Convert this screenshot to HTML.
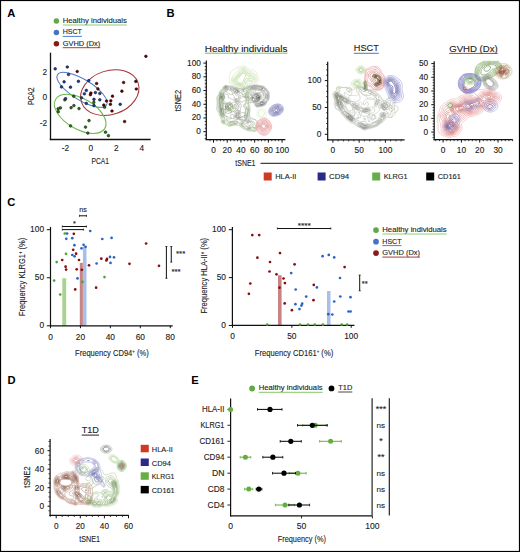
<!DOCTYPE html>
<html><head><meta charset="utf-8"><style>
html,body{margin:0;padding:0;background:#fff;}
svg{display:block;}
svg text{font-family:"Liberation Sans", sans-serif;}
</style></head><body>
<svg width="520" height="552" viewBox="0 0 520 552">
<rect width="520" height="552" fill="#fff"/>
<rect x="0.5" y="0.5" width="519" height="551" fill="none" stroke="#000" stroke-width="1.2"/>
<text x="7.2" y="17.3" font-size="11.2" font-weight="bold" fill="#000">A</text>
<text x="166.6" y="16.9" font-size="11.2" font-weight="bold" fill="#000">B</text>
<text x="7.2" y="206.3" font-size="11.2" font-weight="bold" fill="#000">C</text>
<text x="7.5" y="383.5" font-size="11.2" font-weight="bold" fill="#000">D</text>
<text x="191.3" y="383.9" font-size="11.2" font-weight="bold" fill="#000">E</text>
<circle cx="56.4" cy="21.1" r="2.75" fill="#62a844"/>
<text x="62.7" y="23" font-size="7.3" fill="#262626" textLength="64.2" lengthAdjust="spacingAndGlyphs" stroke="#262626" stroke-width="0.12">Healthy individuals</text>
<line x1="62.7" y1="25" x2="126.9" y2="25" stroke="#86c468" stroke-width="0.9"/>
<circle cx="56.4" cy="32.5" r="2.75" fill="#4674c4"/>
<text x="62.7" y="34.4" font-size="7.3" fill="#262626" textLength="19.2" lengthAdjust="spacingAndGlyphs" stroke="#262626" stroke-width="0.12">HSCT</text>
<line x1="62.7" y1="36.4" x2="81.9" y2="36.4" stroke="#3d6fd0" stroke-width="0.9"/>
<circle cx="56.4" cy="43.8" r="2.75" fill="#8c1818"/>
<text x="62.7" y="45.7" font-size="7.3" fill="#262626" textLength="37.6" lengthAdjust="spacingAndGlyphs" stroke="#262626" stroke-width="0.12">GVHD (Dx)</text>
<line x1="62.7" y1="47.7" x2="100.3" y2="47.7" stroke="#a82424" stroke-width="0.9"/>
<line x1="50.5" y1="52.7" x2="50.5" y2="140.1" stroke="#111" stroke-width="1.3"/>
<line x1="49.85" y1="139.5" x2="150.6" y2="139.5" stroke="#111" stroke-width="1.3"/>
<text x="47.1" y="75.3" font-size="8.3" text-anchor="end" fill="#222" stroke="#222" stroke-width="0.12">2</text>
<text x="47.1" y="100.4" font-size="8.3" text-anchor="end" fill="#222" stroke="#222" stroke-width="0.12">0</text>
<text x="47.1" y="125.5" font-size="8.3" text-anchor="end" fill="#222" stroke="#222" stroke-width="0.12">-2</text>
<text x="65.5" y="151" font-size="8.3" text-anchor="middle" fill="#222" stroke="#222" stroke-width="0.12">-2</text>
<text x="90.8" y="151" font-size="8.3" text-anchor="middle" fill="#222" stroke="#222" stroke-width="0.12">0</text>
<text x="116.4" y="151" font-size="8.3" text-anchor="middle" fill="#222" stroke="#222" stroke-width="0.12">2</text>
<text x="141.7" y="151" font-size="8.3" text-anchor="middle" fill="#222" stroke="#222" stroke-width="0.12">4</text>
<text x="100.25" y="163.7" font-size="9.3" text-anchor="middle" fill="#222" textLength="17.6" lengthAdjust="spacingAndGlyphs" stroke="#222" stroke-width="0.12">PCA1</text>
<text x="33.8" y="96.3" font-size="9.3" text-anchor="middle" fill="#222" textLength="17.6" lengthAdjust="spacingAndGlyphs" transform="rotate(-90 33.8 96.3)" stroke="#222" stroke-width="0.12">PCA2</text>
<ellipse cx="82" cy="89.8" rx="28.8" ry="10.3" transform="rotate(31.7 82 89.8)" fill="none" stroke="#4a78c8" stroke-width="1"/>
<ellipse cx="109.8" cy="92.6" rx="29.9" ry="21.9" transform="rotate(-19 109.8 92.6)" fill="none" stroke="#a83232" stroke-width="1"/>
<ellipse cx="80.2" cy="113.9" rx="28.6" ry="15.2" transform="rotate(30.4 80.2 113.9)" fill="none" stroke="#6ab84a" stroke-width="1"/>
<circle cx="73.7" cy="96.2" r="1.35" fill="#2e6a1e" stroke="#0a1a05" stroke-width="0.5"/>
<circle cx="64.8" cy="99.8" r="1.35" fill="#2e6a1e" stroke="#0a1a05" stroke-width="0.5"/>
<circle cx="60.4" cy="107.9" r="1.35" fill="#2e6a1e" stroke="#0a1a05" stroke-width="0.5"/>
<circle cx="58.1" cy="108.8" r="1.35" fill="#2e6a1e" stroke="#0a1a05" stroke-width="0.5"/>
<circle cx="58.3" cy="111.7" r="1.35" fill="#2e6a1e" stroke="#0a1a05" stroke-width="0.5"/>
<circle cx="71.1" cy="107.7" r="1.35" fill="#2e6a1e" stroke="#0a1a05" stroke-width="0.5"/>
<circle cx="73.9" cy="105.6" r="1.35" fill="#2e6a1e" stroke="#0a1a05" stroke-width="0.5"/>
<circle cx="79" cy="108.6" r="1.35" fill="#2e6a1e" stroke="#0a1a05" stroke-width="0.5"/>
<circle cx="93.8" cy="102.4" r="1.35" fill="#2e6a1e" stroke="#0a1a05" stroke-width="0.5"/>
<circle cx="89" cy="120.6" r="1.35" fill="#2e6a1e" stroke="#0a1a05" stroke-width="0.5"/>
<circle cx="70.5" cy="125.9" r="1.35" fill="#2e6a1e" stroke="#0a1a05" stroke-width="0.5"/>
<circle cx="85.5" cy="127.1" r="1.35" fill="#2e6a1e" stroke="#0a1a05" stroke-width="0.5"/>
<circle cx="87.8" cy="133.1" r="1.35" fill="#2e6a1e" stroke="#0a1a05" stroke-width="0.5"/>
<circle cx="105.5" cy="132.2" r="1.35" fill="#2e6a1e" stroke="#0a1a05" stroke-width="0.5"/>
<circle cx="108.4" cy="135.7" r="1.35" fill="#2e6a1e" stroke="#0a1a05" stroke-width="0.5"/>
<circle cx="104.6" cy="107.2" r="1.35" fill="#2e6a1e" stroke="#0a1a05" stroke-width="0.5"/>
<circle cx="55.2" cy="68.8" r="1.35" fill="#1a4090" stroke="#050a20" stroke-width="0.5"/>
<circle cx="67.3" cy="67" r="1.35" fill="#1a4090" stroke="#050a20" stroke-width="0.5"/>
<circle cx="68.5" cy="74.5" r="1.35" fill="#1a4090" stroke="#050a20" stroke-width="0.5"/>
<circle cx="64.1" cy="81.8" r="1.35" fill="#1a4090" stroke="#050a20" stroke-width="0.5"/>
<circle cx="78.4" cy="81.3" r="1.35" fill="#1a4090" stroke="#050a20" stroke-width="0.5"/>
<circle cx="61.5" cy="86.9" r="1.35" fill="#1a4090" stroke="#050a20" stroke-width="0.5"/>
<circle cx="70.5" cy="87.2" r="1.35" fill="#1a4090" stroke="#050a20" stroke-width="0.5"/>
<circle cx="88.8" cy="80.6" r="1.35" fill="#1a4090" stroke="#050a20" stroke-width="0.5"/>
<circle cx="86.3" cy="90.4" r="1.35" fill="#1a4090" stroke="#050a20" stroke-width="0.5"/>
<circle cx="84.4" cy="93.8" r="1.35" fill="#1a4090" stroke="#050a20" stroke-width="0.5"/>
<circle cx="95.4" cy="92.6" r="1.35" fill="#1a4090" stroke="#050a20" stroke-width="0.5"/>
<circle cx="99.8" cy="93.5" r="1.35" fill="#1a4090" stroke="#050a20" stroke-width="0.5"/>
<circle cx="81.5" cy="97.8" r="1.35" fill="#1a4090" stroke="#050a20" stroke-width="0.5"/>
<circle cx="94" cy="99.3" r="1.35" fill="#1a4090" stroke="#050a20" stroke-width="0.5"/>
<circle cx="99.8" cy="99.8" r="1.35" fill="#1a4090" stroke="#050a20" stroke-width="0.5"/>
<circle cx="86.3" cy="103.4" r="1.35" fill="#1a4090" stroke="#050a20" stroke-width="0.5"/>
<circle cx="94" cy="105.6" r="1.35" fill="#1a4090" stroke="#050a20" stroke-width="0.5"/>
<circle cx="120.2" cy="104.3" r="1.35" fill="#1a4090" stroke="#050a20" stroke-width="0.5"/>
<circle cx="65.6" cy="98.7" r="1.35" fill="#1a4090" stroke="#050a20" stroke-width="0.5"/>
<circle cx="77.2" cy="71.5" r="1.35" fill="#600000" stroke="#200000" stroke-width="0.5"/>
<circle cx="96.6" cy="83.5" r="1.35" fill="#600000" stroke="#200000" stroke-width="0.5"/>
<circle cx="97.9" cy="88.9" r="1.35" fill="#600000" stroke="#200000" stroke-width="0.5"/>
<circle cx="90.9" cy="93.1" r="1.35" fill="#600000" stroke="#200000" stroke-width="0.5"/>
<circle cx="90.4" cy="94.7" r="1.35" fill="#600000" stroke="#200000" stroke-width="0.5"/>
<circle cx="123.6" cy="82.5" r="1.35" fill="#600000" stroke="#200000" stroke-width="0.5"/>
<circle cx="121.9" cy="91.2" r="1.35" fill="#600000" stroke="#200000" stroke-width="0.5"/>
<circle cx="112.5" cy="96.2" r="1.35" fill="#600000" stroke="#200000" stroke-width="0.5"/>
<circle cx="106.5" cy="101" r="1.35" fill="#600000" stroke="#200000" stroke-width="0.5"/>
<circle cx="110.8" cy="100.8" r="1.35" fill="#600000" stroke="#200000" stroke-width="0.5"/>
<circle cx="110.4" cy="104.3" r="1.35" fill="#600000" stroke="#200000" stroke-width="0.5"/>
<circle cx="103.8" cy="105" r="1.35" fill="#600000" stroke="#200000" stroke-width="0.5"/>
<circle cx="112" cy="111" r="1.35" fill="#600000" stroke="#200000" stroke-width="0.5"/>
<circle cx="145.9" cy="56.3" r="1.35" fill="#600000" stroke="#200000" stroke-width="0.5"/>
<circle cx="135.8" cy="81.4" r="1.35" fill="#600000" stroke="#200000" stroke-width="0.5"/>
<circle cx="136.3" cy="89" r="1.35" fill="#600000" stroke="#200000" stroke-width="0.5"/>
<circle cx="124.6" cy="121.5" r="1.35" fill="#600000" stroke="#200000" stroke-width="0.5"/>
<g opacity="0.90"><path d="M252.6 88.6L251.4 89.0L250.2 89.3L249.0 89.5L247.8 89.6L246.6 89.7L245.4 89.7L244.2 89.5L243.0 89.2L241.8 88.8L241.2 88.6L240.6 88.5L239.4 88.3L238.2 88.2L237.0 87.9L235.8 87.4L235.8 87.4L234.6 86.8L233.9 86.2L233.4 85.9L232.2 85.2L231.9 85.0L231.0 84.4L230.3 83.8L229.8 82.7L229.7 82.6L229.5 81.4L229.6 80.2L229.7 79.0L229.7 77.8L229.7 76.6L229.7 75.4L229.8 74.7L229.9 74.2L230.3 73.0L231.0 71.9L231.1 71.8L232.2 70.7L232.4 70.6L233.4 69.8L234.1 69.4L234.6 69.1L235.8 68.4L236.2 68.2L237.0 67.8L238.2 67.3L239.0 67.0L239.4 66.8L240.6 66.3L241.8 66.0L243.0 65.8L244.2 65.9L245.4 66.3L246.4 67.0L246.6 67.1L247.8 68.2L247.8 68.2L249.0 69.2L249.3 69.4L250.2 69.7L251.4 69.8L252.6 69.9L253.8 70.3L254.4 70.6L255.0 71.0L255.8 71.8L256.2 72.3L256.6 73.0L257.2 74.2L257.4 74.7L257.7 75.4L258.1 76.6L258.4 77.8L258.4 79.0L258.2 80.2L257.9 81.4L257.5 82.6L257.4 82.7L257.0 83.8L256.5 85.0L256.2 85.5L255.8 86.2L255.0 87.2L254.8 87.4L253.8 88.1L252.7 88.6L252.6 88.6Z" fill="none" stroke="#cce6a8" stroke-width="0.55"/><path d="M246.6 88.6L246.2 88.6L245.4 88.6L244.2 88.4L243.0 88.0L241.8 87.6L241.1 87.4L240.6 87.3L239.4 87.1L238.2 86.9L237.0 86.5L236.4 86.2L235.8 85.9L234.6 85.1L234.4 85.0L233.4 84.3L232.6 83.8L232.2 83.3L231.6 82.6L231.3 81.4L231.4 80.2L231.6 79.0L232.0 77.8L232.2 77.4L232.6 76.6L233.3 75.4L233.4 75.2L234.5 74.2L234.6 74.1L235.6 73.0L235.8 72.8L236.3 71.8L237.0 71.1L237.3 70.6L238.2 69.7L238.5 69.4L239.4 68.8L240.3 68.2L240.6 68.0L241.8 67.5L243.0 67.3L244.2 67.4L245.4 67.9L245.8 68.2L246.6 68.8L247.3 69.4L247.8 70.0L248.4 70.6L249.0 71.1L250.2 71.6L251.4 71.8L251.5 71.8L252.6 72.1L253.8 72.9L253.9 73.0L254.9 74.2L255.0 74.3L255.7 75.4L256.2 76.4L256.3 76.6L256.6 77.8L256.7 79.0L256.5 80.2L256.2 80.9L256.0 81.4L255.4 82.6L255.0 83.3L254.6 83.8L253.8 84.8L253.6 85.0L252.6 86.0L252.3 86.2L251.4 86.8L250.5 87.4L250.2 87.6L249.0 88.1L247.8 88.4L246.7 88.6L246.6 88.6Z" fill="none" stroke="#c3e09d" stroke-width="0.55"/><path d="M247.8 87.4L246.6 87.7L245.4 87.8L244.2 87.5L243.8 87.4L243.0 87.1L241.8 86.8L240.6 86.5L239.5 86.2L239.4 86.2L238.2 85.9L237.0 85.5L236.1 85.0L235.8 84.8L234.6 84.0L234.3 83.8L233.4 83.0L233.0 82.6L232.5 81.4L232.5 80.2L232.8 79.0L233.4 77.9L233.4 77.8L234.6 76.6L234.6 76.6L235.8 75.7L236.2 75.4L237.0 74.6L237.3 74.2L238.0 73.0L238.2 72.7L238.7 71.8L239.4 70.7L239.5 70.6L240.6 69.5L240.7 69.4L241.8 68.8L243.0 68.5L244.2 68.5L245.4 69.0L245.9 69.4L246.6 70.1L247.1 70.6L247.8 71.5L248.1 71.8L249.0 72.5L250.2 73.0L250.4 73.0L251.4 73.3L252.6 73.9L253.0 74.2L253.8 75.0L254.1 75.4L254.9 76.6L255.0 76.9L255.3 77.8L255.4 79.0L255.1 80.2L255.0 80.5L254.5 81.4L253.8 82.3L253.4 82.6L252.6 83.1L251.4 83.4L250.2 83.3L249.1 83.8L249.4 85.0L249.2 86.2L249.0 86.4L247.9 87.4L247.8 87.4Z" fill="none" stroke="#b9db93" stroke-width="0.55"/><path d="M246.6 86.6L245.4 86.8L244.2 86.7L243.0 86.3L242.6 86.2L241.8 86.0L240.6 85.7L239.4 85.4L238.2 85.1L237.9 85.0L237.0 84.6L235.8 83.9L235.7 83.8L234.6 83.0L234.2 82.6L233.5 81.4L233.5 80.2L233.8 79.0L234.6 77.9L234.7 77.8L235.8 76.9L236.2 76.6L237.0 76.0L237.6 75.4L238.2 74.7L238.5 74.2L239.3 73.0L239.4 72.9L240.1 71.8L240.6 71.2L241.1 70.6L241.8 70.0L243.0 69.5L244.2 69.5L245.4 70.1L245.9 70.6L246.6 71.4L246.9 71.8L247.8 72.9L247.9 73.0L249.0 73.8L250.2 74.1L250.4 74.2L251.4 74.6L252.6 75.4L252.6 75.4L253.6 76.6L253.8 76.9L254.2 77.8L254.2 79.0L253.9 80.2L253.8 80.4L252.8 81.4L252.6 81.5L251.4 81.7L250.3 81.4L250.2 81.4L249.0 81.1L247.8 81.2L247.5 81.4L246.8 82.6L246.9 83.8L247.4 85.0L247.3 86.2L246.6 86.6Z" fill="none" stroke="#b0d588" stroke-width="0.55"/><path d="M245.4 85.1L244.2 85.5L243.0 85.4L241.8 85.2L240.8 85.0L240.6 85.0L239.4 84.7L238.2 84.3L237.2 83.8L237.0 83.7L235.8 82.9L235.4 82.6L234.6 81.6L234.5 81.4L234.4 80.2L234.6 79.5L234.8 79.0L235.8 77.9L235.9 77.8L237.0 77.0L237.5 76.6L238.2 75.9L238.6 75.4L239.4 74.4L239.5 74.2L240.5 73.0L240.6 72.8L241.5 71.8L241.8 71.5L243.0 70.7L244.2 70.6L244.2 70.6L244.2 70.6L245.4 71.3L245.9 71.8L246.6 72.8L246.8 73.0L247.7 74.2L247.8 74.3L249.0 75.0L250.2 75.3L250.5 75.4L251.4 75.8L252.3 76.6L252.6 77.0L253.0 77.8L253.0 79.0L252.6 79.9L252.0 80.2L251.4 80.4L250.2 80.2L250.2 80.2L249.0 79.9L247.8 79.8L246.7 80.2L246.6 80.3L245.8 81.4L245.4 82.6L245.4 82.6L245.4 82.7L245.4 83.8L245.5 85.0L245.4 85.1Z" fill="none" stroke="#a7cf7d" stroke-width="0.55"/><path d="M243.0 84.2L241.8 84.3L240.6 84.1L239.4 83.8L239.3 83.8L238.2 83.3L237.0 82.6L237.0 82.6L235.8 81.5L235.7 81.4L235.4 80.2L235.8 79.3L235.9 79.0L237.0 78.1L237.3 77.8L238.2 77.0L238.6 76.6L239.4 75.6L239.6 75.4L240.5 74.2L240.6 74.1L241.7 73.0L241.8 72.8L243.0 72.0L244.2 71.8L244.2 71.8L244.2 71.8L245.4 72.6L245.7 73.0L246.4 74.2L246.6 74.5L247.2 75.4L247.8 76.2L249.0 76.5L249.8 76.6L250.2 76.7L251.4 77.7L251.5 77.8L251.4 78.0L250.2 78.7L249.0 78.3L247.8 78.1L246.6 78.3L245.9 79.0L245.4 79.4L245.0 80.2L244.5 81.4L244.2 82.5L244.2 82.6L243.6 83.8L243.0 84.2Z" fill="none" stroke="#9dca73" stroke-width="0.55"/><path d="M241.8 83.1L240.6 83.1L239.4 82.8L239.1 82.6L238.2 82.0L237.5 81.4L237.0 80.5L236.9 80.2L237.0 79.9L237.5 79.0L238.2 78.3L238.7 77.8L239.4 77.0L239.7 76.6L240.6 75.4L240.6 75.4L241.7 74.2L241.8 74.1L243.0 73.3L244.2 73.1L245.3 74.2L245.4 74.5L245.7 75.4L245.5 76.6L245.4 76.7L244.7 77.8L244.2 78.6L244.0 79.0L243.6 80.2L243.2 81.4L243.0 82.0L242.6 82.6L241.8 83.1Z" fill="none" stroke="#94c468" stroke-width="0.55"/></g>
<g opacity="0.90"><path d="M256.2 131.1L255.0 131.6L253.8 131.5L252.6 131.4L251.4 131.2L250.2 131.1L249.0 130.9L247.8 130.8L247.4 130.6L246.6 130.4L245.4 129.7L245.0 129.4L244.2 128.9L243.4 128.2L243.0 128.0L241.8 127.3L241.4 127.0L240.6 126.7L239.4 125.9L239.3 125.8L238.2 125.2L237.0 125.4L235.8 125.4L234.6 125.4L233.4 125.6L232.2 125.8L232.0 125.8L231.0 126.1L229.8 126.3L228.6 126.3L227.8 125.8L227.4 125.6L226.2 124.9L225.7 124.6L225.0 124.3L223.8 124.1L222.6 123.7L222.2 123.4L221.4 122.5L221.2 122.2L221.1 121.0L221.2 119.8L221.0 118.6L220.5 117.4L220.2 116.6L219.9 116.2L219.2 115.0L219.0 114.2L218.7 113.8L218.3 112.6L218.1 111.4L218.0 110.2L217.9 109.0L217.8 107.8L217.8 107.5L217.5 106.6L217.2 105.4L217.1 104.2L217.0 103.0L217.0 101.8L216.9 100.6L216.9 99.4L217.3 98.2L217.8 97.3L217.9 97.0L218.2 95.8L218.5 94.6L218.8 93.4L219.0 93.0L219.1 92.2L219.6 91.0L220.2 90.4L221.0 89.8L221.4 89.5L222.4 88.6L222.6 88.5L223.6 87.4L223.8 87.2L224.6 86.2L225.0 85.9L226.2 85.5L227.4 85.8L228.0 86.2L228.6 86.9L229.2 87.4L229.8 88.5L230.0 88.6L231.0 89.5L232.2 89.6L233.4 89.1L234.5 88.6L234.6 88.6L235.8 88.1L237.0 87.9L238.2 88.0L239.4 88.6L239.4 88.6L240.6 89.2L241.8 89.5L243.0 89.3L244.2 88.9L245.1 88.6L245.4 88.5L246.6 88.4L247.8 88.4L248.5 88.6L249.0 88.7L250.2 88.9L251.4 88.9L252.6 89.0L253.8 89.2L255.0 89.8L255.1 89.8L256.2 90.3L257.4 90.6L258.6 90.6L259.8 90.8L261.0 90.9L261.3 91.0L262.2 91.2L263.4 91.8L263.8 92.2L263.9 93.4L263.5 94.6L263.4 95.1L263.3 95.8L263.4 96.5L263.5 97.0L263.9 98.2L263.9 99.4L263.4 100.6L263.4 100.6L262.2 101.5L261.0 101.4L259.8 101.1L258.6 101.1L257.4 101.8L257.4 101.8L256.2 102.7L255.0 102.9L253.8 102.7L252.6 102.5L251.4 102.2L250.2 102.5L250.0 103.0L249.8 104.2L249.5 105.4L249.4 106.6L249.5 107.8L249.7 109.0L249.9 110.2L249.9 111.4L249.8 112.6L249.5 113.8L249.3 115.0L249.2 116.2L249.5 117.4L250.2 118.0L251.4 118.4L251.9 118.6L252.6 118.8L253.8 119.2L254.8 119.8L255.0 119.9L256.2 120.8L256.4 121.0L257.4 122.0L257.6 122.2L258.6 123.3L258.7 123.4L259.0 124.6L258.6 125.8L258.6 125.8L257.4 126.8L257.2 127.0L257.0 128.2L257.1 129.4L256.7 130.6L256.2 131.1ZM228.2 119.8L227.4 119.3L226.2 118.6L226.0 119.8L226.2 120.1L227.4 120.6L228.2 119.8Z" fill="none" stroke="#a8c890" stroke-width="0.55"/><path d="M234.6 124.6L233.4 124.9L232.2 125.2L231.0 125.4L229.8 125.6L228.6 125.5L227.4 124.7L227.2 124.6L226.2 123.7L225.1 123.4L225.0 123.4L223.8 123.3L222.6 123.0L221.8 122.2L221.8 121.0L222.1 119.8L221.9 118.6L221.4 117.6L221.3 117.4L220.7 116.2L220.2 115.0L220.2 114.9L219.7 113.8L219.4 112.6L219.3 111.4L219.2 110.2L219.2 109.0L219.2 107.8L219.1 106.6L219.0 105.4L219.0 105.4L218.7 104.2L218.6 103.0L218.4 101.8L218.3 100.6L218.3 99.4L218.6 98.2L219.0 97.1L219.0 97.0L219.2 95.8L219.4 94.6L219.6 93.4L220.0 92.2L220.2 91.9L220.8 91.0L221.4 90.4L222.2 89.8L222.6 89.4L223.4 88.6L223.8 88.2L224.5 87.4L225.0 86.8L226.2 86.3L227.4 86.8L228.0 87.4L228.2 88.6L227.7 89.8L227.4 90.4L227.0 91.0L226.7 92.2L227.4 92.7L228.6 93.3L228.8 93.4L229.8 94.0L231.0 94.6L232.2 94.6L233.4 93.6L233.6 93.4L234.6 92.3L234.7 92.2L235.8 91.3L236.3 91.0L237.0 90.7L238.2 90.8L238.6 91.0L239.4 91.6L240.1 92.2L240.6 92.7L241.3 93.4L241.8 93.8L242.8 94.6L243.0 94.7L243.8 94.6L244.2 94.5L244.4 93.4L245.0 92.2L245.4 91.7L246.5 91.0L246.6 90.9L247.8 90.6L249.0 90.6L250.2 90.7L251.4 91.0L251.5 91.0L252.6 91.4L253.8 92.2L253.8 92.2L255.0 93.4L255.1 93.4L256.2 93.7L257.4 93.5L258.6 93.4L259.8 93.7L260.6 94.6L260.8 95.8L260.4 97.0L259.8 97.6L258.6 97.9L257.4 98.1L256.7 98.2L256.2 98.3L255.0 98.4L254.4 98.2L253.8 97.3L252.9 97.0L252.6 97.0L252.6 97.0L251.4 97.6L250.6 98.2L250.2 98.4L249.6 99.4L249.0 100.5L249.0 100.6L248.8 101.8L248.7 103.0L248.6 104.2L248.5 105.4L248.5 106.6L248.6 107.8L248.8 109.0L248.9 110.2L248.9 111.4L248.7 112.6L248.5 113.8L248.3 115.0L247.9 116.2L247.8 116.6L247.6 117.4L246.6 118.5L245.4 118.6L244.2 117.9L243.4 117.4L243.0 117.0L241.8 117.3L241.3 117.4L240.6 117.7L239.4 117.6L239.2 117.4L238.6 116.2L239.1 115.0L239.4 114.7L239.9 113.8L240.0 112.6L239.4 111.5L239.4 111.4L238.2 110.3L237.8 110.2L237.0 109.8L235.8 109.9L235.3 109.0L235.8 107.8L235.8 107.8L236.7 106.6L236.3 105.4L235.8 104.8L234.6 104.2L234.6 104.2L234.6 104.2L234.5 105.4L234.5 106.6L234.4 107.8L233.9 109.0L233.4 109.3L232.7 110.2L232.2 110.8L231.0 111.4L230.8 111.4L230.1 112.6L231.0 113.2L231.8 112.6L232.2 112.2L233.2 111.4L233.4 111.2L234.6 110.6L235.3 111.4L235.8 112.0L236.0 112.6L236.4 113.8L236.6 115.0L236.3 116.2L235.8 116.6L235.0 117.4L234.6 117.8L233.5 118.6L233.4 118.7L232.2 118.7L231.9 118.6L231.0 118.2L229.8 117.6L229.3 117.4L228.6 117.1L227.4 116.5L226.6 116.2L226.2 116.0L225.8 116.2L225.0 116.6L224.7 117.4L224.4 118.6L224.6 119.8L225.0 120.3L225.6 121.0L226.2 121.8L227.4 122.1L228.6 122.2L229.8 121.9L231.0 121.4L232.2 121.1L233.1 121.0L233.4 120.8L234.6 120.7L235.8 120.6L236.9 121.0L237.0 121.0L238.1 122.2L238.1 123.4L237.0 124.4L235.8 124.5L235.0 124.6L234.6 124.6ZM245.4 106.6L245.7 105.4L245.6 104.2L245.4 103.6L244.5 104.2L244.2 104.7L244.0 105.4L244.2 106.2L244.8 106.6L245.4 106.7L245.4 106.6ZM255.0 131.0L253.8 130.8L252.9 130.6L252.6 130.5L251.4 130.4L250.2 130.3L249.0 130.2L247.8 130.1L246.6 129.5L246.5 129.4L245.4 128.6L244.9 128.2L244.2 127.6L243.3 127.0L243.0 126.8L241.8 126.2L241.1 125.8L240.6 125.5L239.8 124.6L239.6 123.4L240.3 122.2L240.6 121.8L241.8 121.4L243.0 122.0L243.2 122.2L244.2 122.9L245.1 123.4L245.4 123.6L246.6 123.5L246.7 123.4L247.6 122.2L247.8 122.1L249.0 122.0L250.2 122.0L251.4 121.7L252.6 121.5L253.8 121.8L254.2 122.2L254.9 123.4L254.4 124.6L253.8 125.0L252.6 125.8L252.6 125.8L252.6 125.8L253.0 127.0L253.8 127.2L255.0 127.7L255.6 128.2L256.2 129.0L256.3 129.4L256.2 129.7L255.6 130.6L255.0 131.0Z" fill="none" stroke="#98b780" stroke-width="0.55"/><path d="M223.8 117.6L222.6 118.3L222.0 117.4L221.4 116.5L221.2 116.2L220.7 115.0L220.3 113.8L220.2 113.1L220.0 112.6L219.9 111.4L219.8 110.2L219.7 109.0L219.7 107.8L219.7 106.6L219.6 105.4L219.5 104.2L219.4 103.0L219.3 101.8L219.1 100.6L219.1 99.4L219.2 98.2L219.4 97.0L219.7 95.8L219.9 94.6L220.2 93.6L220.2 93.4L220.6 92.2L221.4 91.2L221.7 91.0L222.6 90.2L223.0 89.8L223.8 89.0L224.2 88.6L225.0 87.6L225.2 87.4L226.2 86.8L227.2 87.4L227.4 88.2L227.5 88.6L227.4 88.7L226.6 89.8L226.2 90.3L225.5 91.0L225.0 91.6L224.4 92.2L223.8 93.2L223.8 93.4L223.8 94.1L223.9 94.6L224.4 95.8L224.8 97.0L224.7 98.2L223.8 99.3L223.8 99.4L223.5 100.6L223.5 101.8L223.8 102.6L224.2 103.0L225.0 103.7L226.2 103.4L227.2 103.0L227.4 102.9L228.6 102.3L229.8 102.1L231.0 102.6L231.3 103.0L232.2 103.7L232.6 104.2L233.2 105.4L233.3 106.6L233.1 107.8L232.5 109.0L232.2 109.3L231.1 110.2L231.0 110.3L229.8 111.0L228.6 111.2L227.4 111.3L226.2 111.0L225.8 110.2L225.1 109.0L225.0 108.7L224.7 109.0L224.8 110.2L225.0 111.0L225.8 111.4L225.8 112.6L225.0 113.3L224.9 113.8L224.7 115.0L224.3 116.2L223.9 117.4L223.8 117.6ZM247.8 103.9L246.6 103.2L246.5 103.0L245.9 101.8L245.4 100.7L244.8 100.6L244.2 100.3L244.0 100.6L243.0 101.7L242.7 101.8L241.8 102.2L240.6 101.8L240.6 101.8L239.9 100.6L239.4 99.7L239.3 99.4L238.6 98.2L238.2 97.0L238.7 95.8L239.4 95.4L240.6 95.6L240.9 95.8L241.8 96.3L243.0 97.0L243.2 97.0L244.2 97.4L244.3 97.0L244.8 95.8L245.0 94.6L245.3 93.4L245.4 93.3L246.6 92.2L246.7 92.2L247.8 92.1L248.9 92.2L249.0 92.2L250.2 92.6L251.2 93.4L251.2 94.6L250.2 95.6L250.1 95.8L249.1 97.0L249.0 97.2L248.8 98.2L248.6 99.4L248.3 100.6L248.1 101.8L247.9 103.0L247.8 103.9ZM229.9 107.8L230.7 106.6L229.8 105.4L228.6 106.4L228.5 106.6L228.6 106.8L229.7 107.8L229.8 107.8L229.9 107.8ZM246.6 117.8L245.4 117.8L244.9 117.4L244.6 116.2L244.6 115.0L244.8 113.8L245.2 112.6L245.4 111.4L245.4 111.4L245.4 110.2L245.6 109.0L246.1 107.8L246.6 106.7L247.8 106.7L248.0 107.8L248.3 109.0L248.4 110.2L248.4 111.4L248.2 112.6L247.9 113.8L247.8 114.0L247.5 115.0L247.3 116.2L246.9 117.4L246.6 117.8ZM225.0 122.3L223.8 122.8L222.6 122.4L222.4 122.2L222.3 121.0L222.6 120.2L223.8 119.8L224.7 121.0L225.0 122.0L225.1 122.2L225.0 122.3ZM232.2 124.7L231.0 125.0L229.8 125.1L228.6 124.9L228.2 124.6L227.5 123.4L228.6 122.9L229.8 122.6L231.0 122.2L231.2 122.2L232.2 121.9L233.4 121.7L234.6 121.7L235.8 121.6L237.0 122.0L237.2 122.2L237.3 123.4L237.0 123.7L235.8 124.0L234.6 124.0L233.4 124.3L232.5 124.6L232.2 124.7ZM255.0 130.2L253.8 130.0L252.6 129.9L251.4 129.8L250.2 129.7L249.0 129.6L247.8 129.5L247.6 129.4L246.6 128.8L245.9 128.2L245.4 127.7L244.5 127.0L244.2 126.7L243.0 126.1L242.5 125.8L241.8 125.5L240.6 124.6L240.6 124.5L240.5 123.4L240.6 123.3L241.8 122.5L243.0 123.1L243.4 123.4L244.2 124.3L244.6 124.6L245.4 125.2L246.3 125.8L246.6 125.9L247.8 126.6L248.6 127.0L249.0 127.2L250.2 127.3L251.4 127.5L252.6 127.8L253.4 128.2L253.8 128.4L255.0 128.7L255.6 129.4L255.0 130.2Z" fill="none" stroke="#87a56f" stroke-width="0.55"/><path d="M222.6 117.2L221.9 116.2L221.4 115.6L221.1 115.0L220.7 113.8L220.5 112.6L220.4 111.4L220.3 110.2L220.3 109.0L220.3 107.8L220.3 106.6L220.2 105.8L220.2 105.4L220.0 104.2L219.9 103.0L219.8 101.8L219.6 100.6L219.5 99.4L219.6 98.2L219.8 97.0L220.1 95.8L220.2 95.5L220.4 94.6L220.7 93.4L221.2 92.2L221.4 91.9L222.6 91.0L222.6 91.0L223.8 89.8L223.8 89.8L224.9 88.6L225.0 88.4L226.0 87.4L226.2 87.3L226.4 87.4L226.7 88.6L226.2 89.3L225.6 89.8L225.0 90.4L224.4 91.0L223.8 91.6L223.2 92.2L223.2 93.4L223.3 94.6L223.4 95.8L223.5 97.0L223.5 98.2L223.0 99.4L222.6 100.5L222.6 100.6L222.5 101.8L222.6 102.1L222.9 103.0L223.4 104.2L223.5 105.4L223.4 106.6L223.3 107.8L223.3 109.0L223.4 110.2L223.6 111.4L223.8 112.6L223.8 113.1L223.9 113.8L223.8 115.0L223.8 115.1L223.5 116.2L222.6 117.2ZM246.6 101.1L246.3 100.6L245.8 99.4L245.5 98.2L245.5 97.0L245.6 95.8L245.7 94.6L246.0 93.4L246.6 92.8L247.8 93.0L248.3 93.4L248.6 94.6L248.5 95.8L248.4 97.0L248.2 98.2L247.9 99.4L247.8 99.9L247.2 100.6L246.6 101.1ZM229.8 110.4L228.6 110.6L227.4 110.3L227.3 110.2L226.2 109.2L226.1 109.0L225.4 107.8L225.1 106.6L225.3 105.4L226.2 104.4L226.4 104.2L227.4 103.5L228.6 103.2L229.8 103.0L231.0 103.4L231.9 104.2L232.2 104.6L232.7 105.4L232.8 106.6L232.6 107.8L232.2 108.4L231.7 109.0L231.0 109.6L230.1 110.2L229.8 110.4ZM231.0 107.8L231.0 107.8L231.5 106.6L231.0 105.8L230.6 105.4L229.8 104.9L228.6 105.2L228.4 105.4L228.1 106.6L228.4 107.8L228.6 107.9L229.8 108.3L231.0 107.8ZM246.6 116.5L245.4 116.2L245.6 115.0L245.9 113.8L246.0 112.6L246.0 111.4L246.1 110.2L246.4 109.0L246.6 108.6L247.5 109.0L247.8 109.3L247.9 110.2L247.9 111.4L247.8 111.9L247.5 112.6L247.2 113.8L247.0 115.0L246.7 116.2L246.6 116.5ZM223.8 122.3L223.6 122.2L223.1 121.0L223.8 120.7L224.1 121.0L224.0 122.2L223.8 122.3ZM235.8 123.4L234.6 123.5L233.4 123.7L232.2 124.0L231.0 124.3L229.8 124.4L229.3 123.4L229.8 123.2L231.0 122.9L232.2 122.7L233.4 122.7L234.6 123.1L235.8 123.1L235.9 123.4L235.8 123.4ZM243.0 125.0L241.8 124.9L241.4 124.6L241.4 123.4L241.8 123.1L242.3 123.4L243.0 124.2L243.4 124.6L243.0 125.0ZM246.6 127.0L246.6 127.0L246.6 127.0L246.6 127.0L246.6 127.0ZM250.2 128.5L249.0 128.6L247.8 128.5L247.1 128.2L247.8 127.8L249.0 128.0L250.2 128.1L250.8 128.2L250.2 128.5Z" fill="none" stroke="#76945f" stroke-width="0.55"/><path d="M222.6 116.3L222.6 116.2L221.7 115.0L221.4 114.6L221.2 113.8L221.0 112.6L220.9 111.4L220.8 110.2L220.8 109.0L220.9 107.8L220.9 106.6L220.8 105.4L220.7 104.2L220.8 103.0L220.8 101.8L220.2 100.8L220.2 100.6L220.0 99.4L220.0 98.2L220.2 97.4L220.3 97.0L220.6 95.8L220.8 94.6L221.2 93.4L221.4 92.9L222.6 93.4L222.6 93.4L222.8 94.6L222.9 95.8L223.0 97.0L222.9 98.2L222.6 98.8L222.4 99.4L221.9 100.6L221.7 101.8L222.0 103.0L222.4 104.2L222.6 105.0L222.7 105.4L222.6 106.6L222.6 106.9L222.6 107.8L222.6 108.2L222.6 109.0L222.8 110.2L222.9 111.4L223.2 112.6L223.3 113.8L223.2 115.0L222.6 116.2L222.6 116.3ZM246.6 99.4L246.6 99.4L246.2 98.2L246.1 97.0L246.2 95.8L246.3 94.6L246.6 93.4L246.6 93.4L246.7 93.4L247.5 94.6L247.6 95.8L247.6 97.0L247.3 98.2L246.6 99.4L246.6 99.4ZM231.0 109.0L229.8 109.5L228.6 110.0L227.4 109.7L226.6 109.0L226.2 108.3L225.9 107.8L225.5 106.6L225.8 105.4L226.2 105.0L227.1 104.2L227.4 104.0L228.6 103.8L229.8 103.8L231.0 104.0L231.2 104.2L231.0 104.7L229.8 104.4L228.6 104.6L227.9 105.4L227.6 106.6L228.0 107.8L228.6 108.4L229.8 108.8L231.0 108.9L231.0 109.0L231.0 109.0ZM232.2 106.8L232.1 106.6L232.2 105.6L232.2 106.6L232.2 106.8Z" fill="none" stroke="#66834f" stroke-width="0.55"/><path d="M221.4 100.3L220.7 99.4L220.6 98.2L220.8 97.0L221.0 95.8L221.3 94.6L221.4 94.2L221.7 94.6L222.2 95.8L222.4 97.0L222.2 98.2L221.8 99.4L221.4 100.3ZM227.4 105.7L227.1 105.4L227.4 105.2L227.5 105.4L227.4 105.7ZM226.2 107.4L226.0 106.6L226.2 105.9L226.9 106.6L226.2 107.4ZM228.6 109.3L227.4 109.3L227.1 109.0L226.8 107.8L227.4 107.3L227.5 107.8L228.6 108.8L229.1 109.0L228.6 109.3ZM221.4 112.6L221.4 112.6L221.4 111.4L221.3 110.2L221.3 109.0L221.4 108.1L221.6 109.0L221.6 110.2L221.6 111.4L221.8 112.6L221.4 112.6ZM222.6 115.0L222.6 115.0L222.1 113.8L222.6 112.7L222.8 113.8L222.6 115.0L222.6 115.0Z" fill="none" stroke="#56713e" stroke-width="0.55"/><path d="M221.4 98.8L221.2 98.2L221.2 97.0L221.4 96.1L221.7 97.0L221.6 98.2L221.4 98.8Z" fill="none" stroke="#45602e" stroke-width="0.55"/></g>
<g opacity="0.85"><path d="M250.2 128.6L249.0 128.9L247.8 129.1L246.6 129.3L245.4 129.2L244.2 128.9L243.0 128.3L242.8 128.2L241.8 127.6L241.0 127.0L240.6 126.6L239.9 125.8L239.5 124.6L239.4 124.2L239.2 123.4L238.2 122.2L238.1 122.2L237.0 122.0L235.8 121.8L234.6 121.7L233.4 121.7L232.2 121.6L231.0 121.5L229.8 121.3L228.7 121.0L228.6 121.0L227.4 120.6L226.3 119.8L226.2 119.7L225.2 118.6L225.0 118.4L224.2 117.4L223.8 116.8L223.3 116.2L222.7 115.0L222.6 114.8L222.0 113.8L221.4 113.1L220.9 112.6L220.2 111.9L219.0 111.4L218.9 111.4L217.8 111.1L216.8 110.2L216.6 109.8L216.4 109.0L216.4 107.8L216.6 107.2L216.8 106.6L217.2 105.4L217.5 104.2L217.5 103.0L217.6 101.8L217.6 100.6L217.4 99.4L216.9 98.2L216.9 97.0L217.8 95.8L217.8 95.8L219.0 95.0L219.4 94.6L220.2 94.0L221.3 93.4L221.4 93.3L222.6 92.7L223.8 92.3L224.2 92.2L225.0 91.7L226.2 91.5L227.1 91.0L226.2 90.8L225.0 90.6L224.1 89.8L223.8 89.6L223.0 88.6L222.8 87.4L223.5 86.2L223.8 86.0L225.0 85.4L226.2 85.5L227.4 85.7L228.6 85.8L229.8 85.9L231.0 86.0L232.0 86.2L232.2 86.2L233.4 86.4L234.6 86.7L235.7 87.4L235.8 87.4L237.0 87.9L238.2 88.5L238.8 88.6L239.4 88.7L240.6 88.7L241.0 88.6L241.8 88.4L243.0 88.0L244.2 87.8L245.4 87.4L245.4 87.4L246.6 86.6L247.8 86.2L247.9 86.2L249.0 85.8L250.2 85.5L251.4 85.2L252.6 85.1L253.8 85.0L255.0 85.0L256.2 85.0L257.4 85.1L258.6 85.2L259.8 85.4L261.0 85.6L262.2 85.9L263.1 86.2L263.4 86.3L264.6 86.7L265.3 87.4L265.8 87.9L266.4 88.6L267.0 89.4L267.4 89.8L268.2 90.9L268.3 91.0L269.1 92.2L269.3 93.4L269.3 94.6L269.3 95.8L269.3 97.0L269.2 98.2L269.1 99.4L268.4 100.6L268.2 100.8L267.3 101.8L267.0 102.2L266.6 103.0L266.1 104.2L265.8 104.5L264.8 105.4L264.6 105.5L263.4 106.0L262.2 106.3L261.0 106.5L259.9 106.6L259.8 106.6L258.6 107.0L257.4 107.3L256.2 106.9L255.8 106.6L255.0 105.6L254.8 105.4L254.5 104.2L254.1 103.0L253.8 102.9L252.6 102.6L251.4 102.2L250.2 102.2L249.0 102.6L248.5 103.0L247.8 104.1L247.8 104.2L247.8 104.4L248.0 105.4L249.0 106.2L249.3 106.6L249.8 107.8L249.9 109.0L249.9 110.2L249.8 111.4L249.6 112.6L249.4 113.8L249.5 115.0L249.9 116.2L250.2 116.7L250.8 117.4L251.4 118.0L252.2 118.6L252.6 118.9L253.8 119.3L255.0 119.5L256.2 119.8L256.2 119.8L257.4 121.0L257.4 121.6L257.4 122.2L257.4 122.3L257.1 123.4L256.8 124.6L256.8 125.8L256.3 127.0L256.2 127.1L255.0 127.4L253.8 127.4L252.6 127.7L251.4 128.2L251.3 128.2L250.2 128.6ZM254.2 92.2L255.0 91.5L255.9 91.0L255.0 90.6L253.8 90.1L252.6 90.0L251.4 90.4L250.7 91.0L251.4 92.2L251.4 92.2L252.6 92.7L253.8 92.4L254.2 92.2ZM236.1 106.6L236.5 105.4L235.8 104.9L234.6 104.7L233.8 105.4L234.6 106.2L235.5 106.6L235.8 106.7L236.1 106.6Z" fill="none" stroke="#a8a8a8" stroke-width="0.55"/><path d="M249.0 127.3L247.8 127.2L246.8 127.0L246.6 126.9L245.4 126.6L244.2 126.5L243.0 126.2L242.5 125.8L241.8 124.8L241.7 124.6L241.8 124.3L242.3 123.4L243.0 122.8L244.2 122.3L244.3 122.2L244.2 122.2L243.0 121.6L242.6 121.0L241.8 120.7L240.6 120.3L239.4 119.9L238.9 119.8L238.2 119.7L237.0 119.6L235.8 119.4L234.6 119.0L233.6 118.6L233.5 117.4L233.6 116.2L233.6 115.0L233.4 114.7L232.2 114.4L231.0 114.9L230.9 115.0L230.5 116.2L231.0 117.4L231.0 117.4L231.4 118.6L231.0 118.7L229.8 119.0L228.6 118.9L228.1 118.6L227.4 118.0L227.0 117.4L226.4 116.2L226.2 116.0L225.4 115.0L225.0 114.6L224.2 113.8L223.8 113.5L222.9 112.6L222.6 112.3L221.8 111.4L221.4 110.9L220.7 110.2L220.2 109.7L219.1 109.0L219.0 108.8L218.5 107.8L218.6 106.6L218.9 105.4L219.0 105.1L219.2 104.2L219.4 103.0L219.6 101.8L219.7 100.6L219.7 99.4L219.6 98.2L219.8 97.0L220.2 96.4L220.5 95.8L221.4 94.9L222.0 94.6L222.6 94.3L223.8 94.0L225.0 93.9L226.2 94.1L227.4 94.4L228.3 94.6L228.3 95.8L228.2 97.0L228.6 97.7L229.8 98.1L229.9 98.2L231.0 98.8L231.8 99.4L232.2 99.8L233.4 99.7L233.5 99.4L234.2 98.2L234.4 97.0L233.7 95.8L233.4 95.4L232.6 94.6L232.3 93.4L232.3 92.2L232.2 92.1L231.1 91.0L231.0 90.9L229.8 90.5L228.6 89.8L228.5 89.8L227.4 89.5L226.2 89.4L225.0 89.3L224.1 88.6L223.8 87.6L223.7 87.4L223.8 87.3L224.7 86.2L225.0 86.0L226.2 86.2L226.3 86.2L227.4 86.5L228.6 86.6L229.8 86.7L231.0 86.7L232.2 86.9L233.4 87.3L233.6 87.4L234.6 87.7L235.8 88.2L236.4 88.6L237.0 88.8L238.2 89.2L239.2 89.8L239.4 90.0L240.6 90.4L241.2 89.8L241.8 89.5L243.0 88.8L244.2 88.8L245.0 88.6L245.4 88.5L246.6 87.8L247.0 87.4L247.8 87.0L249.0 86.5L250.0 86.2L250.2 86.1L251.4 85.7L252.6 85.6L253.8 85.4L255.0 85.4L256.2 85.5L257.4 85.5L258.6 85.7L259.8 85.9L260.8 86.2L261.0 86.2L262.2 86.5L263.4 86.7L264.5 87.4L264.6 87.5L265.7 88.6L265.8 88.8L266.6 89.8L267.0 90.3L267.6 91.0L268.2 91.8L268.5 92.2L268.7 93.4L268.8 94.6L268.8 95.8L268.8 97.0L268.7 98.2L268.5 99.4L268.2 99.8L267.5 100.6L267.0 101.2L266.6 101.8L266.0 103.0L265.8 103.3L265.4 104.2L264.6 105.0L263.4 105.4L263.4 105.4L262.2 105.8L261.0 106.0L259.8 106.2L258.6 106.5L257.8 106.6L257.4 106.7L257.1 106.6L256.2 106.3L255.4 105.4L255.3 104.2L255.6 103.0L255.0 102.7L253.8 102.2L253.1 101.8L252.6 101.6L251.4 100.8L250.9 100.6L250.2 100.2L249.0 100.2L247.8 100.3L247.3 100.6L246.6 101.3L246.2 101.8L245.4 103.0L245.4 103.1L244.3 104.2L244.2 104.4L243.6 105.4L243.6 106.6L244.2 107.6L244.6 107.8L245.4 108.0L246.6 108.1L247.8 108.6L248.0 109.0L248.1 110.2L247.8 111.2L247.7 111.4L247.3 112.6L247.4 113.8L247.6 115.0L247.8 115.4L248.1 116.2L248.8 117.4L249.0 117.7L249.8 118.6L250.2 119.0L250.9 119.8L251.4 120.5L251.9 121.0L252.6 122.2L252.6 122.3L252.9 123.4L252.6 124.6L252.6 124.6L251.9 125.8L251.4 126.2L250.2 127.0L250.2 127.0L249.0 127.3ZM264.0 94.6L263.9 93.4L263.4 93.1L262.4 92.2L262.2 92.0L261.4 91.0L261.0 90.8L259.8 90.6L258.6 90.0L258.2 89.8L257.4 89.6L256.2 89.5L255.0 89.4L253.8 89.3L252.6 89.3L251.4 89.4L250.2 89.7L250.0 89.8L249.0 90.8L248.8 91.0L249.0 91.3L249.5 92.2L250.2 92.9L250.7 93.4L251.4 94.1L252.6 94.1L253.8 93.6L254.5 93.4L255.0 93.1L256.2 92.7L257.4 92.5L258.6 92.5L259.8 92.4L261.0 92.5L262.2 92.8L262.6 93.4L263.1 94.6L263.4 95.5L264.0 94.6ZM240.9 98.2L240.7 97.0L240.6 96.9L239.4 96.8L239.1 97.0L239.1 98.2L239.4 98.6L240.6 99.0L240.9 98.2ZM237.6 107.8L238.2 107.0L238.3 106.6L238.2 106.0L238.0 105.4L237.0 104.2L237.0 104.2L235.8 103.3L235.3 103.0L234.6 102.5L233.4 102.1L232.2 103.0L232.2 103.0L231.2 104.2L231.0 104.9L230.9 105.4L231.0 106.5L231.0 106.6L232.2 107.8L232.3 107.8L233.4 108.0L234.6 108.3L235.8 108.7L237.0 108.6L237.6 107.8Z" fill="none" stroke="#9a9a9a" stroke-width="0.55"/><path d="M261.0 105.6L259.8 105.9L258.6 106.1L257.4 106.3L256.2 105.8L255.8 105.4L255.8 104.2L256.2 103.4L256.9 103.0L256.2 102.6L255.0 102.2L254.2 101.8L253.8 101.7L252.6 101.0L252.0 100.6L251.4 99.9L250.7 99.4L250.2 98.6L249.3 98.2L249.0 97.9L247.8 97.0L247.8 97.0L246.6 96.8L245.9 97.0L245.4 97.2L244.2 97.3L244.0 97.0L243.3 95.8L243.0 95.2L242.5 94.6L242.2 93.4L241.8 92.2L241.8 91.9L241.8 91.0L241.8 90.9L242.5 89.8L243.0 89.5L244.2 89.5L245.4 89.7L246.0 89.8L246.6 90.0L247.0 91.0L247.4 92.2L247.8 92.4L249.0 93.3L249.1 93.4L249.8 94.6L250.2 95.2L251.4 95.3L252.6 94.9L253.2 94.6L253.8 94.2L255.0 93.7L256.2 93.5L257.4 93.5L258.6 93.6L259.8 93.9L261.0 94.5L261.1 94.6L261.7 95.8L261.8 97.0L261.9 98.2L262.0 99.4L262.2 99.8L263.4 99.8L264.2 99.4L264.6 99.1L265.1 98.2L264.9 97.0L264.9 95.8L265.1 94.6L265.3 93.4L264.6 92.7L264.0 92.2L263.4 91.7L262.7 91.0L262.2 90.5L261.0 90.1L260.2 89.8L259.8 89.7L258.6 89.4L257.4 89.1L256.2 89.0L255.0 88.9L253.8 88.8L252.6 88.8L251.4 88.9L250.2 89.1L249.0 89.3L247.8 89.4L247.2 88.6L247.8 88.1L248.3 87.4L249.0 87.1L250.2 86.7L251.3 86.2L251.4 86.2L252.6 86.0L253.8 85.9L255.0 85.8L256.2 85.9L257.4 86.0L258.6 86.1L258.8 86.2L259.8 86.4L261.0 86.6L262.2 86.8L263.4 87.1L263.9 87.4L264.6 88.0L265.2 88.6L265.8 89.5L266.1 89.8L266.9 91.0L267.0 91.2L267.8 92.2L268.2 93.3L268.2 93.4L268.3 94.6L268.3 95.8L268.3 97.0L268.2 98.2L268.2 98.3L267.9 99.4L267.0 100.4L266.8 100.6L266.0 101.8L265.8 102.1L265.5 103.0L265.0 104.2L264.6 104.6L263.4 105.1L262.2 105.3L261.9 105.4L261.0 105.6ZM238.2 94.7L237.0 95.3L235.8 94.9L235.5 94.6L234.7 93.4L234.6 93.3L233.8 92.2L233.4 91.8L232.5 91.0L232.2 90.7L231.0 90.0L230.7 89.8L229.8 89.4L228.6 89.0L227.4 88.8L226.2 88.8L225.0 88.7L224.9 88.6L224.3 87.4L225.0 86.6L226.2 86.7L227.4 87.1L228.6 87.3L229.8 87.3L231.0 87.3L231.4 87.4L232.2 87.6L233.4 87.9L234.6 88.2L235.3 88.6L235.8 88.8L237.0 89.3L238.0 89.8L238.2 89.9L239.4 91.0L239.4 91.3L240.0 92.2L239.9 93.4L239.4 93.7L238.4 94.6L238.2 94.7ZM229.8 113.1L228.6 113.4L227.4 113.3L226.2 112.9L225.7 112.6L225.0 112.2L223.8 111.5L223.7 111.4L222.6 110.4L222.4 110.2L221.4 109.0L221.4 109.0L220.4 107.8L220.2 107.2L220.0 106.6L220.2 105.4L220.2 105.3L220.6 104.2L221.1 103.0L221.4 102.1L221.6 101.8L222.3 100.6L222.4 99.4L222.0 98.2L221.9 97.0L222.6 95.9L222.8 95.8L223.8 95.6L224.4 95.8L224.8 97.0L224.1 98.2L223.8 99.1L223.3 99.4L223.8 99.8L224.0 100.6L225.0 101.7L225.1 101.8L226.0 103.0L226.2 103.2L227.1 104.2L227.4 104.7L227.9 105.4L228.1 106.6L228.6 107.8L228.6 107.8L229.5 109.0L229.8 109.3L230.8 110.2L231.0 110.6L232.0 111.4L231.0 112.3L230.8 112.6L229.8 113.1ZM250.2 125.4L249.0 125.7L248.0 124.6L247.9 123.4L247.8 123.4L246.9 122.2L246.6 122.0L245.4 121.5L244.4 121.0L244.2 120.9L243.0 120.5L241.8 119.9L241.5 119.8L240.6 119.5L239.4 119.3L238.2 119.1L237.1 118.6L237.0 118.6L235.8 118.1L235.0 117.4L234.6 116.2L234.8 115.0L235.1 113.8L234.6 112.6L234.6 112.5L233.4 111.5L232.8 111.4L233.4 111.2L234.6 110.9L235.8 111.2L237.0 110.4L237.2 110.2L237.9 109.0L238.2 108.6L238.7 107.8L239.1 106.6L238.8 105.4L238.2 104.7L237.8 104.2L237.0 103.5L236.4 103.0L235.8 102.4L235.1 101.8L234.6 100.8L234.4 100.6L234.6 99.9L234.6 99.4L235.8 98.3L237.0 98.4L238.0 99.4L238.2 99.8L238.8 100.6L239.3 101.8L239.4 102.1L240.0 103.0L240.6 104.2L240.6 104.2L241.4 105.4L241.3 106.6L240.8 107.8L240.6 108.2L240.4 109.0L240.3 110.2L240.5 111.4L240.6 111.9L241.5 112.6L241.8 112.8L243.0 112.7L243.5 112.6L244.2 112.5L244.4 112.6L245.4 113.2L245.7 113.8L246.2 115.0L246.6 116.1L246.6 116.2L247.0 117.4L247.8 118.3L248.1 118.6L249.0 119.1L249.7 119.8L250.2 121.0L250.2 121.0L250.7 122.2L251.2 123.4L251.0 124.6L250.2 125.4Z" fill="none" stroke="#8c8c8c" stroke-width="0.55"/><path d="M226.2 87.6L225.0 87.7L224.8 87.4L225.0 87.2L226.2 87.3L226.5 87.4L226.2 87.6ZM259.8 105.5L258.6 105.8L257.4 106.0L256.3 105.4L256.2 104.2L257.4 103.3L258.1 103.0L258.6 102.7L259.8 102.0L260.3 101.8L261.0 101.2L262.2 101.1L263.4 100.8L263.8 100.6L264.6 100.1L265.4 99.4L265.7 98.2L265.5 97.0L265.5 95.8L265.8 94.6L265.8 94.5L266.2 93.4L265.8 92.8L265.2 92.2L264.6 91.8L263.5 91.0L263.4 90.9L262.3 89.8L262.2 89.8L261.0 89.5L259.8 89.2L258.6 88.9L257.5 88.6L257.4 88.6L256.2 88.4L255.0 88.3L253.8 88.3L252.6 88.2L251.4 88.2L250.2 88.4L249.6 87.4L250.2 87.2L251.4 86.8L252.6 86.5L253.8 86.3L255.0 86.2L256.2 86.4L257.4 86.5L258.6 86.6L259.8 86.8L261.0 87.0L262.2 87.2L263.1 87.4L263.4 87.5L264.6 88.5L264.6 88.6L265.5 89.8L265.8 90.4L266.2 91.0L267.0 92.0L267.1 92.2L267.5 93.4L267.7 94.6L267.8 95.8L267.9 97.0L267.7 98.2L267.2 99.4L267.0 99.7L266.0 100.6L265.8 100.9L265.4 101.8L265.1 103.0L264.6 104.1L264.5 104.2L263.4 104.8L262.2 105.1L261.0 105.2L260.2 105.4L259.8 105.5ZM237.0 93.7L236.5 93.4L235.8 93.2L234.7 92.2L234.6 92.1L233.4 91.0L233.4 90.9L232.2 90.0L231.9 89.8L231.0 88.9L230.1 88.6L231.0 88.3L232.2 88.2L233.4 88.4L234.1 88.6L234.6 88.8L235.8 89.2L237.0 89.8L237.0 89.8L238.2 90.4L238.8 91.0L238.9 92.2L238.2 93.2L237.5 93.4L237.0 93.7ZM244.2 91.7L243.0 91.6L242.6 91.0L243.0 90.4L244.2 90.6L244.6 91.0L244.2 91.7ZM256.2 101.8L256.1 101.8L255.0 101.7L253.8 101.3L252.7 100.6L252.6 100.5L251.6 99.4L251.4 99.0L250.8 98.2L250.9 97.0L251.4 96.5L252.0 95.8L252.6 95.5L253.8 94.9L254.2 94.6L255.0 94.2L256.2 93.9L257.4 93.9L258.6 94.4L259.0 94.6L259.8 95.1L260.4 95.8L260.8 97.0L260.8 98.2L260.5 99.4L259.8 100.1L259.4 100.6L258.6 101.2L257.4 101.7L256.3 101.8L256.2 101.8ZM255.8 98.2L255.5 97.0L255.0 96.7L254.4 97.0L254.1 98.2L255.0 99.0L255.8 98.2ZM238.2 103.7L237.3 103.0L237.0 102.8L235.9 101.8L235.8 101.6L235.1 100.6L235.3 99.4L235.8 98.9L237.0 99.2L237.1 99.4L237.9 100.6L238.2 101.1L238.6 101.8L238.9 103.0L238.2 103.7ZM225.0 109.5L223.8 109.3L223.4 109.0L222.6 108.5L222.0 107.8L221.4 106.7L221.3 106.6L221.4 105.4L221.4 105.4L222.1 104.2L222.6 103.6L223.8 103.3L225.0 104.2L225.0 104.2L225.7 105.4L225.9 106.6L225.9 107.8L225.7 109.0L225.0 109.5ZM239.4 104.5L239.3 104.2L239.4 104.1L239.5 104.2L239.4 104.5ZM249.0 122.4L248.4 122.2L247.8 122.1L246.6 121.3L246.0 121.0L245.4 120.7L244.2 120.3L243.0 119.8L242.9 119.8L241.8 119.2L240.6 119.0L239.4 118.8L238.8 118.6L238.2 118.4L237.0 118.0L236.0 117.4L235.8 117.2L235.1 116.2L235.5 115.0L235.8 114.4L236.2 113.8L236.3 112.6L237.0 111.7L237.3 111.4L238.2 110.2L239.4 110.5L239.5 111.4L239.8 112.6L240.1 113.8L240.0 115.0L240.6 116.0L240.8 116.2L241.8 116.8L243.0 116.7L243.6 116.2L244.2 115.5L244.5 116.2L244.7 117.4L245.4 117.7L246.2 118.6L246.6 118.8L247.8 119.3L248.7 119.8L249.0 120.1L249.6 121.0L249.2 122.2L249.0 122.4Z" fill="none" stroke="#7e7e7e" stroke-width="0.55"/><path d="M264.6 91.0L264.6 91.0L263.4 90.2L263.0 89.8L262.2 89.2L261.0 89.0L259.8 88.8L259.2 88.6L258.6 88.1L257.4 87.8L256.2 87.8L255.0 87.8L253.8 87.7L252.6 87.6L251.4 87.5L251.3 87.4L251.4 87.4L252.6 87.2L253.8 87.0L255.0 86.9L256.2 87.0L257.4 87.1L258.6 87.1L259.8 87.2L261.0 87.3L261.3 87.4L262.2 87.8L263.4 88.1L264.0 88.6L264.6 89.4L264.9 89.8L264.6 91.0L264.6 91.0ZM238.2 92.4L237.0 93.0L235.8 92.4L235.5 92.2L234.6 91.4L234.1 91.0L233.4 90.1L233.0 89.8L233.4 89.2L234.6 89.3L235.8 89.7L236.1 89.8L237.0 90.2L238.2 90.9L238.3 91.0L238.3 92.2L238.2 92.4ZM257.4 101.3L256.2 101.4L255.0 101.2L253.8 100.9L253.4 100.6L252.6 100.0L252.1 99.4L251.5 98.2L251.8 97.0L252.6 96.1L253.3 97.0L253.4 98.2L253.8 99.0L254.2 99.4L255.0 99.9L256.1 99.4L256.2 99.3L256.5 98.2L256.3 97.0L256.2 96.8L255.0 95.9L253.8 96.0L253.5 95.8L253.8 95.7L255.0 95.1L255.2 94.6L256.2 94.3L257.4 94.3L258.0 94.6L258.6 94.9L259.6 95.8L259.8 96.5L260.0 97.0L260.2 98.2L259.8 99.0L259.7 99.4L258.6 100.6L258.6 100.6L257.4 101.3ZM267.0 98.6L266.6 98.2L266.2 97.0L266.3 95.8L266.7 94.6L267.0 93.9L267.2 94.6L267.4 95.8L267.4 97.0L267.2 98.2L267.0 98.6ZM237.0 102.1L236.7 101.8L235.8 100.8L235.7 100.6L235.8 99.9L237.0 100.1L237.3 100.6L237.6 101.8L237.0 102.1ZM258.6 105.4L257.4 105.6L257.0 105.4L256.9 104.2L257.4 103.8L258.6 103.4L259.2 103.0L259.8 102.6L261.0 102.0L261.7 101.8L262.2 101.6L263.4 101.4L264.6 101.1L264.9 101.8L264.8 103.0L264.6 103.4L263.9 104.2L263.4 104.4L262.2 104.8L261.0 104.9L259.8 105.1L258.7 105.4L258.6 105.4ZM240.6 117.7L239.4 118.2L238.2 118.0L237.0 117.5L236.8 117.4L235.8 116.5L235.6 116.2L235.8 115.7L236.9 115.0L237.0 113.8L237.0 113.6L237.2 112.6L238.2 111.5L239.0 112.6L239.1 113.8L238.2 115.0L237.5 115.0L238.2 115.0L239.4 116.1L239.5 116.2L240.6 117.3L240.8 117.4L240.6 117.7ZM246.6 120.0L245.4 120.0L244.5 119.8L245.4 119.4L246.6 119.7L246.9 119.8L246.6 120.0ZM247.8 121.4L247.2 121.0L247.8 120.3L248.8 121.0L247.8 121.4Z" fill="none" stroke="#707070" stroke-width="0.55"/><path d="M262.2 88.7L261.4 88.6L262.2 88.5L263.0 88.6L262.2 88.7ZM234.6 89.8L234.6 89.8L234.6 89.8L234.6 89.8L234.6 89.8ZM237.0 92.5L236.4 92.2L235.8 91.7L234.9 91.0L235.8 90.3L237.0 90.6L237.7 91.0L237.5 92.2L237.0 92.5ZM257.4 101.0L256.2 101.0L255.0 100.7L254.5 100.6L255.0 100.5L256.2 100.0L256.6 99.4L256.9 98.2L256.7 97.0L256.2 96.2L255.7 95.8L256.2 94.9L257.4 94.7L258.6 95.3L259.1 95.8L259.6 97.0L259.7 98.2L259.3 99.4L258.6 100.2L258.0 100.6L257.4 101.0ZM252.6 99.4L252.6 99.4L252.3 98.2L252.6 97.0L252.6 97.0L252.6 97.0L252.8 98.2L252.7 99.4L252.6 99.4ZM262.2 104.5L261.0 104.6L259.8 104.6L258.6 104.6L257.8 104.2L258.6 103.9L259.8 103.3L260.1 103.0L261.0 102.5L262.2 102.1L263.4 102.0L264.3 103.0L263.4 104.0L263.2 104.2L262.2 104.5ZM238.2 113.9L238.1 113.8L238.2 112.6L238.2 112.5L238.2 112.6L238.3 113.8L238.2 113.9ZM239.4 117.5L238.2 117.6L237.8 117.4L237.0 116.6L236.5 116.2L237.0 115.8L238.2 116.0L238.4 116.2L239.4 117.2L239.6 117.4L239.4 117.5Z" fill="none" stroke="#626262" stroke-width="0.55"/><path d="M257.4 100.6L256.8 100.6L257.0 99.4L257.2 98.2L257.0 97.0L256.4 95.8L257.4 95.1L258.6 95.7L258.7 95.8L259.3 97.0L259.4 98.2L259.0 99.4L258.6 99.8L257.4 100.6L257.4 100.6ZM261.0 104.3L260.2 104.2L260.8 103.0L261.0 102.9L262.2 102.5L263.4 102.6L263.8 103.0L263.4 103.4L262.2 104.2L262.1 104.2L261.0 104.3Z" fill="none" stroke="#545454" stroke-width="0.55"/><path d="M258.6 99.4L257.4 99.5L257.4 99.4L257.4 99.2L257.7 98.2L257.4 97.1L257.4 97.0L257.0 95.8L257.4 95.5L257.9 95.8L258.6 96.3L259.0 97.0L259.1 98.2L258.6 99.4L258.6 99.4ZM262.2 103.1L262.0 103.0L262.2 102.9L262.5 103.0L262.2 103.1Z" fill="none" stroke="#464646" stroke-width="0.55"/><path d="M258.6 98.6L258.3 98.2L258.4 97.0L258.6 96.9L258.6 97.0L258.8 98.2L258.6 98.6Z" fill="none" stroke="#383838" stroke-width="0.55"/></g>
<g opacity="0.90"><path d="M277.8 115.4L276.6 115.8L275.4 116.0L274.2 116.2L273.0 116.1L271.8 115.9L270.6 115.2L270.3 115.0L269.4 114.0L269.3 113.8L268.7 112.6L268.6 111.4L268.8 110.2L269.4 109.0L269.4 108.9L270.0 107.8L270.6 107.1L271.1 106.6L271.8 106.0L272.8 105.4L273.0 105.2L274.2 104.6L275.4 104.3L276.0 104.2L276.6 104.0L277.8 103.9L279.0 104.0L279.6 104.2L280.2 104.3L281.4 104.9L281.9 105.4L282.6 106.3L282.8 106.6L283.3 107.8L283.4 109.0L283.3 110.2L282.8 111.4L282.6 111.7L282.1 112.6L281.4 113.3L280.8 113.8L280.2 114.3L279.0 114.9L278.6 115.0L277.8 115.4Z" fill="none" stroke="#8080c4" stroke-width="0.60"/><path d="M276.6 115.0L275.4 115.4L274.2 115.5L273.0 115.4L272.0 115.0L271.8 114.9L270.6 114.1L270.4 113.8L269.7 112.6L269.5 111.4L269.7 110.2L270.2 109.0L270.6 108.4L271.0 107.8L271.8 107.0L272.3 106.6L273.0 106.1L274.2 105.5L274.5 105.4L275.4 105.0L276.6 104.7L277.8 104.7L279.0 104.8L280.2 105.2L280.5 105.4L281.4 106.1L281.8 106.6L282.4 107.8L282.5 109.0L282.4 110.2L282.0 111.4L281.4 112.2L281.1 112.6L280.2 113.4L279.6 113.8L279.0 114.2L277.8 114.7L276.6 115.0L276.6 115.0Z" fill="none" stroke="#7171b8" stroke-width="0.60"/><path d="M277.8 113.9L276.6 114.4L275.4 114.6L274.2 114.7L273.0 114.5L271.8 113.9L271.7 113.8L270.7 112.6L270.6 112.0L270.4 111.4L270.6 110.3L270.6 110.2L271.1 109.0L271.8 108.1L272.1 107.8L273.0 107.1L273.8 106.6L274.2 106.4L275.4 105.9L276.6 105.6L277.8 105.5L279.0 105.7L280.2 106.2L280.6 106.6L281.4 107.8L281.4 107.8L281.7 109.0L281.5 110.2L281.4 110.5L281.1 111.4L280.2 112.5L280.1 112.6L279.0 113.4L278.1 113.8L277.8 113.9Z" fill="none" stroke="#6363ab" stroke-width="0.60"/><path d="M275.4 113.9L274.2 113.9L273.7 113.8L273.0 113.6L271.8 112.6L271.8 112.6L271.3 111.4L271.5 110.2L271.8 109.5L272.1 109.0L273.0 108.1L273.3 107.8L274.2 107.3L275.4 106.7L275.9 106.6L276.6 106.4L277.8 106.3L279.0 106.5L279.1 106.6L280.2 107.4L280.5 107.8L280.9 109.0L280.8 110.2L280.2 111.4L280.2 111.4L279.0 112.6L279.0 112.6L277.8 113.3L276.6 113.7L275.9 113.8L275.4 113.9Z" fill="none" stroke="#54549f" stroke-width="0.60"/><path d="M276.6 113.0L275.4 113.2L274.2 113.1L273.0 112.6L273.0 112.6L272.3 111.4L272.4 110.2L273.0 109.2L273.2 109.0L274.2 108.2L274.9 107.8L275.4 107.6L276.6 107.2L277.8 107.1L279.0 107.4L279.4 107.8L280.0 109.0L280.0 110.2L279.4 111.4L279.0 111.8L277.8 112.6L277.8 112.6L276.6 113.0Z" fill="none" stroke="#454593" stroke-width="0.60"/><path d="M277.8 111.8L276.6 112.3L275.4 112.5L274.2 112.2L273.4 111.4L273.4 110.2L274.2 109.3L274.5 109.0L275.4 108.5L276.6 108.0L277.8 107.9L279.0 108.7L279.2 109.0L279.2 110.2L279.0 110.5L278.4 111.4L277.8 111.8Z" fill="none" stroke="#373786" stroke-width="0.60"/><path d="M276.6 111.5L275.4 111.5L275.2 111.4L274.9 110.2L275.4 109.7L276.5 109.0L276.6 109.0L277.4 109.0L277.8 109.1L278.1 110.2L277.8 110.6L276.8 111.4L276.6 111.5Z" fill="none" stroke="#28287a" stroke-width="0.60"/></g>
<g opacity="0.90"><path d="M267.0 134.7L265.8 135.2L264.6 135.4L263.4 135.3L262.2 135.0L261.0 134.5L260.5 134.2L259.8 133.8L258.9 133.0L258.6 132.7L257.8 131.8L257.4 131.3L256.9 130.6L256.3 129.4L256.2 129.2L255.8 128.2L255.6 127.0L255.6 125.8L255.8 124.6L256.2 123.5L256.2 123.4L256.9 122.2L257.4 121.6L258.0 121.0L258.6 120.4L259.4 119.8L259.8 119.5L261.0 118.7L261.2 118.6L262.2 118.1L263.4 117.8L264.6 117.9L265.8 118.2L266.6 118.6L267.0 118.8L268.2 119.8L268.2 119.8L269.2 121.0L269.4 121.2L270.1 122.2L270.6 123.0L270.8 123.4L271.3 124.6L271.6 125.8L271.7 127.0L271.6 128.2L271.2 129.4L270.6 130.4L270.5 130.6L269.6 131.8L269.4 132.1L268.7 133.0L268.2 133.7L267.6 134.2L267.0 134.7Z" fill="none" stroke="#eca0a0" stroke-width="0.60"/><path d="M265.8 134.5L264.6 134.7L263.4 134.6L262.2 134.3L262.0 134.2L261.0 133.8L259.9 133.0L259.8 132.9L258.6 131.8L258.6 131.7L257.7 130.6L257.4 130.1L256.9 129.4L256.5 128.2L256.3 127.0L256.3 125.8L256.4 124.6L256.9 123.4L257.4 122.5L257.6 122.2L258.6 121.3L258.9 121.0L259.8 120.3L260.4 119.8L261.0 119.4L262.2 118.8L262.9 118.6L263.4 118.5L264.6 118.5L264.8 118.6L265.8 118.9L267.0 119.6L267.3 119.8L268.2 120.7L268.5 121.0L269.4 122.2L269.4 122.2L270.2 123.4L270.6 124.4L270.7 124.6L271.1 125.8L271.1 127.0L271.0 128.2L270.6 129.1L270.5 129.4L269.8 130.6L269.4 131.1L268.9 131.8L268.2 132.6L267.9 133.0L267.0 133.9L266.4 134.2L265.8 134.5Z" fill="none" stroke="#e89797" stroke-width="0.60"/><path d="M265.8 133.4L264.6 133.7L263.4 133.6L262.2 133.2L261.8 133.0L261.0 132.6L260.0 131.8L259.8 131.6L258.9 130.6L258.6 130.3L258.0 129.4L257.4 128.2L257.4 128.0L257.1 127.0L257.1 125.8L257.3 124.6L257.4 124.5L257.9 123.4L258.6 122.5L258.9 122.2L259.8 121.4L260.3 121.0L261.0 120.4L262.1 119.8L262.2 119.7L263.4 119.3L264.6 119.4L265.6 119.8L265.8 119.9L267.0 120.7L267.3 121.0L268.2 122.0L268.4 122.2L269.2 123.4L269.4 123.7L269.9 124.6L270.2 125.8L270.3 127.0L270.0 128.2L269.5 129.4L269.4 129.5L268.6 130.6L268.2 131.1L267.6 131.8L267.0 132.5L266.4 133.0L265.8 133.4Z" fill="none" stroke="#e48e8e" stroke-width="0.60"/><path d="M265.8 132.0L264.6 132.5L263.4 132.4L262.2 132.0L261.8 131.8L261.0 131.4L260.2 130.6L259.8 130.3L259.1 129.4L258.6 128.6L258.4 128.2L258.0 127.0L258.0 125.8L258.3 124.6L258.6 124.0L259.0 123.4L259.8 122.5L260.2 122.2L261.0 121.5L261.7 121.0L262.2 120.7L263.4 120.3L264.6 120.4L265.8 120.9L265.9 121.0L267.0 121.9L267.3 122.2L268.2 123.4L268.2 123.4L268.9 124.6L269.3 125.8L269.3 127.0L269.1 128.2L268.4 129.4L268.2 129.6L267.4 130.6L267.0 131.0L266.1 131.8L265.8 132.0Z" fill="none" stroke="#e08585" stroke-width="0.60"/><path d="M265.8 130.6L264.6 131.2L263.4 131.3L262.2 130.9L261.7 130.6L261.0 130.2L260.2 129.4L259.8 128.9L259.3 128.2L258.9 127.0L258.8 125.8L259.2 124.6L259.8 123.8L260.1 123.4L261.0 122.6L261.5 122.2L262.2 121.7L263.4 121.3L264.6 121.3L265.8 122.0L266.1 122.2L267.0 123.1L267.3 123.4L268.0 124.6L268.2 125.1L268.4 125.8L268.5 127.0L268.2 127.8L268.0 128.2L267.2 129.4L267.0 129.6L265.8 130.6L265.8 130.6Z" fill="none" stroke="#dc7b7b" stroke-width="0.60"/><path d="M265.8 129.4L264.6 130.1L263.4 130.2L262.2 129.9L261.4 129.4L261.0 129.1L260.2 128.2L259.8 127.2L259.7 127.0L259.7 125.8L259.8 125.6L260.2 124.6L261.0 123.7L261.3 123.4L262.2 122.7L263.4 122.2L264.6 122.3L265.8 123.0L266.2 123.4L267.0 124.4L267.1 124.6L267.6 125.8L267.6 127.0L267.0 128.2L267.0 128.2L265.8 129.4L265.8 129.4Z" fill="none" stroke="#d87272" stroke-width="0.60"/><path d="M265.8 128.3L264.6 129.0L263.4 129.2L262.2 128.9L261.3 128.2L261.0 127.8L260.6 127.0L260.6 125.8L261.0 125.0L261.2 124.6L262.2 123.7L263.0 123.4L263.4 123.2L264.6 123.4L264.7 123.4L265.8 124.2L266.1 124.6L266.7 125.8L266.6 127.0L265.9 128.2L265.8 128.3Z" fill="none" stroke="#d46969" stroke-width="0.60"/><path d="M263.4 128.2L263.3 128.2L262.2 127.7L261.6 127.0L261.6 125.8L262.2 125.0L262.8 124.6L263.4 124.3L264.6 124.5L264.7 124.6L265.6 125.8L265.5 127.0L264.6 127.9L263.5 128.2L263.4 128.2Z" fill="none" stroke="#d06060" stroke-width="0.60"/></g>
<g opacity="0.90"><path d="M261.0 118.8L260.2 118.6L259.8 118.5L258.6 117.8L258.2 117.4L257.5 116.2L257.4 115.9L257.1 115.0L256.9 113.8L256.9 112.6L257.1 111.4L257.4 110.8L257.6 110.2L258.6 109.0L258.7 109.0L259.8 108.2L261.0 107.9L262.2 107.9L263.4 108.4L264.1 109.0L264.6 109.4L265.2 110.2L265.8 111.2L265.9 111.4L266.3 112.6L266.4 113.8L266.1 115.0L265.8 115.5L265.5 116.2L264.6 117.2L264.4 117.4L263.4 118.1L262.2 118.6L262.1 118.6L261.0 118.8Z" fill="none" stroke="#e0f0cc" stroke-width="0.60"/><path d="M262.2 116.5L261.0 116.7L259.8 116.3L259.7 116.2L258.9 115.0L258.6 114.1L258.5 113.8L258.6 112.6L258.6 112.5L259.0 111.4L259.8 110.5L260.4 110.2L261.0 109.9L262.2 110.0L262.5 110.2L263.4 110.9L263.8 111.4L264.4 112.6L264.4 113.8L264.0 115.0L263.4 115.7L262.6 116.2L262.2 116.5Z" fill="none" stroke="#c4e0a8" stroke-width="0.60"/></g>
<g opacity="0.80"><path d="M364.0 128.1L362.8 128.4L361.6 128.0L361.6 128.0L360.4 127.6L359.2 127.0L358.9 126.8L358.0 126.3L357.0 125.6L356.8 125.5L355.6 124.4L355.6 124.4L354.5 123.2L354.4 123.1L353.3 122.0L353.2 121.9L352.0 120.8L352.0 120.8L350.8 120.2L349.8 119.6L349.6 119.5L348.4 119.1L347.3 118.4L347.2 118.3L346.0 117.5L345.7 117.2L344.8 116.5L344.2 116.0L343.6 115.4L343.0 114.8L342.4 113.6L342.4 113.6L342.2 112.4L342.4 111.8L342.5 111.2L342.4 110.9L341.2 110.7L340.0 110.5L339.0 110.0L338.8 109.9L337.6 109.5L336.4 108.9L336.4 108.8L335.5 107.6L335.3 106.4L335.4 105.2L335.6 104.0L335.5 102.8L335.2 101.8L335.1 101.6L334.4 100.4L334.1 99.2L334.0 98.0L334.0 97.9L333.9 96.8L333.9 95.6L334.0 95.1L334.0 94.4L334.4 93.2L335.2 92.0L335.2 92.0L336.3 90.8L336.4 90.6L336.6 89.6L336.5 88.4L337.1 87.2L337.6 86.8L338.8 86.7L340.0 86.9L341.0 87.2L341.2 87.2L342.4 87.4L343.6 87.6L344.8 87.7L346.0 87.8L347.2 88.1L347.9 88.4L348.4 88.9L349.6 89.5L350.8 89.2L352.0 89.0L353.2 89.5L354.4 89.4L354.6 88.4L355.6 87.7L356.8 87.2L357.1 87.2L358.0 87.1L358.4 87.2L359.2 87.4L360.4 87.9L361.6 88.2L362.8 88.3L363.3 88.4L364.0 88.6L365.2 88.9L366.4 89.1L367.6 89.5L367.8 89.6L368.8 89.9L370.0 90.2L371.2 90.5L372.3 90.8L372.4 90.8L373.6 91.0L374.8 91.3L376.0 91.8L376.3 92.0L377.2 93.0L377.3 93.2L378.1 94.4L378.4 94.6L379.6 95.4L379.8 95.6L380.8 96.4L381.1 96.8L381.5 98.0L381.9 99.2L382.0 99.3L382.9 100.4L383.2 100.9L384.2 101.6L384.2 102.8L384.2 104.0L384.4 104.4L385.6 104.9L386.8 104.1L386.9 104.0L386.9 102.8L386.8 102.7L385.6 101.8L385.2 101.6L385.6 100.6L385.6 100.4L386.8 99.3L387.0 99.2L388.0 98.6L389.2 98.5L390.4 98.8L391.4 99.2L391.6 99.3L392.8 100.2L393.0 100.4L393.8 101.6L394.0 101.9L394.7 102.8L395.2 104.0L394.9 105.2L394.6 106.4L394.5 107.6L394.6 108.8L394.6 110.0L394.9 111.2L395.2 112.0L395.5 112.4L395.3 113.6L395.2 113.8L394.6 114.8L394.0 115.6L393.7 116.0L392.8 116.8L391.6 117.1L390.4 117.1L389.2 116.4L388.2 116.0L388.0 115.7L387.9 116.0L386.8 116.7L386.2 117.2L385.6 117.5L384.6 118.4L384.4 118.5L383.2 118.9L382.0 118.5L381.8 118.4L381.4 117.2L382.0 116.2L382.0 116.0L382.2 114.8L382.0 113.6L382.0 113.5L380.8 113.1L380.5 113.6L380.2 114.8L379.8 116.0L379.6 116.2L378.7 117.2L378.7 118.4L379.6 118.5L380.8 119.0L381.1 119.6L381.2 120.8L381.1 122.0L380.8 122.4L380.3 123.2L379.6 123.8L378.5 124.4L378.4 124.5L377.2 125.1L376.0 125.4L375.6 125.6L374.8 126.1L373.6 126.6L373.3 126.8L372.4 127.3L371.2 127.6L370.0 127.6L368.8 127.6L367.6 127.8L366.4 127.9L365.2 127.9L364.5 128.0L364.0 128.1ZM376.2 118.4L376.0 117.9L375.9 117.2L374.8 116.3L374.3 116.0L373.6 115.1L372.4 115.2L371.2 116.0L371.2 116.0L371.1 116.0L370.0 115.5L368.9 114.8L370.0 114.0L371.2 114.1L372.4 114.6L373.6 114.6L374.8 113.9L375.1 113.6L376.0 113.2L377.2 112.6L377.6 112.4L378.4 111.6L378.8 111.2L379.6 110.0L379.6 110.0L380.4 108.8L380.7 107.6L380.8 107.1L380.9 106.4L381.0 105.2L381.0 104.0L380.8 103.4L380.4 102.8L379.6 102.2L379.1 102.8L378.4 103.5L377.8 104.0L377.2 104.5L376.0 104.8L375.3 104.0L375.5 102.8L375.8 101.6L376.0 101.2L376.2 100.4L376.6 99.2L376.5 98.0L376.0 97.9L375.6 98.0L374.8 98.7L373.6 98.8L372.4 98.1L372.3 98.0L371.2 97.6L370.0 97.7L369.0 98.0L368.8 98.1L367.6 98.2L367.1 98.0L366.7 96.8L366.9 95.6L366.4 94.8L365.2 94.7L364.0 94.9L362.8 94.8L362.4 94.4L361.7 93.2L361.6 92.9L361.2 92.0L361.6 90.8L360.9 89.6L360.4 89.4L360.2 89.6L359.2 90.5L358.8 90.8L358.9 92.0L358.8 93.2L358.5 94.4L358.0 95.1L357.0 95.6L356.8 95.7L356.4 95.6L355.6 95.5L354.4 95.3L353.2 95.3L352.0 95.4L350.8 95.6L350.5 95.6L349.6 95.8L348.8 96.8L348.5 98.0L348.6 99.2L349.4 100.4L349.6 100.6L350.8 101.2L352.0 101.5L353.2 101.5L354.4 101.5L354.7 101.6L355.4 102.8L355.2 104.0L355.4 105.2L355.6 105.4L356.8 105.9L358.0 105.8L359.1 105.2L359.0 104.0L358.8 102.8L359.2 102.4L360.4 101.9L361.6 102.6L361.8 102.8L362.1 104.0L361.8 105.2L361.6 105.6L361.1 106.4L361.4 107.6L361.6 107.8L362.8 108.7L363.1 108.8L364.0 108.9L364.7 108.8L365.2 108.5L366.4 108.2L367.6 108.1L368.8 108.0L370.0 107.8L370.4 107.6L371.2 107.0L372.4 106.5L372.9 107.6L372.4 108.8L372.4 108.8L371.7 110.0L371.2 110.7L370.5 111.2L370.0 111.9L368.9 112.4L369.4 113.6L368.8 114.6L368.8 114.8L367.6 115.6L367.4 116.0L367.6 116.7L367.9 117.2L368.8 117.5L370.0 117.6L371.2 118.4L371.2 118.4L372.4 118.9L373.6 119.0L374.8 118.9L376.0 118.5L376.2 118.4ZM349.9 92.0L350.2 90.8L349.6 89.8L348.4 90.4L347.9 90.8L348.2 92.0L348.4 92.2L349.6 92.4L349.9 92.0ZM352.3 110.0L353.0 108.8L353.1 107.6L352.1 106.4L352.0 106.3L350.8 105.5L350.5 105.2L349.6 104.5L348.9 104.0L348.4 103.7L347.2 103.5L346.0 103.1L345.6 102.8L344.8 102.5L343.6 101.9L342.4 102.5L342.3 102.8L342.4 104.0L342.4 104.1L343.1 105.2L343.6 106.3L344.7 106.4L344.8 106.4L346.0 107.6L346.0 108.8L346.0 108.8L346.9 110.0L347.2 110.2L348.4 110.9L349.6 110.9L350.8 110.7L352.0 110.3L352.3 110.0ZM346.0 107.1L345.4 106.4L346.0 106.4L346.0 106.4L346.0 107.1ZM358.2 118.4L358.3 117.2L358.1 116.0L358.0 114.8L358.6 113.6L359.2 112.7L359.4 112.4L359.2 112.0L358.0 111.6L356.8 112.0L356.0 112.4L355.6 112.7L354.8 113.6L354.4 114.2L354.2 114.8L353.6 116.0L353.6 117.2L354.4 118.4L354.4 118.4L355.6 119.0L356.8 119.2L358.0 118.8L358.2 118.4ZM388.2 113.6L388.2 112.4L388.0 112.1L387.8 112.4L387.9 113.6L388.0 114.1L388.2 113.6Z" fill="none" stroke="#b0c898" stroke-width="0.55"/><path d="M340.0 89.2L338.8 89.0L337.8 88.4L338.8 88.1L340.0 88.2L341.1 88.4L340.0 89.2ZM374.8 95.2L373.6 95.3L372.4 95.0L371.4 94.4L371.2 94.2L370.4 93.2L371.1 92.0L371.2 92.0L371.2 92.0L372.4 92.3L373.6 92.9L374.1 93.2L374.8 93.9L375.3 94.4L374.8 95.2ZM341.2 109.3L340.0 109.0L339.8 108.8L338.8 108.0L338.4 107.6L337.7 106.4L337.6 106.1L337.3 105.2L337.3 104.0L337.2 102.8L336.7 101.6L336.4 101.1L336.0 100.4L335.5 99.2L335.3 98.0L335.2 97.1L335.1 96.8L334.9 95.6L334.9 94.4L335.2 93.7L335.5 93.2L336.4 92.3L337.6 92.1L338.8 92.3L339.9 93.2L340.0 93.3L341.0 94.4L341.2 94.6L342.0 95.6L342.4 96.0L343.0 96.8L343.6 97.5L344.3 98.0L344.8 98.3L346.0 98.7L346.5 99.2L347.2 99.7L347.8 100.4L348.4 101.6L348.4 101.6L348.4 101.6L347.2 102.0L346.0 101.7L345.8 101.6L344.8 101.1L343.6 100.4L343.6 100.4L342.4 100.3L342.1 100.4L341.2 101.2L341.1 101.6L341.0 102.8L341.2 103.4L341.4 104.0L341.9 105.2L342.3 106.4L342.4 107.0L342.6 107.6L342.4 108.3L342.1 108.8L341.2 109.3ZM378.4 101.6L377.2 102.1L377.1 101.6L377.2 101.5L377.9 100.4L378.4 99.7L379.3 100.4L378.4 101.6L378.4 101.6ZM353.2 105.6L352.1 105.2L352.0 105.1L350.8 104.2L350.6 104.0L350.1 102.8L350.8 102.6L351.5 102.8L352.0 103.0L353.2 103.8L353.4 104.0L353.7 105.2L353.2 105.6ZM384.4 110.4L383.4 110.0L383.2 109.9L382.7 108.8L382.4 107.6L382.5 106.4L383.2 105.5L384.0 106.4L384.4 106.8L385.3 107.6L385.4 108.8L384.8 110.0L384.4 110.4ZM391.6 111.6L390.4 111.3L390.3 111.2L389.5 110.0L389.2 109.4L388.8 108.8L388.3 107.6L388.8 106.4L389.2 106.3L390.4 105.6L391.6 105.4L391.9 106.4L392.1 107.6L392.3 108.8L392.3 110.0L391.9 111.2L391.6 111.6ZM360.4 109.1L359.2 109.7L358.0 109.6L356.8 109.3L355.9 108.8L355.6 108.4L355.2 107.6L355.6 107.3L356.8 107.2L358.0 107.2L359.2 107.6L359.2 107.6L360.4 108.8L360.4 108.8L360.4 109.1ZM367.6 111.3L366.4 111.8L365.2 112.0L364.0 112.2L362.8 112.0L362.0 111.2L362.8 110.0L364.0 110.1L364.2 110.0L365.2 109.7L366.4 109.5L367.6 109.4L368.8 109.3L370.0 109.7L370.1 110.0L370.0 110.1L368.8 110.7L367.9 111.2L367.6 111.3ZM352.0 119.5L350.8 119.1L349.6 118.6L349.2 118.4L348.4 117.9L347.5 117.2L347.2 116.9L346.1 116.0L346.0 115.9L344.8 114.9L344.7 114.8L343.8 113.6L343.7 112.4L344.8 111.5L346.0 112.0L346.5 112.4L347.2 113.1L347.8 113.6L348.4 114.0L349.6 114.3L350.7 114.8L350.8 114.9L351.5 116.0L352.0 117.2L352.0 117.2L352.6 118.4L352.0 119.5ZM384.4 116.2L384.2 116.0L383.8 114.8L383.5 113.6L383.9 112.4L384.4 112.0L384.8 112.4L385.6 113.2L385.8 113.6L385.6 114.5L385.5 114.8L384.6 116.0L384.4 116.2ZM367.6 126.8L366.4 126.9L365.2 126.9L364.0 126.9L362.8 127.2L361.6 127.0L361.1 126.8L360.4 126.4L359.2 125.7L359.1 125.6L358.0 124.5L357.9 124.4L356.8 123.5L356.5 123.2L355.6 122.3L355.3 122.0L355.6 120.9L356.8 121.6L357.5 122.0L358.0 122.5L359.2 122.8L360.4 122.7L361.6 123.1L361.7 123.2L362.8 124.4L362.8 124.4L363.8 125.6L364.0 126.1L365.1 125.6L365.2 125.6L366.4 125.2L367.6 124.9L368.8 124.8L370.0 124.5L370.2 124.4L371.2 123.9L372.4 123.3L372.6 123.2L373.6 122.5L374.8 122.0L374.9 122.0L376.0 121.6L377.2 120.9L377.4 120.8L378.4 120.4L379.6 120.8L379.6 120.8L379.6 122.0L379.6 122.1L378.5 123.2L378.4 123.3L377.2 123.8L376.0 124.1L375.4 124.4L374.8 124.7L373.6 125.4L373.3 125.6L372.4 126.1L371.2 126.4L370.0 126.3L368.8 126.4L367.7 126.8L367.6 126.8Z" fill="none" stroke="#a2bb8a" stroke-width="0.55"/><path d="M341.2 108.2L340.0 108.1L339.5 107.6L338.8 106.7L338.6 106.4L338.2 105.2L338.2 104.0L338.2 102.8L337.6 101.6L337.6 101.6L336.7 100.4L336.4 99.7L336.1 99.2L335.8 98.0L335.6 96.8L335.5 95.6L335.5 94.4L336.3 93.2L336.4 93.1L337.6 92.8L338.2 93.2L338.8 93.8L339.3 94.4L340.0 95.1L340.6 95.6L341.2 95.9L342.1 96.8L342.4 97.3L343.0 98.0L343.3 99.2L342.4 99.4L341.2 99.9L340.8 100.4L340.2 101.6L340.2 102.8L340.6 104.0L341.2 105.1L341.2 105.2L341.7 106.4L341.7 107.6L341.2 108.2ZM346.0 100.5L345.8 100.4L346.0 100.3L346.2 100.4L346.0 100.5ZM350.8 117.3L349.6 117.5L349.0 117.2L348.4 116.3L348.2 116.0L348.4 115.8L349.6 115.9L349.7 116.0L350.8 117.2L350.8 117.2L350.8 117.3ZM361.6 125.7L361.5 125.6L361.6 125.5L361.7 125.6L361.6 125.7Z" fill="none" stroke="#93ae7c" stroke-width="0.55"/><path d="M338.8 101.8L338.7 101.6L337.6 100.8L337.3 100.4L336.6 99.2L336.4 98.3L336.3 98.0L336.1 96.8L336.0 95.6L336.0 94.4L336.4 93.8L337.6 93.6L338.4 94.4L338.8 94.9L339.5 95.6L340.0 95.9L341.2 96.5L341.4 96.8L342.2 98.0L341.2 99.0L341.0 99.2L340.0 100.4L340.0 100.4L338.9 101.6L338.8 101.8ZM340.0 107.1L339.5 106.4L339.0 105.2L340.0 104.2L340.5 105.2L340.8 106.4L340.0 107.1Z" fill="none" stroke="#85a16e" stroke-width="0.55"/><path d="M338.8 100.8L338.2 100.4L337.6 100.1L337.0 99.2L336.7 98.0L336.6 96.8L336.6 95.6L337.3 94.4L337.6 94.3L337.7 94.4L338.6 95.6L338.8 95.7L340.0 96.4L340.6 96.8L341.2 97.5L341.5 98.0L341.2 98.3L340.1 99.2L340.0 99.4L339.2 100.4L338.8 100.8Z" fill="none" stroke="#779460" stroke-width="0.55"/><path d="M338.8 100.1L337.6 99.5L337.4 99.2L337.1 98.0L337.0 96.8L337.5 95.6L337.6 95.5L337.7 95.6L338.8 96.4L339.6 96.8L340.0 97.2L340.6 98.0L340.0 98.5L339.5 99.2L338.8 100.1Z" fill="none" stroke="#688752" stroke-width="0.55"/><path d="M338.8 99.3L338.6 99.2L337.6 98.5L337.4 98.0L337.5 96.8L337.6 96.6L338.0 96.8L338.8 97.2L339.6 98.0L338.9 99.2L338.8 99.3Z" fill="none" stroke="#5a7a44" stroke-width="0.55"/></g>
<g opacity="0.85"><path d="M367.6 129.2L366.4 129.7L365.2 129.9L364.0 130.0L362.8 129.7L362.3 129.2L361.6 128.6L360.8 128.0L360.4 127.8L359.2 127.3L358.1 126.8L358.0 126.8L356.8 126.2L355.9 125.6L355.6 125.2L354.7 124.4L355.6 123.9L356.8 123.8L357.9 123.2L358.0 123.0L358.7 122.0L358.9 120.8L358.0 120.3L356.8 120.8L356.8 120.8L355.6 121.3L354.7 122.0L354.6 123.2L354.4 123.7L353.2 123.6L352.3 123.2L352.0 123.1L350.8 122.7L349.9 122.0L349.6 121.9L348.4 121.1L348.1 120.8L347.2 120.2L346.5 119.6L346.0 119.0L345.4 118.4L344.8 117.5L344.6 117.2L343.6 116.0L343.6 116.0L342.4 115.0L342.2 114.8L341.2 113.7L341.2 113.6L340.4 112.4L340.0 111.8L339.5 111.2L338.8 110.0L338.7 110.0L337.6 109.2L336.5 108.8L336.4 108.8L335.2 107.9L335.1 107.6L334.9 106.4L334.5 105.2L334.2 104.0L334.2 102.8L334.5 101.6L334.8 100.4L334.5 99.2L334.1 98.0L334.0 97.6L333.4 96.8L332.9 95.6L332.8 94.6L332.8 94.4L332.8 94.2L333.0 93.2L333.9 92.0L334.0 91.9L335.2 91.3L336.4 91.3L337.6 91.9L337.7 92.0L338.8 92.2L339.6 92.0L340.0 91.0L340.1 90.8L340.0 90.8L338.8 90.3L337.6 89.9L337.3 89.6L336.5 88.4L337.1 87.2L337.6 86.9L338.8 87.0L339.8 87.2L340.0 87.2L341.2 87.4L342.4 87.4L343.6 87.4L344.8 87.4L346.0 87.5L347.2 87.4L348.4 87.3L349.6 87.3L350.8 87.7L351.4 88.4L351.9 89.6L352.0 90.8L351.8 92.0L351.4 93.2L351.1 94.4L350.8 95.4L349.6 95.5L348.4 95.0L347.3 94.4L347.2 94.4L346.0 93.5L345.5 93.2L344.8 92.1L344.3 93.2L344.2 94.4L344.6 95.6L344.8 95.9L345.9 96.8L346.0 96.9L347.2 97.4L348.2 98.0L348.4 98.1L349.6 99.0L349.7 99.2L350.8 100.4L350.8 100.4L351.8 101.6L352.0 101.8L353.2 102.2L354.4 102.3L355.6 102.0L356.3 101.6L356.8 101.3L358.0 100.7L358.7 100.4L359.2 99.9L360.1 99.2L360.1 98.0L359.9 96.8L359.6 95.6L359.2 94.9L359.0 94.4L358.0 93.4L357.8 93.2L356.8 92.1L356.8 92.0L356.8 91.8L357.0 90.8L356.8 90.2L356.7 89.6L356.4 88.4L356.8 87.3L356.9 87.2L358.0 86.7L359.2 86.4L360.4 86.3L361.6 86.4L362.8 86.8L363.4 87.2L364.0 87.5L365.2 88.3L365.4 88.4L366.4 89.1L367.3 89.6L367.6 89.7L368.8 89.8L370.0 89.7L371.2 89.6L372.4 89.8L373.6 90.4L374.0 90.8L374.8 92.0L374.8 92.0L376.0 92.9L376.7 93.2L377.2 93.3L378.4 94.4L378.4 94.4L379.2 95.6L379.6 96.7L379.7 96.8L380.4 98.0L380.8 98.3L382.0 99.2L382.1 99.2L383.2 100.0L383.9 100.4L384.4 100.6L385.6 100.4L385.7 100.4L386.8 99.6L387.3 99.2L388.0 98.5L388.9 98.0L389.2 97.7L390.4 97.1L391.6 97.3L392.6 98.0L392.8 98.1L394.0 99.2L394.0 99.2L394.8 100.4L395.1 101.6L394.8 102.8L394.0 103.3L392.8 103.2L392.0 104.0L392.8 104.8L393.7 105.2L394.0 105.3L395.2 105.5L396.4 105.9L397.2 106.4L397.6 106.7L398.0 107.6L398.0 108.8L397.6 110.0L397.6 110.0L396.8 111.2L396.4 111.9L395.7 112.4L395.2 112.6L394.0 112.7L392.8 113.2L392.6 113.6L392.2 114.8L392.1 116.0L391.7 117.2L391.6 117.3L390.4 117.5L389.2 117.5L388.0 117.2L386.8 117.2L385.6 118.3L385.5 118.4L385.0 119.6L384.4 120.5L384.2 120.8L383.2 121.6L382.7 122.0L382.0 122.5L380.9 123.2L380.8 123.3L379.6 124.3L379.5 124.4L378.4 125.5L378.2 125.6L377.2 126.3L376.0 126.7L375.8 126.8L374.8 127.2L373.6 127.5L372.4 127.9L371.9 128.0L371.2 128.3L370.0 128.6L368.8 128.9L367.7 129.2L367.6 129.2ZM370.0 120.8L370.1 119.6L370.1 118.4L370.0 117.2L370.0 117.2L368.9 116.0L368.8 115.7L367.9 114.8L368.8 114.0L369.7 113.6L370.0 113.5L371.2 113.2L372.4 113.0L373.5 112.4L373.6 112.3L374.5 111.2L374.7 110.0L374.3 108.8L374.2 107.6L374.3 106.4L374.3 105.2L374.4 104.0L374.7 102.8L374.8 102.6L375.0 101.6L375.1 100.4L374.8 99.7L373.6 99.3L372.4 99.3L371.2 99.4L370.0 99.3L369.7 99.2L368.8 99.1L367.6 98.8L366.4 98.9L365.8 99.2L365.2 99.9L364.8 100.4L364.0 101.3L363.8 101.6L363.4 102.8L363.4 104.0L364.0 105.0L365.2 104.2L365.3 104.0L365.8 102.8L366.4 102.2L367.6 102.4L368.0 102.8L368.3 104.0L368.0 105.2L367.7 106.4L368.7 107.6L368.8 107.6L370.0 108.7L370.1 108.8L370.4 110.0L370.2 111.2L370.0 111.6L369.0 112.4L368.8 112.9L367.6 113.5L366.4 113.4L365.2 113.1L364.0 112.6L363.2 112.4L362.8 112.3L361.6 112.3L361.4 112.4L361.0 113.6L361.4 114.8L361.6 115.3L362.2 116.0L362.8 116.3L364.0 116.3L365.2 116.1L366.4 116.0L367.6 117.0L367.6 117.2L368.0 118.4L368.1 119.6L368.3 120.8L368.8 121.9L370.0 121.4L370.0 120.8ZM353.3 112.4L353.2 111.7L353.1 111.2L352.9 110.0L352.7 108.8L352.4 107.6L352.0 106.6L351.9 106.4L351.3 105.2L350.8 104.0L350.8 104.0L349.6 103.7L348.4 103.8L347.2 103.9L346.2 104.0L346.0 104.2L345.6 105.2L345.6 106.4L346.0 107.4L346.1 107.6L346.9 108.8L347.2 109.3L347.6 110.0L348.4 110.6L349.6 111.2L349.6 111.2L350.8 112.1L351.2 112.4L352.0 113.4L353.2 112.7L353.3 112.4ZM379.7 108.8L380.0 107.6L379.9 106.4L379.9 105.2L379.9 104.0L379.6 103.6L379.5 104.0L379.1 105.2L378.4 106.3L378.4 106.4L378.4 107.1L378.6 107.6L379.5 108.8L379.6 109.0L379.7 108.8Z" fill="none" stroke="#b0b0b0" stroke-width="0.55"/><path d="M366.4 95.6L365.2 95.8L364.7 95.6L364.0 95.2L363.2 94.4L362.8 94.1L361.6 93.4L361.4 93.2L360.4 92.3L360.2 92.0L359.8 90.8L359.2 90.2L358.6 89.6L358.0 89.1L357.5 88.4L358.0 87.9L359.2 87.3L359.4 87.2L360.4 87.0L361.6 87.1L361.8 87.2L362.8 87.6L364.0 88.1L364.4 88.4L365.2 89.0L365.9 89.6L366.4 90.1L367.6 90.5L368.8 90.5L370.0 90.5L371.1 90.8L371.2 90.8L372.4 91.5L372.9 92.0L373.6 93.2L372.4 94.2L371.6 94.4L371.2 94.5L370.0 95.2L368.8 95.6L367.6 95.4L366.6 95.6L366.4 95.6ZM349.6 91.8L348.4 91.6L347.7 90.8L347.2 90.4L346.0 89.6L347.2 88.6L347.9 88.4L348.4 88.3L349.3 88.4L349.6 88.4L350.8 89.2L351.1 89.6L350.8 90.6L350.7 90.8L349.6 91.8ZM354.4 121.1L353.2 122.0L352.0 122.0L350.8 121.6L349.6 120.8L349.6 120.8L348.4 120.0L348.0 119.6L347.2 118.9L346.7 118.4L346.0 117.4L345.8 117.2L344.9 116.0L344.8 115.9L343.6 114.8L343.5 114.8L342.4 113.7L342.3 113.6L341.6 112.4L341.2 111.7L340.8 111.2L340.0 110.0L340.0 110.0L339.0 108.8L338.8 108.4L337.9 107.6L337.6 107.2L336.9 106.4L336.4 105.3L336.3 105.2L335.8 104.0L335.7 102.8L335.8 101.6L335.9 100.4L335.6 99.2L335.2 98.0L335.2 97.9L334.6 96.8L334.2 95.6L334.0 94.4L334.4 93.2L335.2 92.6L336.4 92.4L337.6 92.8L338.3 93.2L338.8 93.5L340.0 94.1L341.2 94.2L341.4 94.4L342.4 94.9L342.9 95.6L343.6 96.2L344.2 96.8L344.8 97.2L345.8 98.0L346.0 98.1L347.2 98.7L347.9 99.2L348.4 99.5L349.5 100.4L349.6 100.6L350.4 101.6L350.2 102.8L349.6 103.0L348.4 103.2L347.2 103.1L346.0 102.9L344.8 102.8L344.0 104.0L343.9 105.2L343.9 106.4L344.2 107.6L344.6 108.8L344.8 109.3L345.2 110.0L346.0 110.9L346.3 111.2L347.2 111.7L348.4 112.4L348.4 112.4L349.6 112.9L350.3 113.6L350.8 114.1L351.6 114.8L352.0 115.1L353.2 115.6L354.4 115.6L354.8 114.8L355.0 113.6L354.9 112.4L354.7 111.2L354.4 110.2L354.4 110.0L354.0 108.8L353.4 107.6L353.2 107.2L352.7 106.4L352.2 105.2L352.0 104.0L352.0 104.0L352.0 104.0L353.2 103.4L354.4 103.5L355.6 103.7L356.8 103.7L358.0 103.9L358.1 104.0L358.7 105.2L359.2 105.7L359.8 106.4L360.4 106.8L361.5 107.6L361.6 107.6L362.8 108.0L364.0 108.1L365.2 107.8L366.4 107.8L367.6 108.0L368.8 108.6L369.0 108.8L369.6 110.0L368.8 111.2L368.8 111.2L367.6 112.0L366.4 112.3L365.2 112.2L364.0 112.1L362.8 111.8L361.6 111.5L360.4 111.3L359.2 111.9L359.0 112.4L359.2 112.7L359.6 113.6L360.1 114.8L360.4 116.0L360.4 116.0L360.5 117.2L360.4 117.4L359.2 117.9L358.0 117.9L356.8 117.9L356.1 118.4L355.9 119.6L355.6 119.9L354.8 120.8L354.4 121.1ZM376.0 107.1L375.5 106.4L375.3 105.2L375.3 104.0L375.5 102.8L376.0 101.7L376.0 101.6L376.3 100.4L376.5 99.2L376.3 98.0L376.0 97.9L374.8 97.4L374.2 96.8L373.7 95.6L373.6 95.3L372.9 94.4L373.6 93.3L374.8 93.9L376.0 94.2L376.4 94.4L377.2 94.8L378.0 95.6L378.4 96.7L378.5 96.8L378.4 97.7L378.3 98.0L378.4 98.0L379.6 99.2L379.6 99.3L380.5 100.4L379.6 100.9L379.2 101.6L378.7 102.8L378.4 103.4L378.1 104.0L377.5 105.2L377.2 105.9L376.7 106.4L376.0 107.1ZM389.2 115.2L388.5 114.8L388.0 114.4L387.2 113.6L386.9 112.4L386.8 112.1L386.5 111.2L385.6 110.4L384.4 110.3L383.2 110.1L383.0 110.0L382.1 108.8L382.0 108.7L381.4 107.6L381.1 106.4L381.1 105.2L381.3 104.0L381.4 102.8L381.3 101.6L382.0 100.8L383.0 101.6L383.2 101.7L384.4 102.3L385.6 102.1L386.5 101.6L386.8 101.4L388.0 100.8L389.2 100.7L390.4 101.2L390.7 101.6L390.4 102.8L390.4 103.0L390.3 104.0L390.4 104.3L390.7 105.2L391.6 106.0L392.4 106.4L392.8 106.6L394.0 107.6L394.0 107.8L394.4 108.8L394.0 109.5L393.7 110.0L392.8 110.7L391.7 111.2L391.6 111.3L391.0 112.4L390.8 113.6L390.4 114.7L390.2 114.8L389.2 115.2ZM364.0 129.3L363.8 129.2L362.8 128.9L361.8 128.0L361.6 127.9L360.4 127.1L359.8 126.8L359.2 126.5L358.0 125.8L357.8 125.6L357.5 124.4L358.0 124.1L358.8 123.2L359.2 122.7L360.4 122.1L361.0 122.0L361.6 121.6L362.8 121.4L364.0 121.3L365.2 121.2L365.8 122.0L366.4 122.5L366.9 123.2L367.6 123.6L368.8 124.2L369.4 124.4L370.0 124.5L370.2 124.4L371.2 123.7L371.8 123.2L372.4 122.4L373.6 122.1L374.5 122.0L374.8 122.0L376.0 121.3L376.5 120.8L377.2 119.9L377.5 119.6L378.4 119.0L379.6 118.4L379.6 118.4L380.6 117.2L380.5 116.0L380.1 114.8L380.1 113.6L380.8 112.8L381.3 112.4L382.0 112.1L382.9 112.4L383.2 112.4L384.4 112.8L385.6 113.5L385.8 113.6L386.1 114.8L385.8 116.0L385.6 116.3L385.3 117.2L384.4 118.4L384.4 118.4L383.9 119.6L383.2 120.5L383.0 120.8L382.0 121.6L381.4 122.0L380.8 122.4L379.8 123.2L379.6 123.4L378.4 124.4L378.4 124.4L377.2 125.3L376.4 125.6L376.0 125.8L374.8 126.2L373.6 126.5L372.9 126.8L372.4 127.0L371.2 127.3L370.0 127.6L368.9 128.0L368.8 128.1L367.6 128.6L366.4 128.9L365.2 129.2L364.7 129.2L364.0 129.3ZM372.4 120.4L371.9 119.6L371.8 118.4L372.0 117.2L372.4 116.1L372.5 116.0L373.6 114.8L374.3 114.8L374.8 114.8L374.8 114.8L375.0 116.0L375.1 117.2L374.8 118.1L374.7 118.4L373.6 119.5L373.4 119.6L372.4 120.4ZM365.2 120.1L364.6 119.6L364.0 119.1L363.2 118.4L364.0 118.2L365.2 118.1L365.6 118.4L365.5 119.6L365.2 120.1Z" fill="none" stroke="#a1a1a1" stroke-width="0.55"/><path d="M365.2 91.2L364.0 91.6L362.8 91.3L362.3 90.8L361.6 90.4L360.9 89.6L360.4 89.2L359.2 88.6L359.0 88.4L359.2 88.3L360.4 87.8L361.6 87.7L362.8 88.1L363.4 88.4L364.0 88.9L365.0 89.6L365.2 90.4L365.5 90.8L365.2 91.2ZM371.2 93.5L370.0 93.8L368.8 93.4L368.5 93.2L367.8 92.0L368.8 91.4L370.0 91.3L371.2 91.7L371.6 92.0L371.8 93.2L371.2 93.5ZM353.2 121.2L352.0 121.4L350.8 120.9L350.6 120.8L349.6 120.3L348.8 119.6L348.4 119.3L347.5 118.4L347.2 118.1L346.5 117.2L346.0 116.5L345.6 116.0L344.8 115.1L344.5 114.8L343.6 114.1L343.1 113.6L342.4 112.4L342.4 112.4L341.8 111.2L341.2 110.6L340.7 110.0L340.0 109.0L339.8 108.8L339.0 107.6L338.8 107.4L338.0 106.4L337.6 105.9L337.1 105.2L336.7 104.0L336.5 102.8L336.5 101.6L336.6 100.4L336.4 99.4L336.4 99.2L335.8 98.0L335.3 96.8L335.2 96.4L334.9 95.6L334.6 94.4L335.2 93.5L335.7 93.2L336.4 93.0L336.9 93.2L337.6 93.4L338.8 94.4L338.8 94.5L340.0 95.3L341.2 95.5L341.4 95.6L342.4 96.0L343.3 96.8L343.6 97.0L344.8 98.0L344.8 98.0L346.0 98.6L346.8 99.2L347.2 99.4L348.4 100.2L348.7 100.4L349.6 101.6L348.4 102.5L347.2 102.5L346.0 102.3L344.8 102.0L343.6 101.6L343.6 101.6L343.5 101.6L342.4 102.3L342.4 102.8L342.4 103.0L342.7 104.0L342.9 105.2L343.1 106.4L343.3 107.6L343.6 108.8L343.6 108.9L344.1 110.0L344.8 111.0L345.0 111.2L346.0 111.9L346.8 112.4L347.2 112.6L348.4 113.2L349.1 113.6L349.6 113.9L350.5 114.8L350.8 115.1L352.0 116.0L352.0 116.0L353.2 116.8L353.7 117.2L354.4 118.4L354.4 118.4L354.7 119.6L354.4 119.9L353.7 120.8L353.2 121.2ZM376.0 96.8L374.9 95.6L376.0 95.2L376.8 95.6L376.0 96.8ZM377.2 104.1L376.0 104.3L376.0 104.0L376.0 103.8L376.5 102.8L376.8 101.6L377.1 100.4L377.2 100.0L378.4 99.3L378.9 100.4L378.4 101.4L378.2 101.6L377.7 102.8L377.3 104.0L377.2 104.1ZM388.0 109.7L386.8 109.5L385.6 109.5L384.4 109.5L383.2 109.2L382.8 108.8L382.1 107.6L382.0 107.5L381.6 106.4L381.6 105.2L382.0 104.0L382.0 103.9L383.2 102.8L384.4 103.1L385.6 103.0L386.8 102.8L386.8 102.8L388.0 102.4L388.6 102.8L389.2 103.8L389.2 104.0L389.5 105.2L389.8 106.4L390.3 107.6L389.2 108.4L388.9 108.8L388.0 109.7ZM367.6 111.3L366.4 111.8L365.2 111.8L364.0 111.6L362.8 111.2L362.8 111.2L361.6 110.7L360.4 110.4L359.2 110.2L358.3 110.0L358.0 110.0L356.8 109.9L355.6 109.5L355.0 108.8L354.4 108.1L354.1 107.6L353.4 106.4L353.2 105.9L352.9 105.2L353.2 104.6L354.4 104.4L355.6 104.6L356.7 105.2L356.8 105.2L358.0 105.9L358.5 106.4L359.2 107.1L359.9 107.6L360.4 108.0L361.6 108.6L362.2 108.8L362.8 109.0L364.0 109.1L364.8 108.8L365.2 108.6L366.4 108.5L367.6 108.7L367.8 108.8L368.8 110.0L368.8 110.0L368.8 110.0L367.8 111.2L367.6 111.3ZM391.6 109.0L391.1 108.8L391.6 107.7L391.9 108.8L391.6 109.0ZM373.6 125.7L372.4 126.0L371.2 126.0L370.3 125.6L371.2 125.3L372.1 124.4L372.4 124.2L373.6 123.6L374.3 123.2L374.8 123.0L376.0 122.3L376.4 122.0L377.2 121.2L377.6 120.8L378.4 120.1L379.1 119.6L379.6 119.2L380.8 118.5L381.0 118.4L381.4 117.2L381.3 116.0L381.3 114.8L381.8 113.6L382.0 113.4L383.2 113.1L384.4 113.6L384.4 113.6L385.2 114.8L385.1 116.0L384.6 117.2L384.4 117.4L383.6 118.4L383.2 119.4L383.1 119.6L382.0 120.8L382.0 120.8L380.8 121.7L380.3 122.0L379.6 122.5L378.9 123.2L378.4 123.6L377.4 124.4L377.2 124.5L376.0 125.0L374.8 125.3L374.1 125.6L373.6 125.7ZM366.4 128.5L365.2 128.7L364.0 128.9L362.8 128.4L362.3 128.0L361.6 127.4L360.7 126.8L360.4 126.6L359.2 125.8L358.9 125.6L358.6 124.4L359.2 123.7L360.0 123.2L360.4 123.0L361.6 122.9L362.5 123.2L362.8 123.3L364.0 123.8L365.2 123.9L366.4 124.2L366.8 124.4L367.6 124.6L368.8 125.2L369.8 125.6L369.7 126.8L368.8 127.3L367.6 128.0L367.6 128.0L366.4 128.5Z" fill="none" stroke="#929292" stroke-width="0.55"/><path d="M361.6 88.4L361.6 88.4L361.6 88.4L361.6 88.4L361.6 88.4ZM362.8 89.7L362.6 89.6L362.8 89.3L363.5 89.6L362.8 89.7ZM370.0 92.0L370.0 92.0L370.0 92.0L370.0 92.0L370.0 92.0ZM342.4 110.4L342.0 110.0L341.2 109.6L340.6 108.8L340.0 108.0L339.7 107.6L338.8 106.4L338.8 106.4L337.8 105.2L337.6 104.8L337.2 104.0L337.0 102.8L337.0 101.6L337.1 100.4L337.0 99.2L336.4 98.2L336.3 98.0L335.8 96.8L335.4 95.6L335.2 94.4L336.4 93.5L337.6 94.0L338.1 94.4L338.8 95.4L339.1 95.6L340.0 96.0L341.2 96.0L342.4 96.7L342.5 96.8L343.6 97.6L344.2 98.0L344.8 98.5L346.0 99.2L346.0 99.2L347.2 99.9L347.9 100.4L348.4 101.1L348.8 101.6L348.4 101.9L347.2 102.1L346.0 101.8L345.4 101.6L344.8 101.3L343.6 101.0L342.4 100.7L341.3 101.6L341.5 102.8L341.8 104.0L342.1 105.2L342.3 106.4L342.4 106.6L342.7 107.6L342.8 108.8L342.7 110.0L342.4 110.4ZM384.4 108.9L384.0 108.8L383.2 108.5L382.5 107.6L382.1 106.4L382.2 105.2L382.6 104.0L383.2 103.5L384.4 103.6L385.6 103.6L386.8 103.8L387.4 104.0L388.0 104.9L388.1 105.2L388.1 106.4L388.0 106.7L387.7 107.6L386.8 108.4L385.6 108.8L385.4 108.8L384.4 108.9ZM359.2 108.9L358.0 109.0L356.8 109.0L356.4 108.8L355.6 108.4L354.8 107.6L354.4 106.9L354.1 106.4L354.2 105.2L354.4 105.1L354.7 105.2L355.6 105.4L356.8 105.9L357.5 106.4L358.0 106.9L358.7 107.6L359.2 108.6L359.5 108.8L359.2 108.9ZM385.1 106.4L384.5 105.2L384.4 105.1L384.4 105.2L384.0 106.4L384.4 106.9L385.1 106.4ZM366.4 111.3L365.2 111.4L364.1 111.2L364.0 111.1L362.8 110.1L362.4 110.0L362.8 109.9L364.0 109.7L365.2 109.2L366.4 109.0L367.6 109.5L368.1 110.0L367.6 110.6L366.7 111.2L366.4 111.3ZM352.0 120.8L352.0 120.8L350.8 120.5L349.6 119.8L349.4 119.6L348.4 118.8L348.0 118.4L347.2 117.4L347.0 117.2L346.2 116.0L346.0 115.6L345.3 114.8L344.8 114.3L344.0 113.6L343.6 113.0L343.3 112.4L343.5 111.2L343.6 111.1L343.6 111.2L344.8 111.9L345.6 112.4L346.0 112.7L347.2 113.3L347.9 113.6L348.4 113.8L349.6 114.7L349.7 114.8L350.8 115.7L351.2 116.0L352.0 116.5L352.8 117.2L353.2 117.7L353.8 118.4L353.9 119.6L353.2 120.4L352.0 120.8L352.0 120.8ZM383.2 117.9L382.2 117.2L382.0 116.3L382.0 116.0L382.0 115.5L382.1 114.8L383.2 113.8L384.4 114.6L384.5 114.8L384.6 116.0L384.4 116.3L383.8 117.2L383.2 117.9ZM380.8 120.9L379.6 121.4L378.9 120.8L379.6 120.4L380.5 119.6L380.8 119.4L382.0 119.5L382.0 119.6L382.0 119.6L380.9 120.8L380.8 120.9ZM378.4 122.5L377.6 122.0L378.4 121.3L379.0 122.0L378.4 122.5ZM377.2 123.5L376.4 123.2L377.2 122.4L377.7 123.2L377.2 123.5ZM365.2 128.3L364.0 128.5L363.0 128.0L362.8 127.9L361.6 127.0L361.3 126.8L360.4 126.0L359.8 125.6L359.5 124.4L360.4 123.7L361.6 123.6L362.8 124.0L363.3 124.4L364.0 124.8L365.2 124.8L366.4 124.9L367.6 125.4L368.0 125.6L368.4 126.8L367.6 127.3L366.4 128.0L366.4 128.0L365.2 128.3Z" fill="none" stroke="#838383" stroke-width="0.55"/><path d="M341.2 108.4L340.7 107.6L340.0 106.8L339.7 106.4L338.8 105.7L338.4 105.2L337.8 104.0L337.6 103.5L337.4 102.8L337.5 101.6L337.6 100.8L337.7 100.4L337.8 99.2L337.6 99.0L337.1 98.0L336.4 97.2L336.2 96.8L335.9 95.6L335.9 94.4L336.4 94.0L337.4 94.4L337.6 94.5L338.3 95.6L338.8 96.4L340.0 96.6L341.2 96.5L341.7 96.8L342.4 97.2L343.5 98.0L343.6 98.1L344.8 99.0L345.2 99.2L346.0 99.8L347.2 100.4L347.2 100.4L347.3 101.6L347.2 101.6L347.2 101.6L346.0 101.1L344.8 100.8L343.8 100.4L343.6 100.3L342.4 100.0L341.2 99.9L340.6 100.4L340.7 101.6L340.8 102.8L341.0 104.0L341.2 104.8L341.3 105.2L341.5 106.4L341.7 107.6L341.2 108.4ZM386.8 107.6L385.6 108.0L384.4 107.6L383.2 107.9L383.0 107.6L383.1 106.4L382.8 105.2L383.2 104.2L383.6 105.2L383.3 106.4L384.4 107.6L385.6 107.0L386.0 106.4L385.6 105.4L385.5 105.2L385.6 104.6L386.8 104.6L387.3 105.2L387.4 106.4L386.8 107.6L386.8 107.6ZM356.8 108.1L355.6 107.7L355.5 107.6L355.2 106.4L355.6 106.2L356.2 106.4L356.8 106.9L357.5 107.6L356.8 108.1ZM366.4 110.7L365.2 110.8L364.5 110.0L365.2 109.7L366.4 109.6L367.3 110.0L366.4 110.7ZM346.0 114.0L345.7 113.6L346.0 113.5L346.2 113.6L346.0 114.0ZM353.2 119.6L352.0 120.3L350.8 120.1L350.0 119.6L349.6 119.3L348.5 118.4L348.4 118.3L347.5 117.2L347.2 116.6L346.8 116.0L346.1 114.8L347.2 114.0L348.4 114.4L349.0 114.8L349.6 115.2L350.5 116.0L350.8 116.2L352.0 117.1L352.2 117.2L353.1 118.4L353.2 119.4L353.2 119.6L353.2 119.6ZM383.2 116.8L382.7 116.0L383.0 114.8L383.2 114.6L383.5 114.8L383.8 116.0L383.2 116.8ZM364.0 128.0L363.9 128.0L362.8 127.4L362.0 126.8L361.6 126.4L360.5 125.6L360.4 124.7L360.4 124.4L360.4 124.4L361.6 124.2L362.0 124.4L362.8 124.7L364.0 125.4L365.2 125.3L366.4 125.5L366.6 125.6L367.4 126.8L366.4 127.4L365.2 127.8L364.4 128.0L364.0 128.0Z" fill="none" stroke="#757575" stroke-width="0.55"/><path d="M337.6 97.6L337.0 96.8L336.4 95.8L336.3 95.6L336.4 95.1L337.6 95.4L337.7 95.6L338.2 96.8L337.6 97.6ZM343.6 99.5L342.4 99.4L341.5 99.2L341.2 99.0L340.0 98.6L339.2 98.0L340.0 97.5L341.2 97.2L342.4 97.7L342.8 98.0L343.6 98.9L344.1 99.2L343.6 99.5ZM340.0 105.4L339.7 105.2L338.8 104.8L338.3 104.0L338.0 102.8L338.1 101.6L338.6 100.4L338.8 99.9L339.3 100.4L340.0 101.3L340.1 101.6L340.3 102.8L340.3 104.0L340.1 105.2L340.0 105.4ZM386.8 106.4L386.8 106.4L386.8 106.4L386.8 106.4L386.8 106.4ZM352.0 119.9L350.8 119.7L350.6 119.6L349.6 118.9L349.0 118.4L348.4 117.7L348.0 117.2L347.4 116.0L348.4 115.0L349.6 115.8L349.9 116.0L350.8 116.7L351.5 117.2L352.0 117.7L352.6 118.4L352.5 119.6L352.0 119.9ZM365.2 127.2L364.0 127.4L362.8 127.0L362.6 126.8L361.6 125.8L361.4 125.6L361.6 125.2L362.8 125.3L363.2 125.6L364.0 126.1L365.2 126.1L366.3 126.8L365.2 127.2Z" fill="none" stroke="#666666" stroke-width="0.55"/><path d="M341.2 98.1L341.1 98.0L341.2 98.0L341.3 98.0L341.2 98.1ZM338.8 103.7L338.6 102.8L338.7 101.6L338.8 101.4L339.0 101.6L339.3 102.8L338.8 103.7ZM348.4 116.8L348.2 116.0L348.4 115.8L348.8 116.0L348.4 116.8ZM352.0 118.9L350.8 119.2L349.6 118.5L349.5 118.4L348.5 117.2L349.6 116.4L350.8 117.1L351.0 117.2L352.0 118.2L352.1 118.4L352.0 118.9Z" fill="none" stroke="#575757" stroke-width="0.55"/><path d="M349.6 117.4L349.5 117.2L349.6 117.1L349.8 117.2L349.6 117.4ZM350.8 118.6L350.4 118.4L350.8 118.0L351.2 118.4L350.8 118.6Z" fill="none" stroke="#484848" stroke-width="0.55"/></g>
<g opacity="0.90"><path d="M364.0 73.2L362.8 73.7L361.6 73.9L360.4 73.9L359.2 73.6L358.0 73.0L357.8 72.8L356.8 71.8L356.7 71.6L356.1 70.4L356.1 69.2L356.7 68.0L356.8 67.9L358.0 66.8L358.1 66.8L359.2 66.2L360.4 65.9L361.6 65.9L362.8 66.2L363.9 66.8L364.0 66.9L365.2 67.9L365.3 68.0L366.0 69.2L366.1 70.4L365.7 71.6L365.2 72.2L364.6 72.8L364.0 73.2Z" fill="none" stroke="#c0e0a0" stroke-width="0.60"/><path d="M361.6 72.8L361.0 72.8L360.4 72.8L359.2 72.4L358.2 71.6L358.0 71.3L357.5 70.4L357.6 69.2L358.0 68.5L358.4 68.0L359.2 67.4L360.4 67.1L361.6 67.1L362.8 67.4L363.6 68.0L364.0 68.5L364.5 69.2L364.7 70.4L364.1 71.6L364.0 71.7L362.8 72.5L361.7 72.8L361.6 72.8Z" fill="none" stroke="#add38d" stroke-width="0.60"/><path d="M362.8 71.6L361.6 72.1L360.4 72.0L359.5 71.6L359.2 71.4L358.5 70.4L358.6 69.2L359.2 68.4L360.0 68.0L360.4 67.8L361.6 67.8L362.0 68.0L362.8 68.4L363.5 69.2L363.7 70.4L362.8 71.6L362.8 71.6Z" fill="none" stroke="#9bc57b" stroke-width="0.60"/><path d="M361.6 71.3L360.4 71.2L359.4 70.4L359.6 69.2L360.4 68.6L361.6 68.6L362.5 69.2L362.8 70.4L361.6 71.3Z" fill="none" stroke="#88b868" stroke-width="0.60"/></g>
<g opacity="0.90"><path d="M360.4 87.6L359.2 88.1L358.0 88.3L356.8 88.3L355.6 88.1L354.4 87.8L353.4 87.2L353.2 87.0L352.1 86.0L352.0 85.8L351.4 84.8L351.2 83.6L351.4 82.4L352.0 81.5L352.3 81.2L353.2 80.4L354.0 80.0L354.4 79.8L355.6 79.3L356.8 79.1L358.0 79.1L359.2 79.3L360.4 79.9L360.5 80.0L361.6 80.9L361.9 81.2L362.5 82.4L362.7 83.6L362.6 84.8L362.1 86.0L361.6 86.6L361.0 87.2L360.4 87.6Z" fill="none" stroke="#c0e0a0" stroke-width="0.60"/><path d="M359.2 86.7L358.0 87.0L356.8 87.0L355.6 86.8L354.4 86.2L354.2 86.0L353.2 84.9L353.2 84.8L352.8 83.6L353.2 82.5L353.2 82.4L354.4 81.3L354.6 81.2L355.6 80.7L356.8 80.5L358.0 80.5L359.2 80.8L359.8 81.2L360.4 81.8L360.8 82.4L361.1 83.6L361.0 84.8L360.4 85.7L360.2 86.0L359.2 86.7Z" fill="none" stroke="#add38d" stroke-width="0.60"/><path d="M358.0 86.1L356.8 86.1L356.3 86.0L355.6 85.8L354.4 84.8L354.4 84.8L354.0 83.6L354.4 82.8L354.6 82.4L355.6 81.7L356.8 81.4L358.0 81.5L359.2 82.0L359.6 82.4L360.0 83.6L359.8 84.8L359.2 85.5L358.2 86.0L358.0 86.1Z" fill="none" stroke="#9bc57b" stroke-width="0.60"/><path d="M358.0 85.1L356.8 85.2L355.8 84.8L355.6 84.6L355.2 83.6L355.6 83.0L356.4 82.4L356.8 82.3L358.0 82.4L358.0 82.4L359.0 83.6L358.5 84.8L358.0 85.1Z" fill="none" stroke="#88b868" stroke-width="0.60"/></g>
<g opacity="0.90"><path d="M366.4 90.8L365.2 90.8L365.2 90.8L364.2 89.6L364.2 88.4L364.1 87.2L364.1 86.0L364.0 85.0L364.0 84.8L363.7 83.6L363.6 82.4L364.0 81.2L364.0 81.2L365.2 80.3L366.4 81.2L366.4 81.2L366.9 82.4L367.0 83.6L367.1 84.8L367.2 86.0L367.3 87.2L367.3 88.4L367.4 89.6L366.4 90.8L366.4 90.8Z" fill="none" stroke="#7a9a60" stroke-width="0.60"/><path d="M366.4 90.1L365.2 90.1L364.8 89.6L364.7 88.4L364.6 87.2L364.5 86.0L364.5 84.8L364.4 83.6L364.3 82.4L364.9 81.2L365.2 81.0L365.5 81.2L366.1 82.4L366.2 83.6L366.3 84.8L366.4 85.2L366.5 86.0L366.7 87.2L366.8 88.4L366.8 89.6L366.4 90.1Z" fill="none" stroke="#5a7a44" stroke-width="0.60"/><path d="M365.2 88.7L365.2 88.4L365.1 87.2L365.0 86.0L364.9 84.8L364.9 83.6L364.9 82.4L365.2 81.8L365.6 82.4L365.6 83.6L365.6 84.8L365.6 86.0L365.6 87.2L365.4 88.4L365.2 88.7Z" fill="none" stroke="#3a5a28" stroke-width="0.60"/></g>
<g opacity="0.90"><path d="M380.8 89.7L379.6 90.1L378.4 90.3L377.2 90.4L376.0 90.3L374.8 90.1L373.7 89.6L373.6 89.5L372.4 88.6L372.2 88.4L371.2 87.3L371.1 87.2L370.0 86.4L369.0 86.0L368.8 85.9L367.6 85.5L366.6 84.8L366.4 84.6L365.7 83.6L365.2 82.4L365.2 82.4L364.9 81.2L364.6 80.0L364.4 78.8L364.4 77.6L364.6 76.4L364.9 75.2L365.0 74.0L365.0 72.8L365.0 71.6L365.2 70.5L365.2 70.4L366.2 69.2L366.4 69.1L367.6 68.5L368.8 68.1L369.0 68.0L370.0 67.4L371.2 66.8L371.3 66.8L372.4 66.5L373.6 66.4L374.8 66.4L376.0 66.5L377.2 66.8L377.3 66.8L378.4 67.3L379.1 68.0L379.6 68.5L380.1 69.2L380.8 70.4L380.8 70.4L381.4 71.6L382.0 72.8L382.0 72.8L382.9 74.0L383.2 74.4L383.8 75.2L384.4 76.2L384.5 76.4L385.0 77.6L385.3 78.8L385.3 80.0L385.2 81.2L385.0 82.4L384.6 83.6L384.4 84.3L384.3 84.8L384.0 86.0L383.6 87.2L383.2 87.9L382.8 88.4L382.0 89.1L380.9 89.6L380.8 89.7Z" fill="none" stroke="#e89898" stroke-width="0.60"/><path d="M377.2 89.7L376.7 89.6L376.0 89.5L374.8 89.2L373.6 88.5L373.5 88.4L372.4 87.3L372.3 87.2L371.2 86.1L371.0 86.0L370.0 85.4L368.8 85.0L368.4 84.8L367.6 84.4L366.7 83.6L366.4 83.1L366.0 82.4L365.7 81.2L365.5 80.0L365.3 78.8L365.3 77.6L365.4 76.4L365.6 75.2L365.8 74.0L365.9 72.8L366.1 71.6L366.4 70.9L366.8 70.4L367.6 69.9L368.8 69.5L369.8 69.2L370.0 69.1L371.2 68.6L372.4 68.2L373.2 68.0L373.6 67.9L374.8 67.8L376.0 67.7L377.1 68.0L377.2 68.0L378.4 68.8L378.8 69.2L379.6 70.4L379.6 70.4L380.2 71.6L380.7 72.8L380.8 73.0L381.6 74.0L382.0 74.4L382.8 75.2L383.2 75.7L383.7 76.4L384.2 77.6L384.4 78.2L384.6 78.8L384.7 80.0L384.7 81.2L384.4 82.3L384.4 82.4L384.1 83.6L383.8 84.8L383.4 86.0L383.2 86.5L382.9 87.2L382.0 88.2L381.7 88.4L380.8 89.0L379.6 89.4L378.4 89.6L378.1 89.6L377.2 89.7Z" fill="none" stroke="#e18b8b" stroke-width="0.60"/><path d="M378.4 88.6L377.2 88.6L376.2 88.4L376.0 88.4L374.8 87.8L374.1 87.2L373.6 86.7L373.0 86.0L372.4 85.4L371.7 84.8L371.2 84.3L370.0 83.6L370.0 83.6L368.8 82.9L368.2 82.4L367.6 81.4L367.5 81.2L367.2 80.0L367.0 78.8L366.8 77.6L366.8 76.4L366.9 75.2L367.1 74.0L367.5 72.8L367.6 72.6L368.6 71.6L368.8 71.5L370.0 71.0L371.2 70.6L371.8 70.4L372.4 70.1L373.6 69.7L374.8 69.5L376.0 69.5L377.2 69.9L377.7 70.4L378.4 71.3L378.6 71.6L379.2 72.8L379.6 73.7L379.8 74.0L380.8 75.1L380.9 75.2L382.0 76.2L382.2 76.4L383.0 77.6L383.2 78.0L383.5 78.8L383.8 80.0L383.8 81.2L383.6 82.4L383.2 83.6L383.2 83.6L382.9 84.8L382.4 86.0L382.0 86.6L381.5 87.2L380.8 87.8L379.6 88.3L379.2 88.4L378.4 88.6Z" fill="none" stroke="#db7d7d" stroke-width="0.60"/><path d="M379.6 87.2L378.4 87.5L377.2 87.5L376.4 87.2L376.0 87.0L374.8 86.0L374.8 86.0L373.7 84.8L373.6 84.7L372.6 83.6L372.4 83.3L371.7 82.4L371.2 81.2L371.2 81.1L370.6 80.0L370.0 79.1L369.7 78.8L368.8 77.7L368.7 77.6L368.3 76.4L368.3 75.2L368.6 74.0L368.8 73.7L369.8 72.8L370.0 72.7L371.2 72.1L372.4 71.7L372.7 71.6L373.6 71.3L374.8 71.0L376.0 71.2L376.6 71.6L377.2 72.0L377.7 72.8L378.4 74.0L378.4 74.0L379.3 75.2L379.6 75.6L380.5 76.4L380.8 76.7L381.7 77.6L382.0 78.1L382.4 78.8L382.8 80.0L382.9 81.2L382.7 82.4L382.3 83.6L382.0 84.4L381.9 84.8L381.2 86.0L380.8 86.4L379.6 87.2L379.6 87.2Z" fill="none" stroke="#d47070" stroke-width="0.60"/><path d="M378.4 86.4L377.2 86.3L376.7 86.0L376.0 85.5L375.3 84.8L374.8 84.2L374.3 83.6L373.6 82.6L373.5 82.4L372.8 81.2L372.4 80.3L372.3 80.0L371.6 78.8L371.2 78.0L370.8 77.6L370.1 76.4L370.0 75.8L369.9 75.2L370.0 75.1L370.7 74.0L371.2 73.7L372.4 73.1L373.4 72.8L373.6 72.7L374.8 72.6L375.5 72.8L376.0 73.0L377.0 74.0L377.2 74.2L377.9 75.2L378.4 75.8L378.9 76.4L379.6 77.1L380.1 77.6L380.8 78.4L381.1 78.8L381.7 80.0L381.9 81.2L381.8 82.4L381.4 83.6L380.8 84.8L380.8 84.8L379.6 86.0L379.6 86.0L378.4 86.4Z" fill="none" stroke="#cd6363" stroke-width="0.60"/><path d="M378.4 85.1L377.2 84.8L377.1 84.8L376.0 83.7L375.9 83.6L375.0 82.4L374.8 82.1L374.2 81.2L373.6 80.1L373.6 80.0L373.1 78.8L372.6 77.6L372.4 76.8L372.2 76.4L372.4 75.6L372.5 75.2L373.6 74.6L374.8 74.4L376.0 74.9L376.3 75.2L377.2 76.1L377.5 76.4L378.4 77.4L378.6 77.6L379.6 78.7L379.7 78.8L380.5 80.0L380.8 81.0L380.8 81.2L380.8 81.9L380.8 82.4L380.3 83.6L379.6 84.5L379.1 84.8L378.4 85.1Z" fill="none" stroke="#c75555" stroke-width="0.60"/><path d="M378.4 83.3L377.2 82.8L376.9 82.4L376.0 81.3L375.9 81.2L375.2 80.0L374.8 79.1L374.7 78.8L374.7 77.6L374.8 77.3L376.0 77.2L376.5 77.6L377.2 78.1L377.9 78.8L378.4 79.4L378.9 80.0L379.4 81.2L379.3 82.4L378.4 83.3Z" fill="none" stroke="#c04848" stroke-width="0.60"/></g>
<g opacity="0.90"><path d="M376.0 86.5L375.1 86.0L374.8 85.9L374.0 84.8L374.3 83.6L374.8 83.1L376.0 82.5L376.3 82.4L377.2 81.7L377.4 81.2L377.4 80.0L377.2 78.8L377.2 78.8L376.0 78.5L374.8 78.2L373.6 77.6L373.6 77.6L372.6 76.4L372.7 75.2L373.6 74.3L374.8 74.2L376.0 74.4L377.2 74.9L377.7 75.2L378.4 75.4L379.6 75.7L380.4 76.4L380.8 77.6L380.8 77.8L381.0 78.8L381.2 80.0L381.4 81.2L381.5 82.4L381.4 83.6L380.8 84.3L379.9 84.8L379.6 85.0L378.4 85.6L377.2 86.0L377.1 86.0L376.0 86.5Z" fill="none" stroke="#9a8050" stroke-width="0.70"/><path d="M378.4 84.9L377.2 85.5L376.0 85.8L374.8 84.9L374.7 84.8L374.8 84.6L375.2 83.6L376.0 83.0L377.2 82.6L377.6 82.4L378.0 81.2L377.9 80.0L377.7 78.8L377.2 78.3L376.0 78.0L375.1 77.6L374.8 77.5L373.6 77.0L373.1 76.4L373.4 75.2L373.6 75.0L374.8 74.6L376.0 75.1L376.1 75.2L377.2 75.6L378.4 75.9L379.5 76.4L379.6 76.4L380.3 77.6L380.4 78.8L380.5 80.0L380.6 81.2L380.8 82.4L380.6 83.6L379.6 84.4L378.6 84.8L378.4 84.9Z" fill="none" stroke="#7a653b" stroke-width="0.70"/><path d="M377.2 85.0L376.0 85.4L375.3 84.8L375.9 83.6L376.0 83.5L377.2 83.1L378.4 82.6L378.6 82.4L378.5 81.2L378.4 80.5L378.4 80.0L378.2 78.8L377.2 77.8L376.5 77.6L376.0 77.4L374.8 77.1L373.6 76.4L374.6 75.2L374.8 75.1L375.0 75.2L376.0 75.7L377.2 76.0L378.3 76.4L378.4 76.5L379.6 77.2L379.8 77.6L380.0 78.8L380.1 80.0L380.2 81.2L380.3 82.4L380.0 83.6L379.6 84.0L378.4 84.3L377.6 84.8L377.2 85.0Z" fill="none" stroke="#5a4b25" stroke-width="0.70"/><path d="M376.0 76.7L374.8 76.6L374.4 76.4L374.8 76.0L376.0 76.2L376.8 76.4L376.0 76.7ZM378.4 77.7L378.3 77.6L378.4 77.5L378.5 77.6L378.4 77.7ZM379.6 83.1L379.3 82.4L379.4 81.2L379.5 80.0L379.6 79.8L379.6 80.0L379.7 81.2L379.8 82.4L379.6 83.1ZM378.4 83.8L377.2 83.8L377.1 83.6L377.2 83.6L378.4 83.3L379.1 83.6L378.4 83.8ZM376.0 84.9L375.9 84.8L376.0 84.5L376.4 84.8L376.0 84.9Z" fill="none" stroke="#3a3010" stroke-width="0.70"/></g>
<g opacity="0.90"><path d="M400.0 101.7L398.8 102.2L397.6 102.4L396.4 102.6L395.2 102.7L394.0 102.6L392.8 102.1L392.2 101.6L391.6 101.2L390.9 100.4L390.4 99.9L389.8 99.2L389.2 98.3L389.0 98.0L388.4 96.8L388.1 95.6L388.0 95.4L387.6 94.4L387.1 93.2L386.8 92.5L386.6 92.0L386.0 90.8L385.6 89.6L385.6 89.6L385.1 88.4L384.6 87.2L384.4 86.5L384.2 86.0L383.8 84.8L383.5 83.6L383.5 82.4L383.6 81.2L383.9 80.0L384.4 79.2L384.6 78.8L385.6 77.7L385.7 77.6L386.8 76.7L387.4 76.4L388.0 76.0L389.2 75.6L390.4 75.5L391.6 75.5L392.8 75.6L394.0 76.0L394.8 76.4L395.2 76.6L396.4 77.3L396.8 77.6L397.6 78.1L398.6 78.8L398.8 78.9L400.0 80.0L400.0 80.0L400.9 81.2L401.2 81.9L401.4 82.4L401.9 83.6L402.1 84.8L402.2 86.0L402.2 87.2L402.1 88.4L402.2 89.6L402.4 90.8L402.4 91.0L402.7 92.0L403.0 93.2L403.2 94.4L403.4 95.6L403.4 96.8L403.1 98.0L402.6 99.2L402.4 99.5L401.7 100.4L401.2 100.9L400.2 101.6L400.0 101.7Z" fill="none" stroke="#9c9cd8" stroke-width="0.60"/><path d="M397.6 100.6L396.4 100.8L395.2 100.8L394.0 100.6L393.6 100.4L392.8 100.1L391.7 99.2L391.6 99.1L390.6 98.0L390.4 97.7L389.9 96.8L389.4 95.6L389.2 95.0L389.0 94.4L388.5 93.2L388.1 92.0L388.0 91.8L387.5 90.8L387.1 89.6L386.8 89.0L386.5 88.4L386.0 87.2L385.6 86.2L385.5 86.0L385.0 84.8L384.7 83.6L384.6 82.4L384.7 81.2L385.2 80.0L385.6 79.4L386.0 78.8L386.8 78.0L387.5 77.6L388.0 77.3L389.2 76.8L390.4 76.7L391.6 76.8L392.8 77.0L394.0 77.6L394.0 77.6L395.2 78.2L396.0 78.8L396.4 79.1L397.6 80.0L397.6 80.0L398.7 81.2L398.8 81.3L399.4 82.4L399.9 83.6L400.0 84.3L400.1 84.8L400.3 86.0L400.3 87.2L400.4 88.4L400.5 89.6L400.7 90.8L400.9 92.0L401.1 93.2L401.2 93.9L401.3 94.4L401.5 95.6L401.5 96.8L401.2 97.9L401.2 98.0L400.4 99.2L400.0 99.6L398.8 100.3L398.3 100.4L397.6 100.6Z" fill="none" stroke="#8d8dcd" stroke-width="0.60"/><path d="M396.4 99.4L395.2 99.5L394.0 99.3L393.8 99.2L392.8 98.8L391.9 98.0L391.6 97.7L390.9 96.8L390.4 95.7L390.3 95.6L389.9 94.4L389.5 93.2L389.2 92.3L389.1 92.0L388.6 90.8L388.1 89.6L388.0 89.2L387.6 88.4L387.0 87.2L386.8 86.8L386.4 86.0L385.9 84.8L385.6 83.9L385.5 83.6L385.4 82.4L385.6 81.2L385.6 81.2L386.1 80.0L386.8 79.1L387.1 78.8L388.0 78.2L389.2 77.7L390.2 77.6L390.4 77.6L390.6 77.6L391.6 77.7L392.8 78.0L394.0 78.6L394.3 78.8L395.2 79.4L395.9 80.0L396.4 80.4L397.2 81.2L397.6 81.8L398.0 82.4L398.5 83.6L398.8 84.6L398.9 84.8L399.1 86.0L399.2 87.2L399.4 88.4L399.5 89.6L399.6 90.8L399.7 92.0L399.9 93.2L400.0 94.4L400.0 94.9L400.0 95.6L400.0 95.9L399.9 96.8L399.3 98.0L398.8 98.5L397.6 99.2L397.5 99.2L396.4 99.4Z" fill="none" stroke="#7d7dc2" stroke-width="0.60"/><path d="M396.4 98.3L395.2 98.5L394.0 98.3L393.4 98.0L392.8 97.7L391.9 96.8L391.6 96.5L391.1 95.6L390.6 94.4L390.4 93.7L390.2 93.2L389.8 92.0L389.5 90.8L389.2 89.9L389.1 89.6L388.6 88.4L388.0 87.3L388.0 87.2L387.2 86.0L386.8 85.2L386.6 84.8L386.2 83.6L386.0 82.4L386.3 81.2L386.8 80.2L386.9 80.0L388.0 79.0L388.4 78.8L389.2 78.4L390.4 78.3L391.6 78.4L392.6 78.8L392.8 78.9L394.0 79.6L394.6 80.0L395.2 80.5L395.9 81.2L396.4 81.8L396.9 82.4L397.5 83.6L397.6 83.9L397.9 84.8L398.2 86.0L398.4 87.2L398.6 88.4L398.7 89.6L398.8 90.8L398.8 90.8L398.9 92.0L398.9 93.2L398.9 94.4L398.8 95.6L398.8 95.6L398.4 96.8L397.6 97.7L397.1 98.0L396.4 98.3Z" fill="none" stroke="#6e6eb7" stroke-width="0.60"/><path d="M396.4 97.1L395.2 97.5L394.0 97.4L392.9 96.8L392.8 96.7L391.9 95.6L391.6 95.1L391.3 94.4L390.9 93.2L390.6 92.0L390.4 91.3L390.3 90.8L390.0 89.6L389.6 88.4L389.2 87.7L388.9 87.2L388.0 86.0L388.0 85.9L387.3 84.8L386.8 83.6L386.8 83.6L386.7 82.4L386.8 81.7L386.9 81.2L387.7 80.0L388.0 79.8L389.2 79.1L390.4 79.0L391.6 79.2L392.8 79.7L393.4 80.0L394.0 80.5L394.8 81.2L395.2 81.6L395.8 82.4L396.4 83.3L396.6 83.6L397.1 84.8L397.5 86.0L397.6 86.7L397.7 87.2L397.9 88.4L398.0 89.6L398.1 90.8L398.1 92.0L398.1 93.2L398.0 94.4L397.7 95.6L397.6 95.7L396.8 96.8L396.4 97.1Z" fill="none" stroke="#5e5ead" stroke-width="0.60"/><path d="M396.4 95.7L395.2 96.5L394.0 96.5L392.8 95.7L392.7 95.6L392.0 94.4L391.6 93.3L391.6 93.2L391.2 92.0L391.0 90.8L390.8 89.6L390.6 88.4L390.4 88.0L390.0 87.2L389.2 86.3L389.0 86.0L388.0 84.8L388.0 84.8L387.4 83.6L387.3 82.4L387.6 81.2L388.0 80.7L388.9 80.0L389.2 79.8L390.4 79.6L391.6 79.9L391.9 80.0L392.8 80.5L393.7 81.2L394.0 81.5L394.8 82.4L395.2 82.9L395.7 83.6L396.3 84.8L396.4 85.0L396.7 86.0L397.0 87.2L397.2 88.4L397.4 89.6L397.4 90.8L397.4 92.0L397.3 93.2L397.0 94.4L396.5 95.6L396.4 95.7Z" fill="none" stroke="#4f4fa2" stroke-width="0.60"/><path d="M395.2 95.3L394.0 95.4L392.8 94.4L392.8 94.4L392.3 93.2L392.0 92.0L391.8 90.8L391.7 89.6L391.7 88.4L391.6 88.2L391.3 87.2L390.4 86.2L390.2 86.0L389.2 85.2L388.9 84.8L388.1 83.6L388.0 83.3L387.9 82.4L388.0 82.0L388.4 81.2L389.2 80.6L390.4 80.4L391.6 80.7L392.6 81.2L392.8 81.4L393.8 82.4L394.0 82.7L394.6 83.6L395.2 84.5L395.4 84.8L395.9 86.0L396.3 87.2L396.4 87.8L396.5 88.4L396.6 89.6L396.7 90.8L396.6 92.0L396.4 93.2L396.4 93.3L395.9 94.4L395.2 95.3Z" fill="none" stroke="#3f3f97" stroke-width="0.60"/><path d="M395.2 93.4L394.0 93.9L393.4 93.2L392.8 92.1L392.8 92.0L392.7 90.8L392.7 89.6L392.8 89.2L393.0 88.4L392.9 87.2L392.8 87.0L392.2 86.0L391.6 85.6L390.4 85.0L390.2 84.8L389.2 84.0L388.9 83.6L388.7 82.4L389.2 81.6L390.2 81.2L390.4 81.2L390.6 81.2L391.6 81.6L392.5 82.4L392.8 82.8L393.4 83.6L394.0 84.6L394.1 84.8L394.6 86.0L395.2 87.1L395.2 87.2L395.5 88.4L395.7 89.6L395.8 90.8L395.6 92.0L395.3 93.2L395.2 93.4Z" fill="none" stroke="#30308c" stroke-width="0.60"/></g>
<g opacity="0.90"><path d="M451.8 137.0L450.6 137.5L449.4 137.7L448.2 137.5L447.0 137.0L446.2 136.6L445.8 136.4L444.6 136.1L443.4 135.8L442.3 135.4L442.2 135.4L441.0 134.7L440.4 134.2L439.8 133.5L439.4 133.0L438.8 131.8L438.6 131.2L438.3 130.6L438.0 129.4L438.0 128.2L438.2 127.0L438.3 125.8L438.2 124.6L437.9 123.4L437.6 122.2L437.4 121.2L437.4 121.0L437.4 119.8L437.4 119.2L437.4 118.6L437.5 117.4L437.6 116.2L437.8 115.0L438.1 113.8L438.6 112.6L438.6 112.6L439.1 111.4L439.6 110.2L439.8 109.4L439.9 109.0L440.3 107.8L441.0 106.6L441.0 106.5L441.9 105.4L442.2 105.1L443.2 104.2L443.4 104.0L444.6 103.2L444.9 103.0L445.8 102.4L446.8 101.8L447.0 101.7L448.2 100.8L448.5 100.6L449.4 100.0L450.6 99.4L450.7 99.4L451.8 99.0L453.0 98.9L454.2 99.0L455.4 99.1L456.6 98.7L457.2 98.2L457.8 97.7L458.8 97.0L459.0 96.8L460.2 96.1L460.9 95.8L461.4 95.6L462.6 95.2L463.8 94.8L464.4 94.6L465.0 94.4L466.2 93.9L467.4 93.4L467.4 93.4L468.6 92.8L469.7 92.2L469.8 92.1L471.0 91.4L472.1 91.0L472.2 90.9L473.4 90.6L474.6 90.3L475.8 90.0L476.8 89.8L477.0 89.8L478.2 89.7L479.4 89.7L480.6 89.7L481.8 89.6L483.0 89.4L484.2 89.3L485.4 89.1L486.6 88.8L487.5 88.6L487.8 88.5L489.0 88.4L490.2 88.4L490.9 88.6L491.4 88.7L492.6 89.1L493.7 89.8L493.8 89.9L495.0 90.9L495.1 91.0L496.2 91.9L496.7 92.2L497.4 92.5L498.6 93.1L499.0 93.4L499.8 94.0L500.4 94.6L501.0 95.8L501.0 95.9L501.3 97.0L501.3 98.2L501.0 99.3L501.0 99.4L500.5 100.6L499.8 101.6L499.6 101.8L498.6 102.8L498.4 103.0L497.4 103.8L496.7 104.2L496.2 104.5L495.0 105.2L494.7 105.4L493.8 106.1L493.0 106.6L492.6 106.9L491.4 107.5L490.5 107.8L490.2 107.9L489.0 108.3L487.8 108.6L486.6 109.0L486.6 109.0L485.4 109.6L484.3 110.2L484.2 110.3L483.0 111.2L482.8 111.4L481.8 112.3L481.4 112.6L480.6 113.2L479.4 113.8L479.4 113.8L478.2 114.4L477.0 114.8L476.4 115.0L475.8 115.3L474.6 115.7L473.4 116.1L472.9 116.2L472.2 116.4L471.0 116.7L469.8 116.9L468.6 117.2L468.1 117.4L467.4 117.9L466.7 118.6L466.2 119.2L465.7 119.8L465.0 120.5L464.5 121.0L463.8 121.5L462.8 122.2L462.6 122.4L461.7 123.4L461.5 124.6L461.7 125.8L462.0 127.0L462.0 128.2L461.8 129.4L461.4 130.2L461.2 130.6L460.5 131.8L460.2 132.2L459.7 133.0L459.0 133.9L458.8 134.2L457.8 135.2L457.5 135.4L456.6 136.0L455.4 136.3L454.2 136.4L453.0 136.5L452.7 136.6L451.8 137.0Z" fill="none" stroke="#eea4a4" stroke-width="0.60"/><path d="M451.8 135.8L450.6 136.2L449.4 136.3L448.2 136.2L447.0 135.7L446.2 135.4L445.8 135.3L444.6 134.9L443.4 134.4L443.0 134.2L442.2 133.6L441.6 133.0L441.1 131.8L441.0 130.6L441.2 129.4L441.3 128.2L441.0 127.0L441.0 126.9L440.7 125.8L440.5 124.6L440.3 123.4L440.0 122.2L439.8 121.6L439.6 121.0L439.3 119.8L439.1 118.6L439.0 117.4L439.1 116.2L439.3 115.0L439.7 113.8L439.8 113.7L440.5 112.6L441.0 111.9L441.4 111.4L441.9 110.2L442.2 109.0L442.2 108.8L442.5 107.8L443.1 106.6L443.4 106.3L444.3 105.4L444.6 105.2L445.8 104.5L446.4 104.2L447.0 103.8L448.2 103.0L448.2 103.0L449.4 102.1L449.8 101.8L450.6 101.2L451.8 100.8L453.0 100.7L454.2 100.9L455.4 101.2L456.6 101.5L457.8 100.7L457.8 100.6L458.5 99.4L459.0 98.9L459.7 98.2L460.2 97.8L461.4 97.2L462.0 97.0L462.6 96.8L463.8 96.4L465.0 96.0L465.7 95.8L466.2 95.6L467.4 95.1L468.5 94.6L468.6 94.6L469.8 94.0L471.0 93.5L471.3 93.4L472.2 93.1L473.4 92.9L474.6 93.1L475.1 93.4L475.7 94.6L475.8 94.7L477.0 95.6L478.2 95.3L479.0 94.6L479.4 93.7L479.5 93.4L480.3 92.2L480.6 92.0L481.8 91.5L483.0 91.3L484.2 91.1L485.1 91.0L485.4 90.9L486.6 90.5L487.8 90.0L488.9 89.8L489.0 89.8L490.2 89.7L490.5 89.8L491.4 90.0L492.6 90.5L493.3 91.0L493.8 91.4L494.7 92.2L495.0 92.5L496.2 93.4L496.2 93.4L497.4 94.1L498.1 94.6L498.6 95.2L499.1 95.8L499.5 97.0L499.5 98.2L499.2 99.4L498.6 100.4L498.5 100.6L497.4 101.7L497.3 101.8L496.2 102.6L495.7 103.0L495.0 103.4L493.8 104.2L493.8 104.2L492.6 105.0L491.9 105.4L491.4 105.7L490.2 106.1L489.0 106.5L488.5 106.6L487.8 106.8L486.6 107.3L485.5 107.8L485.4 107.9L484.2 108.6L483.6 109.0L483.0 109.5L482.0 110.2L481.8 110.4L480.6 111.4L480.6 111.4L479.4 112.2L478.6 112.6L478.2 112.8L477.0 113.3L475.8 113.8L475.8 113.8L474.6 114.3L473.4 114.7L472.2 115.0L472.1 115.0L471.0 115.2L469.8 115.4L468.6 115.5L467.4 115.8L466.7 116.2L466.2 116.6L465.4 117.4L465.0 117.9L464.4 118.6L463.8 119.3L463.1 119.8L462.6 120.2L461.4 120.9L461.1 121.0L460.2 121.8L459.8 122.2L459.5 123.4L459.8 124.6L460.1 125.8L460.2 126.7L460.3 127.0L460.2 128.2L460.2 128.3L459.9 129.4L459.3 130.6L459.0 131.1L458.6 131.8L457.8 132.9L457.7 133.0L456.6 134.1L456.4 134.2L455.4 134.7L454.2 135.1L453.0 135.3L452.8 135.4L451.8 135.8Z" fill="none" stroke="#e99a9a" stroke-width="0.60"/><path d="M449.4 135.4L449.4 135.4L448.2 135.3L447.0 134.9L445.8 134.4L445.3 134.2L444.6 133.8L443.4 133.0L443.4 133.0L442.7 131.8L442.8 130.6L443.1 129.4L443.2 128.2L443.0 127.0L442.6 125.8L442.3 124.6L442.3 123.4L442.4 122.2L442.3 121.0L442.2 120.5L441.8 119.8L441.0 118.7L441.0 118.6L440.5 117.4L440.4 116.2L440.6 115.0L441.0 114.3L441.3 113.8L442.2 112.8L442.3 112.6L443.1 111.4L443.4 110.7L443.6 110.2L443.8 109.0L444.3 107.8L444.6 107.3L445.5 106.6L445.8 106.4L447.0 105.8L447.8 105.4L448.2 105.2L449.2 104.2L449.4 104.0L450.5 103.0L450.6 102.9L451.8 102.2L453.0 102.0L454.2 102.2L455.4 102.6L456.5 103.0L456.6 103.0L457.8 103.0L457.8 103.0L459.0 101.9L459.1 101.8L459.5 100.6L460.2 99.5L460.2 99.4L461.4 98.5L462.2 98.2L462.6 98.0L463.8 97.7L465.0 97.4L466.2 97.0L466.3 97.0L467.4 96.5L468.6 96.0L469.0 95.8L469.8 95.5L471.0 95.2L472.2 95.2L473.3 95.8L473.4 95.9L474.6 96.8L475.3 97.0L475.8 97.1L476.7 97.0L477.0 97.0L478.2 96.6L479.4 96.0L479.6 95.8L480.5 94.6L480.6 94.4L481.4 93.4L481.8 93.1L483.0 92.5L484.2 92.3L485.2 92.2L485.4 92.2L486.6 91.7L487.8 91.2L488.5 91.0L489.0 90.8L490.2 90.7L491.4 90.9L491.5 91.0L492.6 91.6L493.4 92.2L493.8 92.6L494.7 93.4L495.0 93.7L496.2 94.5L496.3 94.6L497.4 95.5L497.7 95.8L498.2 97.0L498.2 98.2L497.8 99.4L497.4 99.9L496.8 100.6L496.2 101.1L495.3 101.8L495.0 102.0L493.8 102.7L493.3 103.0L492.6 103.4L491.4 104.1L491.0 104.2L490.2 104.5L489.0 104.7L487.8 105.1L487.3 105.4L486.6 105.8L485.4 106.6L485.4 106.6L484.2 107.4L483.6 107.8L483.0 108.2L481.9 109.0L481.8 109.1L480.6 110.0L480.3 110.2L479.4 110.9L478.5 111.4L478.2 111.6L477.0 112.2L476.0 112.6L475.8 112.7L474.6 113.2L473.4 113.7L472.9 113.8L472.2 114.0L471.0 114.3L469.8 114.4L468.6 114.5L467.4 114.6L466.2 114.9L466.0 115.0L465.0 115.7L464.5 116.2L463.8 117.0L463.5 117.4L462.6 118.3L462.3 118.6L461.4 119.2L460.5 119.8L460.2 120.0L459.0 120.8L458.7 121.0L457.9 122.2L458.0 123.4L458.6 124.6L459.0 125.8L459.0 125.8L459.3 127.0L459.2 128.2L459.0 128.7L458.8 129.4L458.1 130.6L457.8 131.1L457.3 131.8L456.6 132.7L456.3 133.0L455.4 133.7L454.2 134.2L454.1 134.2L453.0 134.6L451.8 135.0L450.6 135.3L449.4 135.4L449.4 135.4Z" fill="none" stroke="#e58f8f" stroke-width="0.60"/><path d="M451.8 134.4L450.6 134.7L449.4 134.8L448.2 134.5L447.2 134.2L447.0 134.1L445.8 133.6L444.9 133.0L444.6 132.7L444.0 131.8L443.9 130.6L444.1 129.4L444.2 128.2L444.1 127.0L443.8 125.8L443.7 124.6L443.6 123.4L443.7 122.2L443.7 121.0L443.6 119.8L443.4 119.2L443.1 118.6L442.3 117.4L442.2 117.2L441.9 116.2L442.1 115.0L442.2 114.9L443.0 113.8L443.4 113.3L443.9 112.6L444.6 111.4L444.6 111.4L445.2 110.2L445.8 109.1L445.9 109.0L447.0 108.4L448.2 108.0L448.4 107.8L449.4 106.6L449.4 106.6L450.0 105.4L450.6 104.7L451.0 104.2L451.8 103.5L453.0 103.1L454.2 103.2L455.4 103.5L456.6 103.8L457.8 103.8L459.0 103.3L459.4 103.0L460.2 101.9L460.3 101.8L460.9 100.6L461.4 100.0L462.2 99.4L462.6 99.2L463.8 98.8L465.0 98.6L466.2 98.3L466.5 98.2L467.4 97.8L468.6 97.2L469.2 97.0L469.8 96.8L471.0 96.7L472.1 97.0L472.2 97.0L473.4 97.7L474.6 98.2L475.8 98.1L477.0 97.8L478.2 97.5L479.4 97.0L479.4 97.0L480.6 96.0L480.7 95.8L481.6 94.6L481.8 94.4L483.0 93.6L483.6 93.4L484.2 93.2L485.4 93.0L486.6 92.6L487.7 92.2L487.8 92.2L489.0 91.7L490.2 91.6L491.4 91.8L492.1 92.2L492.6 92.6L493.5 93.4L493.8 93.6L495.0 94.6L495.0 94.6L496.2 95.6L496.4 95.8L497.1 97.0L497.0 98.2L496.4 99.4L496.2 99.6L495.1 100.6L495.0 100.7L493.8 101.5L493.0 101.8L492.6 102.0L491.4 102.4L490.2 102.6L489.0 102.7L488.2 103.0L487.8 103.2L486.7 104.2L486.6 104.2L485.4 105.4L485.4 105.4L484.2 106.4L483.9 106.6L483.0 107.2L482.1 107.8L481.8 108.0L480.6 108.8L480.3 109.0L479.4 109.6L478.5 110.2L478.2 110.4L477.0 111.1L476.4 111.4L475.8 111.7L474.6 112.3L473.8 112.6L473.4 112.8L472.2 113.2L471.0 113.4L469.8 113.5L468.6 113.6L467.4 113.6L466.2 113.7L465.9 113.8L465.0 114.1L463.8 114.9L463.7 115.0L462.6 116.1L462.5 116.2L461.5 117.4L461.4 117.5L460.2 118.5L460.1 118.6L459.0 119.3L458.2 119.8L457.8 120.1L456.6 121.0L456.6 121.0L456.1 122.2L456.6 123.4L456.6 123.4L457.5 124.6L457.8 125.1L458.2 125.8L458.5 127.0L458.4 128.2L458.0 129.4L457.8 129.6L457.3 130.6L456.6 131.5L456.4 131.8L455.4 132.8L455.1 133.0L454.2 133.5L453.0 134.0L452.3 134.2L451.8 134.4Z" fill="none" stroke="#e08585" stroke-width="0.60"/><path d="M453.0 133.5L451.8 133.9L450.6 134.1L449.4 134.1L448.2 133.9L447.0 133.4L446.2 133.0L445.8 132.7L445.1 131.8L444.8 130.6L444.9 129.4L445.0 128.2L444.9 127.0L444.7 125.8L444.6 124.7L444.6 124.6L444.5 123.4L444.6 122.2L444.6 122.1L444.7 121.0L444.7 119.8L444.6 119.3L444.5 118.6L444.0 117.4L443.6 116.2L443.8 115.0L444.5 113.8L444.6 113.6L445.3 112.6L445.8 111.9L446.6 111.4L447.0 111.1L448.2 110.9L449.3 110.2L449.4 110.1L449.7 109.0L450.1 107.8L450.6 106.7L450.6 106.6L451.3 105.4L451.8 104.8L452.8 104.2L453.0 104.1L454.2 104.0L454.9 104.2L455.4 104.3L456.6 104.5L457.8 104.5L458.7 104.2L459.0 104.1L460.2 103.2L460.5 103.0L461.3 101.8L461.4 101.7L462.3 100.6L462.6 100.4L463.8 99.8L465.0 99.6L466.1 99.4L466.2 99.4L467.4 99.0L468.6 98.4L469.2 98.2L469.8 98.0L471.0 97.9L471.7 98.2L472.2 98.4L473.4 98.9L474.6 99.1L475.8 98.9L477.0 98.6L478.2 98.2L478.2 98.2L479.4 97.8L480.6 97.1L480.7 97.0L481.7 95.8L481.8 95.6L482.8 94.6L483.0 94.5L484.2 94.0L485.4 93.7L486.5 93.4L486.6 93.4L487.8 92.9L489.0 92.5L490.2 92.4L491.4 92.7L492.5 93.4L492.6 93.5L493.8 94.6L493.8 94.6L495.0 95.6L495.2 95.8L495.9 97.0L495.9 98.2L495.1 99.4L495.0 99.5L493.8 100.4L493.3 100.6L492.6 100.9L491.4 101.2L490.2 101.3L489.0 101.3L487.8 101.7L487.6 101.8L486.6 102.7L486.4 103.0L485.4 104.2L485.4 104.2L484.2 105.4L484.2 105.4L483.0 106.4L482.7 106.6L481.8 107.2L480.6 107.8L480.6 107.8L479.4 108.5L478.5 109.0L478.2 109.2L477.0 109.9L476.6 110.2L475.8 110.6L474.6 111.3L474.4 111.4L473.4 111.9L472.2 112.4L471.3 112.6L471.0 112.7L469.8 112.8L468.6 112.8L467.4 112.7L466.2 112.7L465.0 112.9L463.8 113.4L462.9 113.8L462.6 114.0L461.5 115.0L461.4 115.1L460.6 116.2L460.2 116.7L459.6 117.4L459.0 117.9L457.9 118.6L457.8 118.7L456.6 119.1L455.4 118.8L455.3 118.6L454.8 117.4L454.2 116.5L453.8 116.2L453.0 115.8L451.8 115.9L451.6 116.2L451.0 117.4L451.0 118.6L451.8 119.7L452.0 119.8L453.0 120.4L453.9 121.0L454.2 121.5L454.5 122.2L455.2 123.4L455.4 123.6L456.5 124.6L456.6 124.7L457.4 125.8L457.8 127.0L457.8 127.0L457.8 127.1L457.7 128.2L457.3 129.4L456.6 130.5L456.5 130.6L455.5 131.8L455.4 131.9L454.2 132.9L454.0 133.0L453.0 133.5Z" fill="none" stroke="#dc7a7a" stroke-width="0.60"/><path d="M451.8 133.4L450.6 133.6L449.4 133.6L448.2 133.3L447.6 133.0L447.0 132.6L446.0 131.8L445.8 131.3L445.6 130.6L445.6 129.4L445.6 128.2L445.5 127.0L445.4 125.8L445.2 124.6L445.2 123.4L445.3 122.2L445.4 121.0L445.6 119.8L445.5 118.6L445.3 117.4L445.1 116.2L445.2 115.0L445.8 113.8L445.8 113.8L447.0 112.8L447.9 112.6L448.2 112.5L449.4 112.5L450.3 111.4L450.5 110.2L450.6 109.8L450.7 109.0L451.0 107.8L451.5 106.6L451.8 106.2L452.5 105.4L453.0 105.1L454.2 104.8L455.4 104.9L456.6 105.0L457.8 105.0L459.0 104.6L459.9 104.2L460.2 104.0L461.4 103.0L461.4 103.0L462.4 101.8L462.6 101.6L463.8 100.8L464.4 100.6L465.0 100.4L466.2 100.2L467.4 100.0L468.6 99.6L469.1 99.4L469.8 99.2L471.0 99.1L471.7 99.4L472.2 99.5L473.4 99.8L474.6 99.8L475.8 99.6L476.5 99.4L477.0 99.2L478.2 98.9L479.4 98.6L480.5 98.2L480.6 98.2L481.8 97.2L481.9 97.0L482.7 95.8L483.0 95.5L484.2 94.8L484.7 94.6L485.4 94.4L486.6 94.0L487.8 93.6L488.5 93.4L489.0 93.2L490.2 93.1L491.0 93.4L491.4 93.5L492.6 94.5L492.8 94.6L493.8 95.6L494.0 95.8L494.8 97.0L494.7 98.2L493.8 99.3L493.7 99.4L492.6 100.0L491.4 100.3L490.2 100.3L489.0 100.4L487.8 100.6L487.7 100.6L486.6 101.3L486.1 101.8L485.4 102.8L485.3 103.0L484.4 104.2L484.2 104.4L483.2 105.4L483.0 105.6L481.8 106.4L481.3 106.6L480.6 107.0L479.4 107.5L478.7 107.8L478.2 108.0L477.0 108.6L476.3 109.0L475.8 109.3L474.6 110.1L474.5 110.2L473.4 110.9L472.5 111.4L472.2 111.5L471.0 111.9L469.8 112.1L468.6 112.1L467.4 112.0L466.2 111.8L465.0 111.9L463.8 112.2L462.8 112.6L462.6 112.7L461.4 113.3L460.6 113.8L460.2 114.2L459.6 115.0L459.0 115.8L458.5 116.2L457.8 116.8L456.6 116.9L455.8 116.2L455.4 116.0L454.2 115.2L453.9 115.0L453.0 114.6L451.8 114.4L451.0 115.0L450.6 115.5L450.4 116.2L450.0 117.4L450.0 118.6L450.6 119.5L450.8 119.8L451.8 120.6L452.3 121.0L453.0 121.8L453.3 122.2L454.1 123.4L454.2 123.5L455.4 124.6L455.4 124.6L456.6 125.7L456.7 125.8L457.2 127.0L457.2 128.2L456.7 129.4L456.6 129.5L455.9 130.6L455.4 131.2L454.8 131.8L454.2 132.3L453.0 132.9L452.9 133.0L451.8 133.4Z" fill="none" stroke="#d77070" stroke-width="0.60"/><path d="M457.8 114.5L456.6 114.9L455.4 114.6L454.2 114.2L453.4 113.8L453.0 113.6L451.8 112.6L451.8 112.6L451.4 111.4L451.3 110.2L451.4 109.0L451.7 107.8L451.8 107.6L452.4 106.6L453.0 106.0L454.2 105.5L455.4 105.5L456.6 105.6L457.8 105.5L458.2 105.4L459.0 105.2L460.2 104.6L460.8 104.2L461.4 103.7L462.3 103.0L462.6 102.6L463.6 101.8L463.8 101.7L465.0 101.2L466.2 101.0L467.4 100.8L468.6 100.6L468.9 100.6L469.8 100.4L471.0 100.4L472.0 100.6L472.2 100.6L473.4 100.7L474.4 100.6L474.6 100.6L475.8 100.3L477.0 99.9L478.2 99.6L478.9 99.4L479.4 99.3L480.6 99.2L481.8 99.0L482.9 98.2L483.0 98.0L483.2 97.0L484.0 95.8L484.2 95.7L485.4 95.2L486.6 94.7L486.8 94.6L487.8 94.3L489.0 93.9L490.2 93.9L491.4 94.4L491.6 94.6L492.6 95.5L492.9 95.8L493.7 97.0L493.5 98.2L492.6 99.0L491.7 99.4L491.4 99.5L490.2 99.6L489.0 99.6L487.8 99.7L486.6 100.0L485.5 100.6L485.4 100.7L484.9 101.8L484.4 103.0L484.2 103.2L483.5 104.2L483.0 104.7L482.1 105.4L481.8 105.6L480.6 106.2L479.5 106.6L479.4 106.7L478.2 107.0L477.0 107.3L475.8 107.7L475.6 107.8L474.6 108.4L474.1 109.0L473.4 109.6L472.8 110.2L472.2 110.6L471.0 111.2L470.0 111.4L469.8 111.4L468.6 111.4L468.4 111.4L467.4 111.2L466.2 111.0L465.0 111.0L463.8 111.3L463.4 111.4L462.6 111.7L461.4 112.1L460.2 112.6L460.1 112.6L459.0 113.5L458.6 113.8L457.8 114.5ZM450.6 133.1L449.5 133.0L449.4 133.0L448.2 132.5L447.0 131.8L447.0 131.8L446.4 130.6L446.3 129.4L446.2 128.2L446.1 127.0L446.0 125.8L445.8 124.6L445.8 123.4L446.0 122.2L446.3 121.0L446.7 119.8L446.8 118.6L446.5 117.4L446.3 116.2L446.6 115.0L447.0 114.4L448.2 113.9L449.4 114.8L449.5 115.0L449.4 116.2L449.4 116.2L449.0 117.4L448.9 118.6L449.4 119.2L449.8 119.8L450.6 120.4L451.3 121.0L451.8 121.5L452.5 122.2L453.0 123.0L453.3 123.4L454.2 124.4L454.4 124.6L455.4 125.4L455.9 125.8L456.6 127.0L456.6 127.0L456.6 128.2L456.6 128.2L456.1 129.4L455.4 130.4L455.2 130.6L454.2 131.7L454.0 131.8L453.0 132.4L451.8 132.9L451.1 133.0L450.6 133.1Z" fill="none" stroke="#d26666" stroke-width="0.60"/><path d="M491.4 98.6L490.2 98.8L489.0 98.9L487.8 98.9L486.6 98.8L485.4 98.5L485.1 98.2L484.7 97.0L485.4 96.2L485.8 95.8L486.6 95.5L487.8 95.0L489.0 94.7L490.2 94.8L491.4 95.5L491.7 95.8L492.5 97.0L492.1 98.2L491.4 98.6ZM457.8 112.7L456.6 113.4L455.4 113.5L454.2 113.2L453.1 112.6L453.0 112.5L452.3 111.4L452.0 110.2L452.0 109.0L452.4 107.8L453.0 106.9L453.4 106.6L454.2 106.2L455.4 106.1L456.6 106.1L457.8 106.0L459.0 105.7L459.6 105.4L460.2 105.1L461.4 104.4L461.8 104.2L462.6 103.5L463.3 103.0L463.8 102.5L465.0 101.9L465.6 101.8L466.2 101.7L467.4 101.6L468.6 101.6L469.8 101.7L470.9 101.8L471.0 101.8L471.2 101.8L472.2 101.8L473.4 101.6L474.6 101.4L475.8 101.1L477.0 100.7L477.2 100.6L478.2 100.3L479.4 100.1L480.6 100.1L481.8 100.4L482.4 100.6L483.0 101.0L483.6 101.8L483.4 103.0L483.0 103.6L482.5 104.2L481.8 104.8L480.7 105.4L480.6 105.5L479.4 105.8L478.2 106.1L477.0 106.2L475.8 106.3L474.6 106.6L474.6 106.6L473.4 107.8L473.4 107.8L472.7 109.0L472.2 109.5L471.3 110.2L471.0 110.4L469.8 110.8L468.6 110.8L467.4 110.5L466.2 110.2L466.2 110.2L465.0 110.1L464.6 110.2L463.8 110.4L462.6 110.9L461.4 111.2L460.7 111.4L460.2 111.6L459.0 112.0L457.9 112.6L457.8 112.7ZM453.0 131.9L451.8 132.4L450.6 132.5L449.4 132.3L448.2 131.8L448.2 131.8L447.2 130.6L447.0 129.6L447.0 129.4L446.9 128.2L446.7 127.0L446.5 125.8L446.4 124.6L446.4 123.4L446.7 122.2L447.0 121.3L447.2 121.0L448.2 120.1L449.4 120.4L450.2 121.0L450.6 121.2L451.7 122.2L451.8 122.4L452.5 123.4L453.0 124.1L453.4 124.6L454.2 125.2L455.0 125.8L455.4 126.2L456.0 127.0L456.0 128.2L455.5 129.4L455.4 129.6L454.6 130.6L454.2 131.0L453.2 131.8L453.0 131.9Z" fill="none" stroke="#ce5b5b" stroke-width="0.60"/><path d="M490.2 97.7L489.0 97.9L487.8 97.8L486.6 97.1L486.6 97.0L486.6 96.9L487.8 95.9L488.0 95.8L489.0 95.6L489.9 95.8L490.2 95.9L491.0 97.0L490.2 97.7ZM456.6 112.0L455.4 112.4L454.2 112.2L453.2 111.4L453.0 111.1L452.7 110.2L452.7 109.0L453.0 108.0L453.1 107.8L454.2 106.9L455.4 106.6L456.6 106.7L457.0 106.6L457.8 106.5L459.0 106.2L460.2 105.6L460.7 105.4L461.4 105.0L462.6 104.4L462.8 104.2L463.8 103.5L464.5 103.0L465.0 102.7L466.2 102.4L467.4 102.4L468.6 102.5L469.8 102.9L470.3 103.0L471.0 103.2L472.2 103.3L472.9 103.0L473.4 102.9L474.6 102.5L475.8 102.0L476.2 101.8L477.0 101.6L478.2 101.2L479.4 101.0L480.6 101.1L481.8 101.7L482.0 101.8L482.3 103.0L481.8 103.6L481.3 104.2L480.6 104.6L479.4 104.9L478.2 105.1L477.0 105.1L475.8 105.0L474.6 105.0L473.6 105.4L473.4 105.5L472.8 106.6L472.3 107.8L472.2 107.9L471.5 109.0L471.0 109.5L469.8 110.0L468.6 110.1L467.4 109.8L466.2 109.3L465.0 109.1L463.8 109.5L462.6 110.1L462.4 110.2L461.4 110.5L460.2 110.8L459.0 111.0L457.8 111.3L457.7 111.4L456.6 112.0ZM451.8 131.9L450.6 132.0L449.9 131.8L449.4 131.6L448.3 130.6L448.2 130.4L447.9 129.4L447.7 128.2L447.4 127.0L447.1 125.8L447.0 125.0L447.0 124.6L447.0 123.7L447.0 123.4L447.5 122.2L448.2 121.4L449.4 121.3L450.6 122.0L450.8 122.2L451.8 123.4L451.8 123.4L452.6 124.6L453.0 125.1L453.9 125.8L454.2 126.0L455.2 127.0L455.4 127.8L455.4 128.2L455.4 128.3L454.9 129.4L454.2 130.2L453.9 130.6L453.0 131.3L452.0 131.8L451.8 131.9Z" fill="none" stroke="#c95151" stroke-width="0.60"/><path d="M479.4 103.5L478.2 103.5L477.5 103.0L478.2 102.7L479.4 102.4L480.5 103.0L479.4 103.5ZM457.8 110.2L456.6 110.7L455.4 111.2L454.2 111.0L453.6 110.2L453.5 109.0L454.1 107.8L454.2 107.7L455.4 107.4L456.6 107.4L457.8 107.3L459.0 106.7L459.2 106.6L460.2 106.2L461.4 105.7L462.1 105.4L462.6 105.2L463.8 104.5L464.2 104.2L465.0 103.7L466.2 103.2L467.4 103.2L468.6 103.5L469.8 104.0L470.2 104.2L471.0 104.8L471.6 105.4L471.7 106.6L471.3 107.8L471.0 108.3L470.3 109.0L469.8 109.3L468.6 109.4L467.4 109.0L467.3 109.0L466.2 108.4L465.0 108.0L463.8 108.5L463.2 109.0L462.6 109.3L461.4 109.8L460.2 110.0L459.0 110.1L458.0 110.2L457.8 110.2ZM453.0 130.6L451.8 131.1L450.6 131.1L449.7 130.6L449.4 130.2L449.0 129.4L448.7 128.2L448.2 127.2L448.2 127.0L447.8 125.8L447.6 124.6L447.8 123.4L448.2 122.6L449.2 122.2L449.4 122.1L449.5 122.2L450.6 122.9L451.0 123.4L451.7 124.6L451.8 124.8L452.7 125.8L453.0 126.1L454.2 126.9L454.3 127.0L454.7 128.2L454.2 129.3L454.1 129.4L453.0 130.6L453.0 130.6Z" fill="none" stroke="#c54646" stroke-width="0.60"/><path d="M469.8 108.2L468.6 108.5L467.4 108.0L467.1 107.8L466.2 107.0L465.4 106.6L465.0 105.4L465.0 105.4L465.0 105.4L466.2 104.4L467.4 104.2L468.6 104.6L469.8 105.3L470.0 105.4L470.6 106.6L470.2 107.8L469.8 108.2ZM461.4 109.1L460.2 109.2L459.0 109.0L458.8 109.0L458.6 107.8L459.0 107.6L460.2 106.9L460.8 106.6L461.4 106.4L462.6 106.3L463.7 106.6L463.2 107.8L462.6 108.3L461.6 109.0L461.4 109.1ZM455.4 109.3L455.1 109.0L455.4 108.8L456.3 109.0L455.4 109.3ZM451.8 129.9L450.8 129.4L450.6 128.9L450.4 128.2L449.7 127.0L449.4 126.8L448.9 125.8L448.6 124.6L449.2 123.4L449.4 123.3L449.6 123.4L450.6 124.4L450.7 124.6L451.1 125.8L451.8 126.8L452.2 127.0L453.0 127.5L453.4 128.2L453.0 129.4L453.0 129.4L451.8 129.9Z" fill="none" stroke="#c03c3c" stroke-width="0.60"/></g>
<g opacity="0.90"><path d="M492.6 111.7L491.4 112.0L490.2 112.0L489.0 111.9L487.8 111.7L487.1 111.4L486.6 111.2L485.4 110.5L485.0 110.2L484.2 109.3L484.0 109.0L483.3 107.8L483.0 107.2L482.5 106.6L481.8 105.7L480.6 105.7L479.4 106.3L478.8 106.6L478.2 107.0L477.0 107.7L476.7 107.8L475.8 108.4L474.6 108.9L474.3 109.0L473.4 109.4L472.2 109.7L471.0 109.9L469.8 110.0L468.6 110.1L467.4 110.1L466.2 110.1L465.0 110.1L463.8 109.9L462.6 109.4L462.0 109.0L461.4 107.9L461.3 107.8L461.3 106.6L461.4 106.5L461.8 105.4L462.6 104.3L462.7 104.2L463.8 103.1L463.9 103.0L465.0 102.2L465.6 101.8L466.2 101.4L467.4 100.8L468.0 100.6L468.6 100.3L469.8 100.0L471.0 99.9L472.2 99.9L473.4 99.9L474.6 99.6L475.1 99.4L475.8 99.1L477.0 98.6L478.2 98.5L479.4 98.6L480.6 99.0L481.4 99.4L481.8 99.7L483.0 100.4L484.2 100.5L485.4 100.2L486.6 99.8L487.8 99.6L489.0 99.4L489.3 99.4L490.2 99.3L491.0 99.4L491.4 99.4L492.6 99.7L493.8 100.3L494.3 100.6L495.0 101.0L495.9 101.8L496.2 102.1L496.9 103.0L497.4 104.1L497.5 104.2L497.8 105.4L497.8 106.6L497.4 107.8L497.4 107.8L496.6 109.0L496.2 109.5L495.5 110.2L495.0 110.6L493.8 111.3L493.4 111.4L492.6 111.7ZM451.8 131.0L450.6 131.4L449.4 131.5L448.2 131.4L447.0 131.0L446.2 130.6L445.8 130.5L444.6 129.9L444.0 129.4L443.4 128.7L443.0 128.2L442.7 127.0L443.0 125.8L443.4 125.0L443.6 124.6L444.4 123.4L444.6 123.2L445.4 122.2L445.8 121.7L446.4 121.0L447.0 120.1L447.2 119.8L447.8 118.6L448.2 118.1L448.6 117.4L449.4 116.6L449.9 116.2L450.6 115.7L451.8 115.1L452.0 115.0L453.0 114.6L454.2 114.3L455.4 114.2L456.6 114.3L457.8 114.9L458.0 115.0L459.0 116.0L459.1 116.2L459.7 117.4L459.9 118.6L460.0 119.8L459.8 121.0L459.6 122.2L459.2 123.4L459.0 123.8L458.7 124.6L458.0 125.8L457.8 126.1L457.2 127.0L456.6 127.6L456.0 128.2L455.4 128.7L454.5 129.4L454.2 129.6L453.0 130.4L452.6 130.6L451.8 131.0Z" fill="none" stroke="#9a9ad8" stroke-width="0.60"/><path d="M473.4 108.0L472.2 108.4L471.0 108.5L469.8 108.6L468.6 108.5L467.4 108.4L466.2 108.2L465.0 107.9L464.8 107.8L463.9 106.6L464.2 105.4L465.0 104.3L465.1 104.2L466.2 103.2L466.5 103.0L467.4 102.4L468.6 101.8L468.6 101.8L469.8 101.4L471.0 101.3L472.2 101.3L473.4 101.4L474.6 101.3L475.8 101.1L477.0 100.8L478.2 100.8L479.4 101.6L479.5 101.8L479.6 103.0L479.4 103.3L478.9 104.2L478.2 104.8L477.6 105.4L477.0 105.8L476.0 106.6L475.8 106.7L474.6 107.4L473.8 107.8L473.4 108.0ZM492.6 110.2L491.4 110.6L490.2 110.7L489.0 110.6L487.8 110.3L487.7 110.2L486.6 109.6L485.9 109.0L485.4 108.2L485.2 107.8L484.7 106.6L484.5 105.4L484.7 104.2L485.4 103.1L485.5 103.0L486.6 102.2L487.6 101.8L487.8 101.7L489.0 101.5L490.2 101.5L491.4 101.5L492.4 101.8L492.6 101.8L493.8 102.4L494.7 103.0L495.0 103.4L495.6 104.2L495.9 105.4L495.8 106.6L495.3 107.8L495.0 108.2L494.3 109.0L493.8 109.5L492.6 110.2L492.6 110.2ZM451.8 129.7L450.6 130.1L449.4 130.3L448.2 130.2L447.0 129.8L446.3 129.4L445.8 129.1L444.7 128.2L444.6 128.0L444.2 127.0L444.3 125.8L444.6 125.3L444.9 124.6L445.8 123.5L445.9 123.4L447.0 122.3L447.1 122.2L448.1 121.0L448.2 120.9L449.0 119.8L449.4 119.1L449.8 118.6L450.6 117.7L450.9 117.4L451.8 116.8L453.0 116.3L453.6 116.2L454.2 116.1L455.4 116.1L455.7 116.2L456.6 116.5L457.6 117.4L457.8 117.6L458.3 118.6L458.4 119.8L458.3 121.0L458.0 122.2L457.8 122.7L457.5 123.4L457.0 124.6L456.6 125.2L456.2 125.8L455.4 126.7L455.2 127.0L454.2 127.9L453.9 128.2L453.0 128.9L452.2 129.4L451.8 129.7Z" fill="none" stroke="#8685c9" stroke-width="0.60"/><path d="M473.4 106.8L472.2 107.2L471.0 107.4L469.8 107.4L468.6 107.2L467.4 106.7L467.1 106.6L466.5 105.4L467.1 104.2L467.4 104.0L468.6 103.0L468.6 103.0L469.8 102.5L471.0 102.3L472.2 102.4L473.4 102.5L474.6 102.7L475.8 103.0L475.8 103.0L476.3 104.2L475.8 104.9L475.5 105.4L474.6 106.1L473.9 106.6L473.4 106.8ZM491.4 109.5L490.2 109.7L489.0 109.6L487.8 109.1L487.6 109.0L486.6 107.9L486.5 107.8L486.1 106.6L486.2 105.4L486.6 104.4L486.8 104.2L487.8 103.5L489.0 103.2L490.2 103.1L491.4 103.2L492.6 103.5L493.7 104.2L493.8 104.3L494.3 105.4L494.1 106.6L493.8 107.2L493.5 107.8L492.6 108.8L492.3 109.0L491.4 109.5ZM449.4 129.4L449.2 129.4L448.2 129.3L447.0 128.9L446.0 128.2L445.8 127.9L445.2 127.0L445.3 125.8L445.8 124.9L446.0 124.6L447.0 123.5L447.1 123.4L448.2 122.3L448.4 122.2L449.4 121.1L449.5 121.0L450.4 119.8L450.6 119.6L451.5 118.6L451.8 118.3L453.0 117.7L454.2 117.4L455.4 117.6L456.6 118.4L456.8 118.6L457.2 119.8L457.1 121.0L456.8 122.2L456.6 122.6L456.2 123.4L455.6 124.6L455.4 124.8L454.8 125.8L454.2 126.5L453.8 127.0L453.0 127.7L452.5 128.2L451.8 128.7L450.6 129.2L449.5 129.4L449.4 129.4Z" fill="none" stroke="#7170ba" stroke-width="0.60"/><path d="M473.4 105.4L472.2 106.0L471.0 106.2L469.8 106.0L468.9 105.4L469.2 104.2L469.8 103.8L471.0 103.5L472.2 103.5L473.4 104.0L473.8 104.2L473.5 105.4L473.4 105.4ZM491.4 108.2L490.2 108.6L489.0 108.4L488.0 107.8L487.8 107.5L487.5 106.6L487.8 105.5L487.8 105.4L489.0 104.7L490.2 104.6L491.4 104.8L492.3 105.4L492.5 106.6L491.8 107.8L491.4 108.2ZM450.6 128.5L449.4 128.7L448.2 128.6L447.3 128.2L447.0 128.0L446.2 127.0L446.2 125.8L446.9 124.6L447.0 124.5L448.2 123.4L448.2 123.4L449.4 122.4L449.7 122.2L450.6 121.4L451.0 121.0L451.8 120.0L452.0 119.8L453.0 119.1L454.2 118.7L455.4 119.3L455.8 119.8L455.9 121.0L455.5 122.2L455.4 122.5L454.9 123.4L454.2 124.6L454.2 124.7L453.5 125.8L453.0 126.5L452.6 127.0L451.8 127.7L451.1 128.2L450.6 128.5Z" fill="none" stroke="#5d5caa" stroke-width="0.60"/><path d="M450.6 127.6L449.4 128.0L448.2 127.8L447.1 127.0L447.0 125.8L447.9 124.6L448.2 124.3L449.4 123.5L449.7 123.4L450.6 122.9L451.8 122.3L452.1 122.2L453.0 121.6L453.3 122.2L453.2 123.4L453.0 124.0L452.9 124.6L452.4 125.8L451.8 126.6L451.5 127.0L450.6 127.6Z" fill="none" stroke="#48479b" stroke-width="0.60"/><path d="M449.4 127.2L448.5 127.0L448.2 126.6L448.0 125.8L448.2 125.6L449.3 124.6L449.4 124.6L450.6 124.4L450.9 124.6L451.1 125.8L450.6 126.5L450.0 127.0L449.4 127.2Z" fill="none" stroke="#34328c" stroke-width="0.60"/></g>
<g opacity="0.90"><path d="M451.8 108.5L450.6 108.8L449.4 108.8L448.2 108.2L447.7 107.8L447.0 106.6L447.0 106.6L446.7 105.4L447.0 104.2L447.0 104.2L447.7 103.0L448.2 102.6L449.4 102.0L450.6 102.0L451.8 102.3L452.7 103.0L453.0 103.4L453.5 104.2L453.7 105.4L453.5 106.6L453.0 107.4L452.7 107.8L451.8 108.5Z" fill="none" stroke="#a6d47e" stroke-width="0.60"/><path d="M451.8 107.0L450.6 107.6L449.4 107.5L448.3 106.6L448.2 106.3L447.9 105.4L448.2 104.5L448.3 104.2L449.4 103.3L450.6 103.2L451.8 103.8L452.1 104.2L452.5 105.4L452.1 106.6L451.8 107.0Z" fill="none" stroke="#4a7a2c" stroke-width="0.60"/></g>
<g opacity="0.90"><path d="M497.4 61.0L498.6 61.8L499.1 62.2L499.8 62.9L500.3 63.4L501.0 64.4L501.1 64.6L501.7 65.8L501.9 67.0L501.8 68.2L501.5 69.4L501.0 70.3L500.9 70.6L500.0 71.8L499.8 72.0L498.7 73.0L498.6 73.1L497.4 73.9L497.0 74.2L496.2 74.7L495.1 75.4L495.0 75.5L493.8 76.2L493.1 76.6L492.6 76.9L491.4 77.5L490.8 77.8L490.2 78.1L489.0 78.8L488.6 79.0L487.8 79.4L486.6 80.0L485.8 80.2L485.4 80.4L484.2 80.7L483.0 80.9L481.8 81.0L480.6 80.9L479.4 80.7L478.2 80.2L478.2 80.2L477.0 79.4L476.7 79.0L475.9 77.8L475.8 77.6L475.4 76.6L475.1 75.4L474.9 74.2L474.9 73.0L474.9 71.8L475.0 70.6L475.2 69.4L475.5 68.2L475.8 67.4L475.9 67.0L476.7 65.8L477.0 65.4L477.8 64.6L478.2 64.2L479.4 63.5L479.6 63.4L480.6 62.9L481.8 62.3L482.1 62.2L483.0 61.6L484.2 61.0L484.3 61.0" fill="none" stroke="#90c068" stroke-width="0.60"/><path d="M496.8 61.0L497.4 61.3L498.6 62.2L498.6 62.2L499.8 63.3L499.9 63.4L500.8 64.6L501.0 65.1L501.3 65.8L501.6 67.0L501.5 68.2L501.1 69.4L501.0 69.6L500.6 70.6L499.8 71.6L499.6 71.8L498.6 72.7L498.2 73.0L497.4 73.6L496.3 74.2L496.2 74.2L495.0 75.0L494.4 75.4L493.8 75.8L492.6 76.5L492.3 76.6L491.4 77.1L490.2 77.7L490.0 77.8L489.0 78.4L487.8 79.0L487.8 79.0L486.6 79.6L485.4 80.0L484.5 80.2L484.2 80.3L483.0 80.5L481.8 80.6L480.6 80.6L479.4 80.4L479.0 80.2L478.2 79.9L477.1 79.0L477.0 78.9L476.2 77.8L475.8 76.8L475.7 76.6L475.4 75.4L475.2 74.2L475.2 73.0L475.2 71.8L475.4 70.6L475.6 69.4L475.8 68.7L475.9 68.2L476.4 67.0L477.0 66.1L477.3 65.8L478.2 64.9L478.6 64.6L479.4 64.0L480.6 63.4L480.7 63.4L481.8 62.8L482.9 62.2L483.0 62.1L484.2 61.4L485.2 61.0" fill="none" stroke="#84b45e" stroke-width="0.60"/><path d="M495.3 61.0L496.2 61.4L497.4 62.1L497.5 62.2L498.6 63.0L499.0 63.4L499.8 64.3L500.0 64.6L500.6 65.8L500.9 67.0L500.8 68.2L500.5 69.4L499.8 70.5L499.8 70.6L498.7 71.8L498.6 71.9L497.4 72.7L496.8 73.0L496.2 73.4L495.0 74.0L494.7 74.2L493.8 74.8L492.9 75.4L492.6 75.6L491.4 76.3L490.8 76.6L490.2 76.9L489.0 77.6L488.6 77.8L487.8 78.3L486.6 78.8L486.1 79.0L485.4 79.3L484.2 79.6L483.0 79.8L481.8 80.0L480.6 79.9L479.4 79.7L478.2 79.2L478.0 79.0L477.0 77.9L476.9 77.8L476.3 76.6L476.0 75.4L475.9 74.2L475.9 73.0L476.0 71.8L476.2 70.6L476.4 69.4L476.9 68.2L477.0 68.0L477.5 67.0L478.2 66.2L478.6 65.8L479.4 65.1L480.3 64.6L480.6 64.4L481.8 63.7L482.3 63.4L483.0 62.9L484.2 62.3L484.3 62.2L485.4 61.7L486.6 61.4L487.8 61.3L489.0 61.2L490.2 61.1L490.6 61.0" fill="none" stroke="#79a755" stroke-width="0.60"/><path d="M481.8 79.1L480.6 79.1L480.0 79.0L479.4 78.9L478.2 78.2L477.8 77.8L477.1 76.6L477.0 76.1L476.8 75.4L476.7 74.2L476.7 73.0L476.9 71.8L477.0 71.5L477.2 70.6L477.5 69.4L478.0 68.2L478.2 67.9L478.9 67.0L479.4 66.5L480.2 65.8L480.6 65.6L481.8 64.8L482.0 64.6L483.0 63.9L483.9 63.4L484.2 63.2L485.4 62.6L486.6 62.3L487.5 62.2L487.8 62.2L489.0 62.0L490.2 61.9L491.4 61.6L492.6 61.4L493.8 61.4L495.0 61.7L496.0 62.2L496.2 62.3L497.4 63.0L497.9 63.4L498.6 64.1L499.1 64.6L499.8 65.8L499.8 65.9L500.1 67.0L500.0 68.2L499.8 68.9L499.6 69.4L498.8 70.6L498.6 70.8L497.4 71.7L497.3 71.8L496.2 72.4L495.0 72.9L494.7 73.0L493.8 73.5L492.9 74.2L492.6 74.4L491.4 75.2L491.1 75.4L490.2 75.9L489.0 76.6L489.0 76.6L487.8 77.3L486.8 77.8L486.6 77.9L485.4 78.4L484.2 78.7L483.0 79.0L482.7 79.0L481.8 79.1Z" fill="none" stroke="#6d9b4b" stroke-width="0.60"/><path d="M483.0 78.0L481.8 78.2L480.6 78.2L479.4 77.9L479.3 77.8L478.2 76.7L478.1 76.6L477.7 75.4L477.6 74.2L477.7 73.0L477.9 71.8L478.2 70.8L478.2 70.6L478.6 69.4L479.3 68.2L479.4 68.1L480.4 67.0L480.6 66.8L481.8 65.9L481.9 65.8L483.0 65.0L483.6 64.6L484.2 64.2L485.4 63.6L486.0 63.4L486.6 63.2L487.8 63.0L489.0 62.9L490.2 62.7L491.4 62.5L492.6 62.3L493.8 62.4L495.0 62.7L496.2 63.3L496.4 63.4L497.4 64.1L498.0 64.6L498.6 65.4L498.9 65.8L499.3 67.0L499.2 68.2L498.7 69.4L498.6 69.5L497.6 70.6L497.4 70.7L496.2 71.4L495.0 71.7L494.7 71.8L493.8 72.1L492.6 72.9L492.5 73.0L491.4 73.9L491.1 74.2L490.2 74.8L489.2 75.4L489.0 75.5L487.8 76.2L487.1 76.6L486.6 76.9L485.4 77.4L484.2 77.8L484.0 77.8L483.0 78.0Z" fill="none" stroke="#618f41" stroke-width="0.60"/><path d="M484.2 76.6L483.0 76.9L481.8 77.0L480.6 77.0L479.8 76.6L479.4 76.3L478.9 75.4L478.8 74.2L478.9 73.0L479.1 71.8L479.4 70.8L479.5 70.6L480.0 69.4L480.6 68.5L480.8 68.2L481.8 67.2L482.0 67.0L483.0 66.2L483.4 65.8L484.2 65.2L485.3 64.6L485.4 64.5L486.6 64.1L487.8 63.9L489.0 63.7L490.2 63.6L491.4 63.5L492.2 63.4L492.6 63.4L493.7 63.4L493.8 63.4L495.0 63.8L496.2 64.4L496.5 64.6L497.4 65.3L497.8 65.8L498.3 67.0L498.2 68.2L497.6 69.4L497.4 69.6L496.2 70.3L495.0 70.6L494.9 70.6L493.8 70.7L492.6 71.2L491.9 71.8L491.4 72.3L490.7 73.0L490.2 73.4L489.1 74.2L489.0 74.3L487.8 75.0L487.1 75.4L486.6 75.7L485.4 76.2L484.2 76.6L484.2 76.6Z" fill="none" stroke="#558337" stroke-width="0.60"/><path d="M485.4 74.6L484.2 74.9L483.0 75.0L481.8 74.8L481.0 74.2L480.8 73.0L480.9 71.8L481.2 70.6L481.7 69.4L481.8 69.3L482.5 68.2L483.0 67.7L483.6 67.0L484.2 66.5L485.1 65.8L485.4 65.6L486.6 65.1L487.8 64.8L489.0 64.7L490.2 64.7L491.4 64.7L492.6 64.7L493.8 64.9L495.0 65.2L496.2 65.8L496.2 65.8L497.0 67.0L496.9 68.2L496.2 68.9L495.0 69.2L493.8 69.1L492.6 69.1L492.2 69.4L491.4 70.0L490.9 70.6L490.2 71.5L489.9 71.8L489.0 72.6L488.5 73.0L487.8 73.4L486.6 74.1L486.3 74.2L485.4 74.6Z" fill="none" stroke="#4a762e" stroke-width="0.60"/><path d="M487.8 71.0L486.6 71.2L485.4 71.1L484.7 70.6L484.2 69.7L484.1 69.4L484.2 69.1L484.4 68.2L485.4 67.0L485.4 67.0L486.6 66.3L487.8 65.9L489.0 65.9L490.2 66.5L490.7 67.0L490.4 68.2L490.2 68.5L489.6 69.4L489.0 70.2L488.4 70.6L487.8 71.0Z" fill="none" stroke="#3e6a24" stroke-width="0.60"/></g>
<g opacity="0.90"><path d="M493.8 90.2L492.6 90.3L491.4 90.2L490.2 89.9L490.0 89.8L489.0 89.5L487.8 89.0L487.2 88.6L486.6 88.3L485.5 87.4L485.4 87.3L484.4 86.2L484.2 85.8L483.7 85.0L483.2 83.8L483.0 83.1L482.8 82.6L482.4 81.4L482.3 80.2L482.3 79.0L482.5 77.8L483.0 76.7L483.0 76.6L484.1 75.4L484.2 75.3L485.4 74.7L486.6 74.5L487.8 74.6L489.0 75.1L489.5 75.4L490.2 75.9L491.1 76.6L491.4 76.9L492.4 77.8L492.6 77.9L493.8 78.8L494.1 79.0L495.0 79.7L495.5 80.2L496.2 81.2L496.4 81.4L497.1 82.6L497.4 83.3L497.7 83.8L498.1 85.0L498.1 86.2L497.7 87.4L497.4 87.9L496.8 88.6L496.2 89.2L495.0 89.8L494.9 89.8L493.8 90.2Z" fill="none" stroke="#b8b8b8" stroke-width="0.60"/><path d="M495.0 89.1L493.8 89.5L492.6 89.7L491.4 89.6L490.2 89.4L489.0 89.0L488.3 88.6L487.8 88.4L486.6 87.7L486.2 87.4L485.4 86.6L485.0 86.2L484.3 85.0L484.2 84.8L483.7 83.8L483.3 82.6L483.0 81.4L483.0 81.4L482.8 80.2L482.8 79.0L483.0 78.0L483.0 77.8L483.6 76.6L484.2 75.9L485.0 75.4L485.4 75.2L486.6 75.0L487.8 75.1L488.4 75.4L489.0 75.6L490.2 76.5L490.3 76.6L491.4 77.5L491.7 77.8L492.6 78.5L493.2 79.0L493.8 79.4L494.7 80.2L495.0 80.6L495.7 81.4L496.2 82.4L496.3 82.6L496.9 83.8L497.3 85.0L497.4 86.2L497.0 87.4L496.2 88.3L495.9 88.6L495.0 89.1Z" fill="none" stroke="#aaaaaa" stroke-width="0.60"/><path d="M492.6 88.8L491.4 88.8L490.5 88.6L490.2 88.6L489.0 88.2L487.8 87.6L487.5 87.4L486.6 86.8L486.0 86.2L485.4 85.5L485.1 85.0L484.5 83.8L484.2 83.1L484.0 82.6L483.6 81.4L483.4 80.2L483.4 79.0L483.7 77.8L484.2 77.0L484.6 76.6L485.4 76.0L486.6 75.7L487.8 75.9L489.0 76.4L489.2 76.6L490.2 77.3L490.7 77.8L491.4 78.4L492.1 79.0L492.6 79.4L493.5 80.2L493.8 80.5L494.7 81.4L495.0 82.0L495.4 82.6L495.9 83.8L496.2 84.9L496.2 85.0L496.3 86.2L496.2 86.4L495.7 87.4L495.0 88.0L493.8 88.6L493.7 88.6L492.6 88.8Z" fill="none" stroke="#9b9b9b" stroke-width="0.60"/><path d="M493.8 87.5L492.6 87.9L491.4 88.0L490.2 87.8L489.1 87.4L489.0 87.4L487.8 86.8L487.0 86.2L486.6 85.8L485.9 85.0L485.4 84.1L485.2 83.8L484.7 82.6L484.3 81.4L484.2 80.6L484.1 80.2L484.2 79.0L484.2 78.9L484.6 77.8L485.4 76.9L486.3 76.6L486.6 76.5L487.4 76.6L487.8 76.6L489.0 77.2L489.7 77.8L490.2 78.2L491.1 79.0L491.4 79.3L492.4 80.2L492.6 80.3L493.7 81.4L493.8 81.6L494.4 82.6L494.9 83.8L495.0 84.6L495.1 85.0L495.0 86.1L495.0 86.2L493.9 87.4L493.8 87.5Z" fill="none" stroke="#8d8d8d" stroke-width="0.60"/><path d="M492.6 86.9L491.4 87.2L490.2 87.1L489.0 86.7L488.2 86.2L487.8 85.9L486.8 85.0L486.6 84.7L486.0 83.8L485.5 82.6L485.4 82.4L485.0 81.4L484.8 80.2L484.9 79.0L485.4 78.0L485.7 77.8L486.6 77.3L487.8 77.4L488.6 77.8L489.0 78.0L490.1 79.0L490.2 79.1L491.4 80.2L491.5 80.2L492.6 81.2L492.8 81.4L493.6 82.6L493.8 83.3L494.0 83.8L494.1 85.0L493.8 85.9L493.6 86.2L492.6 86.9Z" fill="none" stroke="#7e7e7e" stroke-width="0.60"/><path d="M491.4 86.4L490.2 86.3L489.8 86.2L489.0 85.9L487.8 85.0L487.8 85.0L486.9 83.8L486.6 83.3L486.2 82.6L485.8 81.4L485.6 80.2L485.9 79.0L486.6 78.3L487.8 78.2L489.0 78.9L489.1 79.0L490.2 79.9L490.5 80.2L491.4 81.0L491.9 81.4L492.6 82.3L492.8 82.6L493.2 83.8L493.2 85.0L492.6 85.8L492.0 86.2L491.4 86.4Z" fill="none" stroke="#707070" stroke-width="0.60"/></g>
<g opacity="0.90"><path d="M503.4 79.1L502.2 79.1L501.7 79.0L501.0 78.9L499.8 78.7L498.6 78.2L498.0 77.8L497.4 77.4L496.3 76.6L496.2 76.5L495.1 75.4L495.0 75.2L494.3 74.2L493.9 73.0L493.8 72.0L493.8 71.8L493.8 71.0L493.8 70.6L494.0 69.4L494.4 68.2L495.0 67.3L495.2 67.0L496.2 65.9L496.3 65.8L497.4 64.9L498.0 64.6L498.6 64.3L499.8 63.8L501.0 63.5L501.9 63.4L502.2 63.4L503.4 63.4L503.7 63.4L504.6 63.5L505.8 63.7L507.0 64.2L507.7 64.6L508.2 64.8L509.4 65.6L509.6 65.8L510.6 66.9L510.7 67.0L511.4 68.2L511.8 69.4L511.8 69.6L512.0 70.6L512.1 71.8L511.8 73.0L511.8 73.1L511.5 74.2L510.8 75.4L510.6 75.6L509.7 76.6L509.4 76.9L508.2 77.7L508.0 77.8L507.0 78.3L505.8 78.7L504.6 78.9L503.8 79.0L503.4 79.1Z" fill="none" stroke="#d8c0a0" stroke-width="0.60"/><path d="M505.8 77.9L504.6 78.2L503.4 78.4L502.2 78.4L501.0 78.2L499.8 77.8L499.8 77.8L498.6 77.3L497.6 76.6L497.4 76.5L496.2 75.4L496.2 75.4L495.3 74.2L495.0 73.4L494.8 73.0L494.6 71.8L494.6 70.6L494.9 69.4L495.0 69.2L495.4 68.2L496.2 67.1L496.2 67.0L497.4 65.9L497.6 65.8L498.6 65.1L499.8 64.6L499.9 64.6L501.0 64.2L502.2 64.0L503.4 64.0L504.6 64.2L505.8 64.6L505.9 64.6L507.0 65.0L508.2 65.7L508.3 65.8L509.4 66.7L509.7 67.0L510.5 68.2L510.6 68.6L510.9 69.4L511.2 70.6L511.2 71.8L511.0 73.0L510.6 73.8L510.5 74.2L509.7 75.4L509.4 75.7L508.4 76.6L508.2 76.7L507.0 77.5L505.9 77.8L505.8 77.9Z" fill="none" stroke="#b8e0a0" stroke-width="0.60"/></g>
<g opacity="0.90"><path d="M504.6 78.0L503.4 78.0L502.9 77.8L502.2 77.6L501.0 77.4L499.8 76.8L499.1 76.6L498.6 76.5L497.7 75.4L497.4 75.1L496.2 74.4L496.1 74.2L495.6 73.0L496.2 72.1L497.4 71.8L498.6 71.9L498.6 71.8L498.6 70.6L498.9 69.4L498.6 68.9L497.4 69.2L496.2 68.9L495.9 68.2L496.2 67.6L497.4 67.1L498.5 67.0L498.6 67.0L499.8 66.0L500.1 65.8L501.0 65.2L502.2 65.4L503.4 65.5L504.2 65.8L504.6 65.9L504.8 65.8L505.8 65.3L507.0 65.3L507.7 65.8L508.0 67.0L508.2 67.5L509.4 67.3L509.6 68.2L509.4 68.6L509.1 69.4L509.4 69.9L510.0 70.6L509.4 71.4L509.3 71.8L509.4 72.3L509.9 73.0L509.4 73.8L508.7 74.2L508.6 75.4L508.2 76.0L507.7 76.6L507.0 77.1L505.8 77.7L505.5 77.8L504.6 78.0ZM504.6 73.0L504.6 73.0L504.6 73.0L504.6 73.1L504.6 73.0Z" fill="none" stroke="#c08068" stroke-width="0.60"/><path d="M502.2 76.8L501.0 76.6L501.0 76.6L499.8 76.1L498.6 75.6L498.5 75.4L497.4 74.4L497.2 74.2L496.5 73.0L497.4 72.4L498.6 72.3L498.8 71.8L498.8 70.6L499.6 69.4L499.2 68.2L499.5 67.0L499.8 66.7L501.0 65.9L502.2 66.4L503.4 66.3L504.6 66.3L505.8 66.2L506.8 67.0L507.0 67.4L507.4 68.2L508.2 69.4L508.2 69.5L509.1 70.6L508.6 71.8L508.5 73.0L508.2 73.3L507.7 74.2L507.6 75.4L507.0 76.0L505.8 76.1L504.8 75.4L504.8 74.2L504.9 73.0L504.6 72.6L504.4 73.0L503.4 74.2L503.4 74.2L503.4 75.1L503.5 75.4L503.4 75.4L502.5 76.6L502.2 76.8ZM497.4 68.3L497.2 68.2L497.4 68.1L497.9 68.2L497.4 68.3Z" fill="none" stroke="#b97962" stroke-width="0.60"/><path d="M502.2 76.1L501.0 76.3L499.8 75.5L499.6 75.4L498.8 74.2L498.6 73.7L497.4 73.2L497.3 73.0L497.4 72.9L498.6 72.8L499.0 71.8L499.0 70.6L499.8 69.6L500.0 69.4L500.1 68.2L500.3 67.0L501.0 66.5L501.9 67.0L502.2 67.1L503.4 67.0L503.7 67.0L504.6 66.8L505.8 66.9L506.0 67.0L505.8 67.4L505.6 68.2L505.8 68.4L507.0 68.4L507.9 69.4L508.2 70.0L508.7 70.6L508.2 71.5L507.9 71.8L507.9 73.0L507.1 74.2L507.0 74.6L505.8 75.1L505.2 74.2L505.1 73.0L504.6 72.3L504.2 73.0L503.4 74.0L502.9 74.2L502.9 75.4L502.2 76.1Z" fill="none" stroke="#b2725b" stroke-width="0.60"/><path d="M502.2 75.6L501.0 75.9L500.2 75.4L499.8 74.9L499.3 74.2L498.7 73.0L499.2 71.8L499.2 70.6L499.8 69.8L500.3 69.4L500.4 68.2L501.0 67.1L502.2 67.5L503.4 67.3L504.6 67.6L505.0 68.2L505.8 69.0L507.0 68.8L507.5 69.4L508.2 70.6L508.2 70.6L508.2 70.7L507.1 71.8L507.5 73.0L507.0 73.7L506.2 74.2L505.8 74.5L505.6 74.2L505.3 73.0L504.6 71.9L504.1 73.0L503.4 73.8L502.4 74.2L502.3 75.4L502.2 75.6Z" fill="none" stroke="#ab6b55" stroke-width="0.60"/><path d="M501.0 75.6L500.7 75.4L499.8 74.3L499.7 74.2L499.0 73.0L499.4 71.8L499.4 70.6L499.8 70.1L500.6 69.4L500.7 68.2L501.0 67.7L502.2 67.8L503.4 67.7L504.4 68.2L504.6 69.1L504.9 69.4L505.8 69.6L506.2 69.4L507.0 69.1L507.2 69.4L507.3 70.6L507.0 71.0L505.8 71.7L504.6 71.6L504.5 71.8L503.9 73.0L503.4 73.6L502.2 74.1L501.8 74.2L501.5 75.4L501.0 75.6ZM507.0 73.2L505.8 73.8L505.6 73.0L505.8 72.0L507.0 72.6L507.1 73.0L507.0 73.2Z" fill="none" stroke="#a4644e" stroke-width="0.60"/><path d="M501.0 74.8L500.5 74.2L499.8 73.9L499.2 73.0L499.6 71.8L499.6 70.6L499.8 70.4L501.0 69.4L501.0 69.0L501.8 68.2L502.2 68.2L503.4 68.0L503.8 68.2L504.1 69.4L504.6 69.7L505.8 70.1L506.6 70.6L505.8 71.2L504.6 71.4L504.3 71.8L503.7 73.0L503.4 73.4L502.2 73.8L501.3 74.2L501.0 74.8Z" fill="none" stroke="#9d5d48" stroke-width="0.60"/><path d="M503.4 73.2L502.2 73.6L501.0 74.1L499.8 73.5L499.5 73.0L499.8 71.8L499.8 71.4L500.4 70.6L501.0 70.4L501.6 69.4L502.2 68.8L503.4 69.1L503.5 69.4L504.6 70.0L505.8 70.6L505.9 70.6L505.8 70.6L504.6 71.1L504.2 71.8L503.5 73.0L503.4 73.2Z" fill="none" stroke="#965642" stroke-width="0.60"/><path d="M502.2 73.3L501.0 73.8L499.8 73.1L499.7 73.0L499.8 72.7L500.0 71.8L501.0 70.8L502.2 70.9L502.4 70.6L503.4 69.7L504.6 70.3L505.2 70.6L504.6 70.8L504.0 71.8L503.4 72.9L503.2 73.0L502.2 73.3Z" fill="none" stroke="#8f4f3b" stroke-width="0.60"/><path d="M502.2 73.1L501.0 73.5L500.1 73.0L500.3 71.8L501.0 71.1L502.2 71.4L502.8 70.6L503.4 70.0L504.5 70.6L503.8 71.8L503.4 72.6L502.5 73.0L502.2 73.1Z" fill="none" stroke="#884835" stroke-width="0.60"/><path d="M503.4 72.3L502.4 71.8L503.2 70.6L503.4 70.4L503.8 70.6L503.7 71.8L503.4 72.3ZM501.0 73.3L500.6 73.0L500.6 71.8L501.0 71.4L502.0 71.8L501.8 73.0L501.0 73.3Z" fill="none" stroke="#81412e" stroke-width="0.60"/><path d="M501.0 73.0L500.8 71.8L501.0 71.6L501.4 71.8L501.0 73.0ZM503.4 72.0L503.0 71.8L503.4 71.0L503.5 71.8L503.4 72.0Z" fill="none" stroke="#7a3a28" stroke-width="0.60"/></g>
<g opacity="0.90"><path d="M472.2 92.6L471.0 92.9L469.8 93.1L468.6 93.2L467.4 93.3L466.2 93.2L465.0 93.0L463.8 92.5L463.3 92.2L462.6 91.8L461.7 91.0L461.4 90.7L460.6 89.8L460.2 89.3L459.7 88.6L459.0 87.4L459.0 87.3L458.6 86.2L458.4 85.0L458.3 83.8L458.3 82.6L458.5 81.4L458.9 80.2L459.0 79.9L459.4 79.0L460.1 77.8L460.2 77.7L460.9 76.6L461.4 76.1L462.2 75.4L462.6 75.1L463.8 74.4L464.5 74.2L465.0 74.0L466.2 73.7L467.4 73.6L468.6 73.5L469.8 73.5L471.0 73.5L472.2 73.6L473.4 73.9L474.2 74.2L474.6 74.3L475.8 74.8L476.8 75.4L477.0 75.5L478.2 76.4L478.4 76.6L479.4 77.5L479.6 77.8L480.4 79.0L480.6 79.7L480.8 80.2L481.1 81.4L481.1 82.6L481.0 83.8L480.8 85.0L480.6 85.4L480.3 86.2L479.6 87.4L479.4 87.6L478.7 88.6L478.2 89.1L477.4 89.8L477.0 90.2L475.8 90.9L475.7 91.0L474.6 91.6L473.4 92.1L473.1 92.2L472.2 92.6Z" fill="none" stroke="#7c7cd0" stroke-width="0.60"/><path d="M471.0 92.6L469.8 92.8L468.6 93.0L467.4 93.0L466.2 93.0L465.0 92.7L463.8 92.2L463.8 92.2L462.6 91.5L462.1 91.0L461.4 90.3L461.0 89.8L460.2 88.7L460.1 88.6L459.4 87.4L459.0 86.2L459.0 85.9L458.8 85.0L458.7 83.8L458.8 82.6L459.0 81.4L459.0 81.4L459.3 80.2L459.8 79.0L460.2 78.4L460.5 77.8L461.4 76.7L461.4 76.6L462.6 75.5L462.8 75.4L463.8 74.8L465.0 74.4L465.8 74.2L466.2 74.1L467.4 73.9L468.6 73.9L469.8 73.8L471.0 73.9L472.2 74.0L472.9 74.2L473.4 74.3L474.6 74.7L475.8 75.2L476.0 75.4L477.0 76.0L477.8 76.6L478.2 76.9L479.1 77.8L479.4 78.2L479.9 79.0L480.4 80.2L480.6 81.4L480.6 82.1L480.6 82.6L480.6 83.0L480.5 83.8L480.3 85.0L479.8 86.2L479.4 86.9L479.1 87.4L478.2 88.6L478.2 88.6L477.0 89.7L476.9 89.8L475.8 90.6L475.0 91.0L474.6 91.2L473.4 91.8L472.2 92.2L472.0 92.2L471.0 92.6Z" fill="none" stroke="#6d6dc5" stroke-width="0.60"/><path d="M468.6 92.4L467.4 92.5L466.2 92.4L465.5 92.2L465.0 92.1L463.8 91.6L463.0 91.0L462.6 90.7L461.8 89.8L461.4 89.2L460.9 88.6L460.3 87.4L460.2 87.1L459.9 86.2L459.7 85.0L459.6 83.8L459.7 82.6L459.9 81.4L460.2 80.6L460.3 80.2L460.8 79.0L461.4 78.0L461.5 77.8L462.5 76.6L462.6 76.5L463.8 75.6L464.3 75.4L465.0 75.1L466.2 74.8L467.4 74.6L468.6 74.6L469.8 74.6L471.0 74.6L472.2 74.8L473.4 75.0L474.3 75.4L474.6 75.5L475.8 76.1L476.5 76.6L477.0 77.0L477.9 77.8L478.2 78.1L478.9 79.0L479.4 80.2L479.4 80.3L479.7 81.4L479.7 82.6L479.6 83.8L479.4 84.7L479.3 85.0L478.9 86.2L478.2 87.4L478.2 87.4L477.2 88.6L477.0 88.8L475.8 89.8L475.7 89.8L474.6 90.5L473.4 91.0L473.4 91.0L472.2 91.5L471.0 91.9L469.8 92.2L469.5 92.2L468.6 92.4Z" fill="none" stroke="#5f5eb9" stroke-width="0.60"/><path d="M471.0 91.0L469.8 91.4L468.6 91.7L467.4 91.8L466.2 91.8L465.0 91.4L464.2 91.0L463.8 90.8L462.8 89.8L462.6 89.6L461.9 88.6L461.4 87.6L461.3 87.4L460.9 86.2L460.7 85.0L460.7 83.8L460.9 82.6L461.1 81.4L461.4 80.5L461.5 80.2L461.9 79.0L462.6 77.9L462.7 77.8L463.8 76.7L463.9 76.6L465.0 76.0L466.2 75.7L467.4 75.5L468.6 75.5L469.8 75.5L471.0 75.5L472.2 75.7L473.4 76.0L474.6 76.5L474.8 76.6L475.8 77.2L476.5 77.8L477.0 78.4L477.5 79.0L478.2 80.2L478.2 80.3L478.5 81.4L478.6 82.6L478.6 83.8L478.3 85.0L478.2 85.3L477.9 86.2L477.2 87.4L477.0 87.6L476.0 88.6L475.8 88.8L474.6 89.6L474.2 89.8L473.4 90.2L472.2 90.6L471.1 91.0L471.0 91.0Z" fill="none" stroke="#504fae" stroke-width="0.60"/><path d="M467.4 91.1L466.2 91.0L466.1 91.0L465.0 90.7L463.8 89.8L463.8 89.8L462.8 88.6L462.6 88.1L462.2 87.4L461.9 86.2L461.8 85.0L461.9 83.8L462.0 82.6L462.3 81.4L462.6 80.4L462.6 80.2L463.1 79.0L463.8 78.1L464.1 77.8L465.0 77.1L466.2 76.7L466.6 76.6L467.4 76.4L468.6 76.4L469.8 76.4L471.0 76.5L471.6 76.6L472.2 76.7L473.4 77.0L474.6 77.6L474.8 77.8L475.8 78.7L476.1 79.0L476.8 80.2L477.0 80.7L477.3 81.4L477.5 82.6L477.5 83.8L477.3 85.0L477.0 85.7L476.8 86.2L476.0 87.4L475.8 87.6L474.6 88.6L474.6 88.6L473.4 89.3L472.2 89.7L472.0 89.8L471.0 90.2L469.8 90.6L468.6 90.9L468.0 91.0L467.4 91.1Z" fill="none" stroke="#4140a3" stroke-width="0.60"/><path d="M468.6 90.2L467.4 90.4L466.2 90.3L465.0 89.8L465.0 89.8L463.8 88.6L463.8 88.6L463.2 87.4L462.9 86.2L462.8 85.0L463.0 83.8L463.2 82.6L463.4 81.4L463.8 80.3L463.8 80.2L464.5 79.0L465.0 78.5L466.2 77.8L466.2 77.8L467.4 77.5L468.6 77.4L469.8 77.4L471.0 77.5L472.2 77.7L472.5 77.8L473.4 78.2L474.5 79.0L474.6 79.1L475.4 80.2L475.8 81.1L475.9 81.4L476.2 82.6L476.3 83.8L476.2 85.0L475.8 85.9L475.7 86.2L474.6 87.4L474.6 87.4L473.4 88.2L472.6 88.6L472.2 88.8L471.0 89.3L469.8 89.8L469.7 89.8L468.6 90.2Z" fill="none" stroke="#333197" stroke-width="0.60"/><path d="M469.8 88.8L468.6 89.3L467.4 89.6L466.2 89.5L465.0 88.8L464.8 88.6L464.1 87.4L463.8 86.2L463.9 85.0L464.1 83.8L464.3 82.6L464.6 81.4L465.0 80.5L465.2 80.2L466.2 79.2L466.5 79.0L467.4 78.7L468.6 78.6L469.8 78.6L471.0 78.6L472.2 78.9L472.4 79.0L473.4 79.7L473.9 80.2L474.5 81.4L474.6 81.7L474.9 82.6L475.0 83.8L474.9 85.0L474.6 85.5L474.2 86.2L473.4 86.9L472.7 87.4L472.2 87.6L471.0 88.2L470.3 88.6L469.8 88.8Z" fill="none" stroke="#24228c" stroke-width="0.60"/></g>
<g opacity="0.90"><path d="M473.4 84.3L472.2 84.7L471.0 84.9L469.8 84.9L468.6 84.8L467.4 84.6L466.2 84.0L465.9 83.8L465.0 83.1L464.5 82.6L463.9 81.4L463.8 80.9L463.7 80.2L463.8 79.7L463.9 79.0L464.9 77.8L465.0 77.7L466.2 76.9L467.1 76.6L467.4 76.5L468.6 76.2L469.8 76.0L471.0 76.0L472.2 76.2L473.1 76.6L473.4 76.7L474.6 77.3L475.2 77.8L475.8 78.6L476.1 79.0L476.4 80.2L476.2 81.4L475.8 82.1L475.6 82.6L474.6 83.5L474.2 83.8L473.4 84.3Z" fill="none" stroke="#b8dc98" stroke-width="0.60"/><path d="M469.8 83.8L469.5 83.8L468.6 83.7L467.4 83.3L466.3 82.6L466.2 82.5L465.4 81.4L465.2 80.2L465.6 79.0L466.2 78.4L467.1 77.8L467.4 77.6L468.6 77.2L469.8 77.0L471.0 77.1L472.2 77.3L473.2 77.8L473.4 77.9L474.5 79.0L474.6 79.2L474.9 80.2L474.7 81.4L474.6 81.5L473.8 82.6L473.4 82.9L472.2 83.5L471.0 83.8L470.3 83.8L469.8 83.8Z" fill="none" stroke="#a2c981" stroke-width="0.60"/><path d="M472.2 82.6L471.0 83.0L469.8 83.1L468.6 82.9L467.9 82.6L467.4 82.3L466.6 81.4L466.3 80.2L466.9 79.0L467.4 78.6L468.6 78.0L469.7 77.8L469.8 77.8L470.6 77.8L471.0 77.8L472.2 78.1L473.4 79.0L473.4 79.0L473.9 80.2L473.6 81.4L473.4 81.7L472.3 82.6L472.2 82.6Z" fill="none" stroke="#8cb66a" stroke-width="0.60"/><path d="M472.2 81.7L471.0 82.3L469.8 82.4L468.6 82.1L467.7 81.4L467.4 80.7L467.3 80.2L467.4 80.0L468.1 79.0L468.6 78.7L469.8 78.4L471.0 78.5L472.2 78.9L472.3 79.0L473.0 80.2L472.6 81.4L472.2 81.7Z" fill="none" stroke="#76a353" stroke-width="0.60"/><path d="M471.0 81.5L469.8 81.6L469.1 81.4L468.6 80.8L468.3 80.2L468.6 79.9L469.8 79.1L471.0 79.2L472.0 80.2L471.2 81.4L471.0 81.5Z" fill="none" stroke="#60903c" stroke-width="0.60"/></g>
<g opacity="0.90"><path d="M466.2 90.6L465.0 91.0L463.8 90.8L462.7 89.8L462.6 89.6L462.2 88.6L462.5 87.4L462.6 87.3L463.8 86.2L463.9 86.2L465.0 85.9L465.6 86.2L466.2 86.4L467.1 87.4L467.3 88.6L467.0 89.8L466.2 90.6Z" fill="none" stroke="#eca0a0" stroke-width="0.60"/><path d="M465.0 90.1L463.8 89.8L463.8 89.8L463.2 88.6L463.6 87.4L463.8 87.2L465.0 86.9L465.9 87.4L466.2 87.9L466.5 88.6L466.2 89.1L465.6 89.8L465.0 90.1Z" fill="none" stroke="#b83030" stroke-width="0.60"/></g>
<g opacity="0.90"><path d="M76.2 505.2L75.0 505.3L74.5 505.0L73.8 504.7L72.6 504.3L71.4 504.0L70.7 503.8L70.2 503.7L69.0 503.3L67.9 502.6L67.8 502.5L66.6 502.0L65.8 501.4L65.4 501.0L64.5 500.2L64.2 500.0L63.0 499.5L61.8 499.1L61.6 499.0L60.6 498.7L59.4 497.9L59.3 497.8L58.2 497.0L57.8 496.6L57.0 495.6L56.9 495.4L56.0 494.2L55.8 493.7L55.4 493.0L54.9 491.8L54.7 490.6L54.6 490.1L54.3 489.4L54.1 488.2L54.0 487.0L54.1 485.8L53.9 484.6L53.8 483.4L53.7 482.2L53.7 481.0L53.8 479.8L54.1 478.6L54.6 477.8L54.7 477.4L55.6 476.2L55.8 476.0L57.0 475.3L58.2 475.0L58.2 475.0L59.3 473.8L59.4 473.7L60.6 473.2L61.8 473.2L63.0 473.1L64.2 472.6L64.2 472.6L65.4 471.9L66.6 471.7L67.8 471.8L69.0 472.0L70.2 472.0L71.4 471.6L72.0 471.4L72.6 471.1L73.8 471.0L74.5 471.4L75.0 471.7L75.7 472.6L76.2 473.5L76.4 473.8L77.4 475.0L77.4 475.0L78.4 476.2L78.6 477.3L78.6 477.4L78.6 478.3L78.6 478.6L78.6 479.8L78.6 479.8L78.7 481.0L78.8 482.2L79.1 483.4L79.8 484.1L81.0 484.0L82.2 483.6L83.4 483.5L84.6 483.7L85.8 483.6L86.9 483.4L87.0 483.4L88.2 483.1L89.4 483.4L89.4 483.4L90.6 484.3L90.9 484.6L91.6 485.8L91.8 486.4L92.0 487.0L92.3 488.2L92.4 489.4L92.5 490.6L92.6 491.8L92.7 493.0L92.6 494.2L92.7 495.4L92.8 496.6L92.6 497.8L92.2 499.0L91.9 500.2L91.8 500.5L91.7 501.4L91.5 502.6L90.6 503.7L90.5 503.8L89.4 504.6L88.2 504.9L87.0 504.8L85.8 504.7L84.6 504.5L83.4 504.4L82.2 504.4L81.0 504.3L79.8 504.2L78.6 504.3L77.4 504.7L76.8 505.0L76.2 505.2ZM66.3 485.8L66.6 485.8L67.8 485.6L69.0 485.2L70.2 484.6L70.2 484.6L71.3 483.4L71.4 483.0L71.6 482.2L71.4 481.5L71.2 481.0L70.2 480.2L69.5 479.8L69.0 479.6L67.8 479.5L66.6 479.4L65.4 479.4L64.2 479.3L63.0 479.3L61.8 479.6L61.5 479.8L60.6 480.6L60.4 481.0L60.1 482.2L60.2 483.4L60.6 484.0L61.2 484.6L61.8 484.9L63.0 485.4L64.2 485.6L65.2 485.8L65.4 485.8L66.3 485.8Z" fill="none" stroke="#c89080" stroke-width="0.55"/><path d="M89.4 504.0L88.2 504.4L87.0 504.2L85.8 503.9L85.5 503.8L84.6 503.6L83.4 503.5L82.2 503.4L81.0 503.2L79.8 503.0L78.6 502.9L77.4 503.8L77.4 503.8L76.2 504.6L75.0 504.7L73.8 504.2L73.1 503.8L72.6 503.6L71.4 503.4L70.2 503.1L69.3 502.6L69.0 502.4L67.8 501.8L67.0 501.4L66.6 501.2L65.5 500.2L65.4 500.1L64.2 499.2L63.7 499.0L63.0 498.8L61.8 498.5L60.6 497.9L60.5 497.8L59.4 497.1L58.8 496.6L58.2 496.0L57.7 495.4L57.0 494.2L57.0 494.2L56.3 493.0L55.9 491.8L55.8 491.3L55.5 490.6L55.2 489.4L55.1 488.2L55.1 487.0L55.0 485.8L54.7 484.6L54.6 483.6L54.6 483.4L54.5 482.2L54.5 481.0L54.6 480.5L54.7 479.8L54.9 478.6L55.4 477.4L55.8 477.0L57.0 476.3L58.2 476.4L59.4 476.5L59.8 476.2L60.6 475.5L61.2 475.0L61.8 474.6L63.0 474.2L64.0 473.8L64.2 473.7L65.4 473.1L66.6 472.8L67.8 472.8L69.0 473.0L70.2 473.0L70.9 472.6L71.4 472.4L72.6 471.8L73.8 471.8L74.8 472.6L75.0 472.8L75.6 473.8L76.2 474.6L76.6 475.0L77.3 476.2L77.4 476.4L77.8 477.4L78.0 478.6L78.1 479.8L78.2 481.0L78.2 482.2L78.2 483.4L78.6 484.3L78.9 484.6L79.8 485.4L81.0 485.4L82.2 484.9L83.4 484.8L84.6 485.0L85.8 484.9L87.0 484.7L88.2 484.7L89.4 485.5L89.6 485.8L90.1 487.0L90.3 488.2L90.5 489.4L90.5 490.6L90.5 491.8L90.5 493.0L90.6 493.3L90.9 494.2L91.5 495.4L91.8 496.6L91.6 497.8L91.2 499.0L91.1 500.2L91.1 501.4L90.8 502.6L90.6 502.8L89.7 503.8L89.4 504.0ZM68.6 485.8L69.0 485.6L70.2 485.2L71.0 484.6L71.4 484.1L71.9 483.4L72.1 482.2L71.7 481.0L71.4 480.6L70.5 479.8L70.2 479.6L69.0 479.3L67.8 479.1L66.6 479.1L65.4 479.0L64.2 478.9L63.0 478.9L61.8 479.1L60.6 479.8L60.6 479.8L59.9 481.0L59.6 482.2L59.7 483.4L60.4 484.6L60.6 484.8L61.8 485.4L62.9 485.8L63.0 485.8L64.2 486.0L65.4 486.1L66.6 486.1L67.8 486.1L68.6 485.8ZM73.6 499.0L73.8 498.7L74.0 497.8L73.8 497.2L73.5 496.6L72.6 496.0L71.4 495.7L70.2 495.5L70.1 495.4L69.3 494.2L69.2 493.0L69.6 491.8L70.2 491.5L71.4 491.0L72.2 490.6L72.6 490.4L73.1 489.4L73.6 488.2L72.6 487.1L71.8 488.2L71.4 488.6L70.2 489.2L69.7 489.4L69.0 490.2L68.6 490.6L67.8 491.5L67.4 491.8L66.6 492.2L65.4 492.8L64.9 493.0L64.6 494.2L65.3 495.4L65.4 495.6L66.0 496.6L66.6 497.6L66.8 497.8L67.8 498.5L68.8 499.0L69.0 499.1L70.2 499.2L71.4 499.2L72.6 499.2L73.6 499.0Z" fill="none" stroke="#b98272" stroke-width="0.55"/><path d="M88.2 503.9L87.7 503.8L87.0 503.7L85.8 503.3L84.6 502.9L83.4 502.7L82.4 502.6L82.2 502.6L81.0 502.4L79.8 502.1L78.6 502.0L77.4 502.3L77.3 502.6L76.7 503.8L76.2 504.1L75.0 504.3L74.1 503.8L73.8 503.6L72.6 503.1L71.4 502.8L70.7 502.6L70.2 502.3L69.0 501.6L68.5 501.4L67.8 500.8L66.6 500.3L66.5 500.2L65.4 499.0L65.4 499.0L64.2 498.5L63.0 498.3L61.8 497.9L61.6 497.8L60.6 497.3L59.5 496.6L59.4 496.5L58.3 495.4L58.2 495.2L57.5 494.2L57.0 493.1L56.9 493.0L56.4 491.8L56.2 490.6L56.0 489.4L56.2 488.2L57.0 487.6L58.0 488.2L58.2 488.3L59.4 488.3L59.5 488.2L59.4 488.1L58.8 487.0L58.2 486.5L57.0 486.6L55.8 486.2L55.7 485.8L55.2 484.6L55.0 483.4L54.9 482.2L55.0 481.0L55.1 479.8L55.5 478.6L55.8 477.9L56.2 477.4L57.0 476.9L58.2 477.2L59.4 477.4L60.6 476.7L61.0 476.2L61.8 475.5L63.0 475.1L63.2 475.0L64.2 474.4L65.4 473.9L65.7 473.8L66.6 473.5L67.8 473.6L68.6 473.8L69.0 473.9L70.2 473.9L70.3 473.8L71.4 473.2L72.3 472.6L72.6 472.5L73.8 472.5L74.0 472.6L75.0 473.8L75.0 473.8L75.9 475.0L76.2 475.4L76.8 476.2L77.2 477.4L77.4 478.6L77.4 478.7L77.6 479.8L77.7 481.0L77.7 482.2L77.6 483.4L78.0 484.6L78.6 485.3L79.2 485.8L79.8 486.5L81.0 486.7L82.2 486.1L83.4 485.9L84.6 486.1L85.8 486.1L87.0 485.9L88.2 486.4L88.6 487.0L88.9 488.2L89.0 489.4L89.1 490.6L89.1 491.8L88.8 493.0L88.2 493.9L87.1 494.2L87.0 494.2L85.8 494.4L85.3 495.4L85.5 496.6L85.6 497.8L85.8 498.3L87.0 498.8L87.7 497.8L87.7 496.6L88.2 495.8L88.9 495.4L89.4 495.2L89.6 495.4L90.6 496.3L90.7 496.6L90.6 497.3L90.5 497.8L90.0 499.0L90.4 500.2L90.6 501.4L90.3 502.6L89.4 503.5L88.5 503.8L88.2 503.9ZM75.7 500.2L75.8 499.0L75.5 497.8L75.1 496.6L75.0 496.4L74.0 495.4L73.8 495.1L72.8 494.2L72.7 493.0L73.5 491.8L73.8 491.5L74.2 490.6L74.4 489.4L74.4 488.2L74.4 487.0L74.2 485.8L73.8 485.3L72.6 485.8L71.9 484.6L72.4 483.4L72.6 482.2L72.2 481.0L71.4 480.1L71.1 479.8L70.2 479.2L69.0 478.9L67.8 478.8L66.6 478.8L65.4 478.7L64.8 478.6L64.2 478.5L63.0 478.4L61.8 478.6L61.8 478.6L60.6 479.1L60.1 479.8L59.5 481.0L59.4 481.3L59.2 482.2L59.3 483.4L59.4 483.7L59.9 484.6L60.6 485.4L61.5 485.8L61.8 485.9L63.0 486.2L64.2 486.3L65.4 486.5L66.6 486.5L67.8 486.5L69.0 486.2L70.0 485.8L70.2 485.7L71.4 485.1L72.6 485.8L71.6 487.0L71.4 487.3L70.2 488.0L69.9 488.2L69.0 488.8L68.0 489.4L67.8 489.6L66.7 490.6L66.6 490.7L65.4 491.4L64.2 491.6L63.0 491.8L62.9 491.8L62.0 493.0L62.7 494.2L63.0 494.4L64.1 495.4L64.2 495.5L65.0 496.6L65.4 497.4L65.7 497.8L66.6 498.9L66.7 499.0L67.8 499.7L69.0 500.0L70.2 500.0L71.4 500.1L72.2 500.2L72.6 500.3L73.8 500.4L75.0 500.4L75.7 500.2Z" fill="none" stroke="#aa7564" stroke-width="0.55"/><path d="M89.4 503.1L88.2 503.5L87.0 503.2L85.8 502.7L85.5 502.6L84.6 502.1L83.4 502.0L82.2 502.0L81.0 501.8L79.8 501.4L79.7 501.4L78.6 501.1L77.4 500.2L77.4 500.2L76.8 499.0L76.4 497.8L76.2 497.2L75.9 496.6L75.1 495.4L75.0 495.2L74.1 494.2L74.0 493.0L74.5 491.8L75.0 490.8L75.1 490.6L75.1 489.4L75.1 488.2L75.1 487.0L75.1 485.8L75.1 484.6L75.0 484.5L73.8 483.7L73.6 483.4L73.2 482.2L72.7 481.0L72.6 480.9L71.7 479.8L71.4 479.6L70.2 478.9L69.3 478.6L69.0 478.5L67.8 478.4L66.6 478.5L65.4 478.4L64.2 478.2L63.0 478.0L61.8 477.9L60.9 477.4L61.8 476.3L61.9 476.2L63.0 475.6L64.2 475.1L64.3 475.0L65.4 474.4L66.6 474.1L67.8 474.3L69.0 474.7L70.2 475.0L70.2 475.0L70.2 475.0L71.4 474.0L71.5 473.8L72.6 473.1L73.8 473.2L74.3 473.8L75.0 474.5L75.4 475.0L76.2 476.1L76.3 476.2L76.8 477.4L77.0 478.6L77.2 479.8L77.3 481.0L77.2 482.2L76.8 483.4L77.3 484.6L77.4 484.7L78.4 485.8L78.6 486.1L79.3 487.0L79.7 488.2L79.7 489.4L79.1 490.6L79.2 491.8L79.8 492.9L79.9 493.0L80.9 494.2L81.0 494.3L82.2 495.2L82.5 495.4L83.4 496.0L83.8 496.6L84.4 497.8L84.6 498.2L85.0 499.0L85.8 499.9L87.0 499.8L88.2 499.5L89.4 499.6L89.7 500.2L90.2 501.4L89.9 502.6L89.4 503.1ZM58.2 485.6L57.0 485.6L55.8 484.8L55.7 484.6L55.4 483.4L55.3 482.2L55.3 481.0L55.5 479.8L55.8 479.0L56.0 478.6L57.0 477.5L58.2 477.9L59.4 478.3L60.0 478.6L59.7 479.8L59.4 480.3L59.1 481.0L58.9 482.2L58.9 483.4L59.2 484.6L58.2 485.6ZM59.4 486.0L59.0 485.8L59.4 485.4L59.7 485.8L59.4 486.0ZM66.6 489.8L65.4 490.4L64.2 490.5L63.0 490.3L61.8 489.7L61.6 489.4L60.7 488.2L60.6 487.9L60.0 487.0L60.6 486.4L61.8 486.4L63.0 486.5L64.2 486.6L65.4 486.8L66.6 486.8L67.8 486.9L69.0 486.8L70.2 486.9L70.3 487.0L70.2 487.1L69.0 487.6L68.6 488.2L67.8 488.7L67.0 489.4L66.6 489.8ZM87.0 492.9L85.8 492.8L84.6 492.1L84.2 491.8L83.4 491.1L82.6 490.6L82.2 490.2L81.5 489.4L81.9 488.2L82.2 487.9L83.4 487.4L84.6 487.5L85.8 487.4L87.0 487.4L87.6 488.2L88.0 489.4L88.1 490.6L88.0 491.8L87.0 492.9ZM64.2 497.5L63.0 497.7L61.8 497.3L60.6 496.8L60.3 496.6L59.4 496.0L58.8 495.4L58.2 494.5L58.0 494.2L57.4 493.0L57.0 491.9L56.9 491.8L56.7 490.6L56.7 489.4L57.0 488.9L58.2 489.1L58.7 489.4L59.4 489.8L60.3 490.6L60.6 491.1L61.0 491.8L61.2 493.0L61.6 494.2L61.8 494.4L63.0 495.3L63.1 495.4L64.2 496.5L64.2 496.6L64.2 497.5ZM75.0 503.9L74.9 503.8L73.8 503.0L72.7 502.6L72.6 502.5L71.4 502.0L70.2 501.5L70.1 501.4L70.2 501.3L71.4 500.9L72.6 501.0L73.8 501.2L75.0 501.3L75.6 501.4L76.2 501.6L76.7 502.6L76.2 503.5L75.4 503.8L75.0 503.9Z" fill="none" stroke="#9b6856" stroke-width="0.55"/><path d="M76.2 483.2L75.0 482.9L74.0 482.2L73.8 482.0L73.3 481.0L72.6 480.3L72.2 479.8L71.4 479.1L70.5 478.6L70.2 478.4L69.0 478.1L67.8 478.2L66.6 478.3L65.4 478.1L64.2 477.9L63.0 477.7L62.0 477.4L62.8 476.2L63.0 476.1L64.2 475.5L65.2 475.0L65.4 474.9L66.6 474.6L67.8 474.9L68.1 475.0L69.0 475.4L70.2 476.0L71.4 475.3L71.6 475.0L72.5 473.8L72.6 473.8L72.9 473.8L73.8 473.9L74.9 475.0L75.0 475.1L75.9 476.2L76.2 476.9L76.5 477.4L76.7 478.6L76.8 479.8L76.8 481.0L76.6 482.2L76.2 483.2ZM58.2 484.9L57.0 484.9L56.5 484.6L55.8 483.4L55.8 483.4L55.6 482.2L55.7 481.0L55.8 480.6L56.0 479.8L56.7 478.6L57.0 478.2L58.2 478.5L58.4 478.6L59.2 479.8L58.8 481.0L58.6 482.2L58.6 483.4L58.5 484.6L58.2 484.9ZM83.4 501.3L82.2 501.4L81.0 501.1L79.8 500.7L78.6 500.4L78.3 500.2L77.7 499.0L77.4 498.6L77.0 497.8L76.5 496.6L76.2 496.0L75.7 495.4L75.0 494.2L75.0 494.2L74.7 493.0L75.0 492.3L75.3 491.8L75.9 490.6L75.7 489.4L75.5 488.2L75.5 487.0L75.8 485.8L76.2 485.0L77.4 485.4L77.7 485.8L78.6 487.0L78.6 487.0L79.0 488.2L78.6 489.4L78.6 489.4L77.9 490.6L78.2 491.8L78.6 492.2L79.2 493.0L79.8 493.8L80.2 494.2L81.0 495.3L81.1 495.4L81.8 496.6L82.2 497.1L83.4 497.8L83.4 497.8L84.1 499.0L84.5 500.2L83.4 501.3ZM65.4 489.9L64.2 489.8L63.0 489.4L63.0 489.4L61.8 488.6L61.5 488.2L61.4 487.0L61.8 486.9L63.0 486.8L64.2 486.9L65.0 487.0L65.4 487.1L66.6 487.4L67.4 488.2L66.6 489.0L66.1 489.4L65.4 489.9ZM85.8 490.9L85.5 490.6L85.8 489.4L85.8 489.4L85.8 489.4L86.7 490.6L85.8 490.9ZM63.0 496.7L61.8 496.8L61.4 496.6L60.6 496.1L59.4 495.5L59.3 495.4L58.6 494.2L58.2 493.7L57.8 493.0L57.5 491.8L57.3 490.6L58.2 489.9L59.3 490.6L59.4 490.7L60.2 491.8L60.5 493.0L60.6 493.4L60.9 494.2L61.8 495.2L62.1 495.4L63.0 496.4L63.2 496.6L63.0 496.7ZM89.4 502.6L88.2 503.1L87.0 502.8L86.7 502.6L85.8 501.5L85.5 501.4L85.8 501.3L87.0 500.7L88.2 500.3L89.4 500.6L89.8 501.4L89.4 502.6L89.4 502.6ZM75.0 503.1L74.3 502.6L75.0 502.1L76.0 502.6L75.0 503.1Z" fill="none" stroke="#8c5a48" stroke-width="0.55"/><path d="M76.2 481.7L75.0 481.9L74.0 481.0L73.8 480.9L72.8 479.8L72.6 479.6L71.4 478.6L71.4 478.6L70.2 477.6L69.0 477.7L67.8 477.9L66.6 478.0L65.4 477.9L64.2 477.6L63.4 477.4L63.7 476.2L64.2 475.9L65.4 475.3L66.6 475.1L67.8 475.3L69.0 476.0L69.4 476.2L70.2 477.1L71.4 476.7L71.7 476.2L72.5 475.0L72.6 474.8L73.8 474.6L74.2 475.0L75.0 475.6L75.5 476.2L76.1 477.4L76.2 477.9L76.4 478.6L76.4 479.8L76.4 481.0L76.2 481.7ZM57.0 484.2L56.4 483.4L56.1 482.2L56.2 481.0L56.4 479.8L57.0 478.9L58.2 479.2L58.7 479.8L58.5 481.0L58.3 482.2L58.2 483.3L58.2 483.4L57.0 484.2ZM77.4 489.8L76.8 489.4L76.2 489.0L76.0 488.2L76.0 487.0L76.2 486.4L77.4 486.2L78.0 487.0L78.2 488.2L77.6 489.4L77.4 489.8ZM65.4 489.2L64.2 489.2L63.0 488.7L62.3 488.2L63.0 487.5L64.2 487.3L65.4 487.6L66.5 488.2L65.4 489.2ZM59.4 494.5L59.2 494.2L58.4 493.0L58.2 492.7L58.0 491.8L58.2 490.8L59.4 491.6L59.5 491.8L59.9 493.0L59.8 494.2L59.4 494.5ZM82.2 500.5L81.0 500.3L80.5 500.2L79.8 499.9L78.6 499.3L78.4 499.0L77.7 497.8L77.4 497.4L77.0 496.6L76.3 495.4L76.2 495.2L75.5 494.2L75.3 493.0L76.0 491.8L76.2 491.5L77.4 491.8L77.4 491.8L78.6 493.0L78.6 493.0L79.5 494.2L79.8 494.6L80.4 495.4L80.9 496.6L81.0 497.8L81.0 497.9L82.2 498.3L83.2 499.0L83.2 500.2L82.2 500.5ZM88.2 502.8L87.7 502.6L87.0 501.4L88.2 500.8L89.3 501.4L88.6 502.6L88.2 502.8Z" fill="none" stroke="#7d4c39" stroke-width="0.55"/><path d="M67.8 477.6L66.6 477.8L65.4 477.6L64.5 477.4L64.4 476.2L65.4 475.6L66.6 475.5L67.8 475.8L68.5 476.2L68.8 477.4L67.8 477.6ZM75.0 481.0L73.8 480.2L73.4 479.8L72.6 478.8L72.3 478.6L71.8 477.4L72.4 476.2L72.6 475.9L73.8 475.3L75.0 476.1L75.1 476.2L75.7 477.4L76.0 478.6L76.0 479.8L75.0 481.0ZM57.0 483.4L57.0 483.4L56.5 482.2L56.6 481.0L56.9 479.8L57.0 479.6L58.1 479.8L58.2 481.0L57.7 482.2L57.1 483.4L57.0 483.4ZM77.4 488.5L77.0 488.2L77.3 487.0L77.4 487.0L77.4 487.0L77.6 488.2L77.4 488.5ZM65.4 488.4L64.2 488.5L63.4 488.2L64.2 487.9L65.4 488.1L65.6 488.2L65.4 488.4ZM79.8 498.3L78.6 498.1L78.4 497.8L77.6 496.6L77.4 496.3L76.9 495.4L76.2 494.4L76.1 494.2L75.9 493.0L76.2 492.6L77.4 492.5L77.9 493.0L78.6 493.7L79.0 494.2L79.8 495.4L79.8 495.4L80.3 496.6L80.0 497.8L79.8 498.3Z" fill="none" stroke="#6e3f2b" stroke-width="0.55"/><path d="M66.6 477.5L65.6 477.4L65.4 477.2L65.1 476.2L65.4 476.0L66.6 475.9L67.7 476.2L67.4 477.4L66.6 477.5ZM75.0 480.1L74.4 479.8L73.8 479.5L73.1 478.6L72.8 477.4L73.3 476.2L73.8 475.9L74.3 476.2L75.0 476.7L75.4 477.4L75.5 478.6L75.2 479.8L75.0 480.1ZM77.4 495.4L76.9 494.2L77.4 493.3L78.3 494.2L77.4 495.4ZM78.6 497.0L78.3 496.6L77.4 495.4L78.6 494.5L79.1 495.4L79.3 496.6L78.6 497.0Z" fill="none" stroke="#5f321d" stroke-width="0.55"/><path d="M75.0 479.0L73.9 478.6L73.8 478.5L73.4 477.4L73.8 476.8L75.0 477.4L75.0 477.4L75.1 478.6L75.0 479.0Z" fill="none" stroke="#50240f" stroke-width="0.55"/></g>
<g opacity="0.90"><path d="M107.4 506.3L106.8 506.2L106.2 506.2L105.0 506.0L103.8 505.8L102.6 505.9L101.9 506.2L101.4 506.6L100.2 507.1L99.0 507.2L97.8 507.1L96.6 507.0L95.4 507.0L94.2 506.9L93.0 506.3L92.9 506.2L91.8 505.8L90.6 505.4L89.4 505.1L89.2 505.0L88.2 504.6L87.3 503.8L87.0 503.4L86.1 502.6L85.8 502.4L84.9 501.4L84.6 500.7L84.4 500.2L84.4 499.0L84.5 497.8L84.6 497.6L84.9 496.6L85.2 495.4L85.7 494.2L85.5 493.0L85.6 491.8L85.8 490.7L85.9 490.6L86.2 489.4L86.3 488.2L86.4 487.0L86.5 485.8L86.8 484.6L87.0 484.1L87.5 483.4L88.2 482.9L89.4 482.9L90.4 482.2L89.9 481.0L89.4 480.4L88.2 480.1L87.0 480.7L85.9 479.8L85.9 478.6L86.4 477.4L87.0 476.6L87.5 476.2L88.2 475.6L88.7 475.0L89.2 473.8L89.4 473.0L89.5 472.6L90.0 471.4L90.6 470.7L91.7 470.2L91.8 470.2L93.0 470.1L94.2 470.0L95.4 469.0L95.4 469.0L96.6 468.1L97.6 467.8L97.8 467.7L98.0 467.8L99.0 468.0L100.2 468.9L100.3 469.0L101.4 469.9L101.8 470.2L102.6 471.0L103.0 471.4L103.3 472.6L103.4 473.8L103.8 474.2L105.0 474.8L106.2 474.8L107.4 474.6L108.6 474.0L109.2 473.8L109.8 473.5L111.0 473.2L112.2 473.1L113.4 473.0L114.6 473.3L115.0 473.8L115.7 475.0L115.8 475.1L116.2 476.2L116.5 477.4L116.8 478.6L117.0 479.0L117.4 479.8L118.0 481.0L118.2 481.9L118.3 482.2L118.7 483.4L119.0 484.6L119.1 485.8L119.1 487.0L119.1 488.2L119.1 489.4L119.1 490.6L119.1 491.8L119.0 493.0L118.6 494.2L118.2 494.8L118.0 495.4L117.2 496.6L117.0 496.9L116.7 497.8L116.8 499.0L117.0 499.8L117.3 500.2L117.5 501.4L117.0 502.2L116.8 502.6L115.8 503.4L115.3 503.8L114.6 504.3L113.4 504.9L112.6 505.0L112.2 505.1L111.0 505.2L109.8 505.7L108.6 506.1L107.8 506.2L107.4 506.3ZM111.1 493.0L111.6 491.8L111.0 490.7L109.8 491.2L109.6 491.8L109.8 492.2L110.7 493.0L111.0 493.1L111.1 493.0ZM106.7 495.4L106.8 494.2L106.2 493.7L105.0 493.6L104.0 494.2L104.0 495.4L105.0 496.1L106.2 495.8L106.7 495.4ZM89.8 497.8L89.4 497.1L88.4 496.6L88.2 496.5L88.1 496.6L87.5 497.8L88.2 498.9L89.4 498.7L89.8 497.8Z" fill="none" stroke="#a8c890" stroke-width="0.55"/><path d="M99.0 471.6L98.9 471.4L99.0 471.3L99.1 471.4L99.0 471.6ZM91.8 488.9L90.6 489.1L89.4 488.5L89.1 488.2L88.8 487.0L89.4 485.8L89.4 485.8L90.6 485.2L91.8 484.8L92.1 484.6L93.0 483.4L93.0 483.4L93.1 482.2L93.0 482.0L92.4 481.0L91.8 480.5L91.2 479.8L90.6 478.6L90.8 477.4L91.2 476.2L91.4 475.0L91.8 473.9L91.9 473.8L93.0 473.3L94.1 473.8L94.2 473.8L95.4 474.4L96.6 474.5L97.8 474.5L98.7 475.0L99.0 475.4L99.4 476.2L99.9 477.4L100.2 477.7L101.2 477.4L101.4 477.3L102.6 476.9L103.8 477.4L103.9 477.4L104.0 478.6L103.8 478.8L103.1 479.8L102.6 480.1L101.6 481.0L101.4 481.2L100.3 482.2L100.2 482.3L99.1 483.4L99.0 483.5L98.0 484.6L97.8 484.9L96.6 485.8L96.6 485.8L95.4 486.2L94.2 486.7L94.0 487.0L93.0 487.9L92.8 488.2L91.8 488.9ZM107.4 505.2L106.2 505.3L105.0 505.2L104.0 505.0L103.8 505.0L103.3 505.0L102.6 505.1L101.4 505.6L100.2 506.0L99.0 506.0L97.8 505.9L96.6 505.8L95.4 505.9L94.2 505.9L93.0 505.4L92.4 505.0L91.8 504.8L90.6 504.4L89.4 503.8L89.4 503.8L88.2 502.8L88.0 502.6L87.1 501.4L87.0 501.2L85.8 500.7L85.4 500.2L85.2 499.0L85.5 497.8L85.8 497.0L86.3 497.8L87.0 498.5L87.4 499.0L88.2 499.8L89.4 499.5L90.2 499.0L90.6 497.9L90.7 497.8L90.6 497.7L90.0 496.6L89.4 496.0L88.2 495.7L87.0 495.7L86.9 495.4L87.0 495.2L88.2 494.4L88.5 494.2L89.4 493.7L90.6 493.5L91.8 493.2L92.6 493.0L93.0 492.9L94.2 492.4L95.4 492.0L96.6 491.9L97.8 492.0L99.0 492.5L100.0 493.0L100.2 493.3L100.3 493.0L101.1 491.8L101.4 491.5L102.6 490.6L102.6 490.6L103.8 490.0L105.0 489.7L106.2 489.6L107.4 489.7L108.0 490.6L108.4 491.8L108.6 492.2L109.0 493.0L109.8 493.9L110.4 494.2L111.0 494.5L111.5 494.2L112.2 493.7L112.6 493.0L113.0 491.8L112.7 490.6L112.2 489.4L112.2 489.4L111.3 488.2L111.0 487.8L109.8 487.2L109.3 487.0L108.6 486.8L107.9 485.8L107.4 485.3L106.7 484.6L106.2 484.1L105.8 483.4L105.6 482.2L105.7 481.0L105.7 479.8L105.7 478.6L106.2 478.0L106.6 477.4L107.4 477.0L108.6 476.3L108.8 476.2L109.8 475.7L111.0 475.5L112.2 475.9L112.9 476.2L113.4 476.5L114.3 477.4L114.6 477.8L115.0 478.6L115.8 479.7L115.8 479.8L116.7 481.0L117.0 482.0L117.1 482.2L117.4 483.4L117.7 484.6L117.8 485.8L117.9 487.0L117.9 488.2L118.0 489.4L118.1 490.6L118.1 491.8L118.0 493.0L117.6 494.2L117.0 495.2L116.9 495.4L116.3 496.6L115.8 497.8L115.8 498.1L115.8 499.0L115.8 499.3L115.9 500.2L115.8 500.8L115.7 501.4L114.7 502.6L114.6 502.7L113.4 503.4L112.2 503.7L111.6 503.8L111.0 503.9L109.8 504.3L108.6 504.8L107.8 505.0L107.4 505.2ZM105.9 496.6L106.2 496.5L107.4 495.5L107.4 495.4L107.7 494.2L107.4 493.8L106.3 493.0L106.2 492.9L105.0 492.9L104.8 493.0L103.8 493.6L103.3 494.2L103.2 495.4L103.8 496.3L104.4 496.6L105.0 496.9L105.9 496.6ZM98.2 499.0L97.8 498.6L96.6 499.0L96.6 499.0L96.6 499.2L97.8 499.5L98.2 499.0ZM105.3 500.2L105.0 499.8L103.9 499.0L103.8 498.9L103.7 499.0L102.9 500.2L103.8 501.0L105.0 500.6L105.3 500.2Z" fill="none" stroke="#9abb82" stroke-width="0.55"/><path d="M97.8 482.6L96.6 483.1L95.7 482.2L95.4 481.5L95.2 481.0L94.7 479.8L94.2 478.6L94.1 478.6L94.2 478.5L94.9 477.4L95.4 477.2L96.6 477.0L97.0 477.4L97.8 478.3L97.9 478.6L98.9 479.8L99.0 480.7L99.0 481.0L99.0 481.1L98.2 482.2L97.8 482.6ZM100.2 505.3L99.0 505.4L97.8 505.2L96.6 505.1L95.4 505.3L94.2 505.2L93.8 505.0L93.0 504.7L91.8 504.2L91.0 503.8L90.6 503.6L89.4 503.0L89.0 502.6L88.4 501.4L89.2 500.2L89.4 500.1L90.6 499.4L91.7 499.0L91.8 497.8L91.6 496.6L91.8 495.8L91.9 495.4L93.0 494.7L93.8 494.2L94.2 494.0L95.4 493.5L96.6 493.4L97.8 494.0L98.0 494.2L98.3 495.4L97.8 496.4L97.6 496.6L96.6 497.2L95.5 497.8L95.4 497.9L94.3 499.0L94.9 500.2L95.4 500.6L96.6 501.2L97.8 501.1L99.0 500.3L99.3 500.2L100.2 499.3L101.4 499.8L101.5 500.2L102.4 501.4L102.6 501.6L103.8 502.0L105.0 501.8L105.5 501.4L106.2 500.5L106.4 500.2L106.2 499.9L105.6 499.0L105.0 498.2L104.1 497.8L105.0 497.6L106.2 497.1L106.9 496.6L107.4 496.1L108.1 495.4L108.6 494.2L109.8 494.9L110.9 495.4L111.0 495.5L111.1 495.4L112.2 494.8L112.7 494.2L113.4 493.1L113.4 493.0L113.8 491.8L113.6 490.6L113.4 490.1L113.1 489.4L112.5 488.2L112.2 487.3L112.0 487.0L111.0 485.8L111.0 485.7L109.8 484.9L109.4 484.6L108.6 484.0L107.9 483.4L107.4 482.8L107.1 482.2L107.0 481.0L107.2 479.8L107.4 479.5L108.1 478.6L108.6 478.1L109.8 477.4L109.9 477.4L111.0 477.2L111.6 477.4L112.2 477.7L113.2 478.6L113.4 478.7L114.5 479.8L114.6 479.9L115.8 481.0L115.8 481.0L116.5 482.2L116.7 483.4L116.9 484.6L117.0 485.5L117.1 485.8L117.2 487.0L117.3 488.2L117.4 489.4L117.5 490.6L117.6 491.8L117.4 493.0L117.0 494.0L116.9 494.2L116.4 495.4L115.8 496.3L115.7 496.6L115.3 497.8L115.3 499.0L115.3 500.2L115.0 501.4L114.6 501.8L113.4 502.6L113.3 502.6L112.2 503.1L111.0 503.3L109.8 503.6L109.1 503.8L108.6 504.0L107.4 504.4L106.2 504.6L105.0 504.5L103.8 504.3L102.6 504.4L101.4 504.9L101.0 505.0L100.2 505.3ZM102.6 494.7L102.1 494.2L101.7 493.0L102.5 491.8L102.6 491.7L103.8 491.1L105.0 490.9L106.2 491.0L107.4 491.6L107.5 491.8L107.4 492.1L106.2 492.2L105.0 492.3L103.8 492.8L103.6 493.0L102.6 494.2L102.6 494.7ZM102.6 497.5L101.8 496.6L102.6 495.8L102.9 496.6L102.6 497.5Z" fill="none" stroke="#8baf73" stroke-width="0.55"/><path d="M106.2 503.9L105.0 503.9L104.5 503.8L105.0 502.8L105.0 502.6L106.2 501.8L106.5 501.4L107.4 500.4L107.6 500.2L107.4 499.4L107.2 499.0L106.2 498.2L105.9 497.8L106.2 497.7L107.4 496.9L107.7 496.6L108.6 495.6L109.8 496.2L110.6 496.6L111.0 496.8L111.1 496.6L112.2 495.8L112.6 495.4L113.4 494.3L113.5 494.2L114.0 493.0L114.4 491.8L114.2 490.6L113.8 489.4L113.4 488.5L113.3 488.2L112.7 487.0L112.2 486.0L112.0 485.8L111.1 484.6L111.0 484.4L110.0 483.4L109.8 483.1L108.8 482.2L108.6 481.8L108.4 481.0L108.6 480.2L108.8 479.8L109.8 479.1L111.0 478.9L112.2 479.5L112.6 479.8L113.4 480.1L114.6 480.6L115.1 481.0L115.8 481.9L116.0 482.2L116.3 483.4L116.5 484.6L116.6 485.8L116.7 487.0L116.7 488.2L116.8 489.4L116.9 490.6L117.0 491.5L117.0 491.8L117.0 492.0L116.8 493.0L116.4 494.2L115.8 495.4L115.8 495.4L115.1 496.6L114.9 497.8L114.9 499.0L114.8 500.2L114.6 500.8L114.3 501.4L113.4 502.1L112.2 502.5L111.8 502.6L111.0 502.8L109.8 503.1L108.6 503.3L107.4 503.7L106.9 503.8L106.2 503.9ZM101.4 504.2L100.2 504.7L99.0 504.8L97.8 504.6L96.6 504.4L95.4 504.7L94.2 504.6L93.0 504.2L92.2 503.8L91.8 503.6L90.6 503.1L89.8 502.6L89.4 501.9L89.1 501.4L89.4 501.0L90.4 500.2L90.6 500.1L91.8 499.9L92.9 500.2L93.0 500.2L94.2 500.6L95.1 501.4L95.4 501.6L96.6 502.0L97.8 501.9L99.0 501.4L99.0 501.4L100.2 501.0L100.9 501.4L101.4 501.7L102.6 502.6L102.7 502.6L102.6 502.9L102.5 503.8L101.4 504.2Z" fill="none" stroke="#7da265" stroke-width="0.55"/><path d="M108.6 502.7L107.4 502.8L106.9 502.6L107.4 501.9L107.6 501.4L108.6 500.4L108.8 500.2L109.8 499.3L110.2 499.0L111.0 498.3L111.4 497.8L112.2 496.7L112.3 496.6L113.4 495.4L113.4 495.4L114.2 494.2L114.6 493.2L114.8 493.0L115.3 491.8L115.0 490.6L114.6 490.1L114.4 489.4L113.9 488.2L113.4 487.3L113.3 487.0L112.6 485.8L112.2 485.0L111.9 484.6L111.2 483.4L111.0 482.2L111.0 482.2L111.0 482.2L111.8 481.0L112.2 480.9L113.4 480.8L113.9 481.0L114.6 481.2L115.5 482.2L115.8 483.4L115.8 483.4L116.1 484.6L116.2 485.8L116.2 487.0L116.2 488.2L116.2 489.4L116.2 490.6L116.2 491.8L116.1 493.0L115.8 494.2L115.8 494.2L115.0 495.4L114.6 496.6L114.6 496.8L114.4 497.8L114.4 499.0L114.4 500.2L113.7 501.4L113.4 501.6L112.2 502.1L111.0 502.3L109.8 502.5L109.4 502.6L108.6 502.7ZM107.4 497.8L107.4 497.8L107.4 497.8L107.5 497.8L107.4 497.8ZM95.4 504.0L94.2 504.1L93.4 503.8L93.0 503.6L91.8 503.1L90.8 502.6L90.6 502.4L90.0 501.4L90.6 500.9L91.8 500.7L93.0 500.9L94.0 501.4L94.2 501.5L95.4 502.4L96.1 502.6L96.6 503.8L95.4 504.0ZM100.2 504.0L99.0 504.2L97.8 503.9L96.6 503.8L97.7 502.6L97.8 502.6L99.0 502.2L100.2 502.1L101.0 502.6L100.8 503.8L100.2 504.0Z" fill="none" stroke="#6f9657" stroke-width="0.55"/><path d="M114.6 488.5L114.5 488.2L113.9 487.0L113.4 486.3L113.1 485.8L112.5 484.6L112.2 483.8L112.0 483.4L112.0 482.2L112.2 482.0L113.4 481.3L114.6 481.7L115.1 482.2L115.4 483.4L115.6 484.6L115.8 485.8L115.7 487.0L115.2 488.2L114.6 488.5ZM112.2 501.7L111.0 501.9L109.8 501.8L108.9 501.4L109.8 500.2L109.8 500.2L111.0 499.2L111.3 499.0L112.2 497.8L112.2 497.8L113.4 496.7L113.8 497.8L113.9 499.0L113.9 500.2L113.4 501.0L112.8 501.4L112.2 501.7ZM91.8 501.5L91.8 501.4L91.8 501.4L91.8 501.4L91.8 501.5ZM94.2 503.0L93.0 502.9L92.0 502.6L93.0 501.8L94.2 502.4L94.5 502.6L94.2 503.0Z" fill="none" stroke="#618949" stroke-width="0.55"/><path d="M114.6 487.0L114.6 487.0L113.8 485.8L113.4 485.4L113.0 484.6L112.6 483.4L112.8 482.2L113.4 481.9L114.6 482.2L114.6 482.2L115.0 483.4L115.2 484.6L115.1 485.8L114.6 487.0L114.6 487.0ZM113.4 500.3L112.2 501.0L111.0 501.3L110.7 500.2L111.0 500.0L112.2 499.2L113.1 499.0L113.4 498.9L113.4 499.0L113.5 500.2L113.4 500.3Z" fill="none" stroke="#527d3a" stroke-width="0.55"/><path d="M114.6 485.4L113.9 484.6L113.4 484.2L113.2 483.4L113.4 482.7L114.6 483.3L114.6 483.4L114.7 484.6L114.6 485.4Z" fill="none" stroke="#44702c" stroke-width="0.55"/></g>
<g opacity="0.90"><path d="M103.8 487.2L103.4 487.0L102.6 486.4L102.0 485.8L101.4 485.1L100.7 484.6L100.2 484.2L99.0 484.0L97.8 484.4L96.6 484.6L95.4 484.4L94.2 483.7L94.0 483.4L93.2 482.2L93.0 481.6L92.8 481.0L92.5 479.8L92.2 478.6L91.8 477.5L91.7 477.4L90.6 476.9L89.4 476.7L88.2 476.6L87.0 476.3L86.8 476.2L85.8 475.9L84.6 475.7L83.4 475.7L82.2 475.6L81.0 475.2L80.6 475.0L79.8 474.8L78.6 474.1L78.3 473.8L77.4 473.0L77.0 472.6L76.2 471.7L75.9 471.4L75.4 470.2L75.2 469.0L75.1 467.8L75.1 466.6L75.2 465.4L75.5 464.2L75.9 463.0L76.2 462.6L76.7 461.8L77.4 461.1L77.9 460.6L78.6 460.0L79.7 459.4L79.8 459.3L81.0 458.8L82.2 458.4L83.4 458.2L83.4 458.2L84.6 458.1L85.8 457.9L87.0 457.6L88.2 457.6L89.4 457.7L90.6 458.0L91.1 458.2L91.8 458.4L93.0 458.8L94.2 459.2L94.7 459.4L95.4 459.6L96.6 460.3L96.9 460.6L97.8 461.6L98.0 461.8L98.8 463.0L99.0 463.7L99.2 464.2L99.6 465.4L99.9 466.6L99.9 467.8L99.9 469.0L100.1 470.2L100.2 470.9L100.4 471.4L100.9 472.6L101.3 473.8L101.4 474.4L101.5 475.0L101.7 476.2L101.7 477.4L102.0 478.6L102.3 479.8L102.6 480.8L102.7 481.0L103.4 482.2L103.8 482.9L104.1 483.4L104.8 484.6L105.0 485.1L105.4 485.8L105.0 486.5L104.3 487.0L103.8 487.2ZM83.4 469.0L83.4 469.0L82.3 467.8L82.2 467.6L82.1 467.8L82.1 469.0L82.2 469.1L83.4 469.1L83.4 469.0Z" fill="none" stroke="#9898d4" stroke-width="0.55"/><path d="M103.8 486.2L103.2 485.8L102.6 485.3L102.0 484.6L101.4 484.0L100.8 483.4L100.2 482.8L99.4 482.2L99.0 481.9L97.8 481.6L96.6 481.5L95.5 481.0L95.4 480.9L94.7 479.8L94.2 478.6L94.2 478.5L93.7 477.4L93.0 476.2L93.0 476.2L91.8 475.9L90.6 475.7L89.4 475.6L88.2 475.5L87.0 475.1L86.7 475.0L85.8 474.4L84.6 474.1L83.4 474.3L82.2 474.3L81.0 474.1L80.2 473.8L79.8 473.6L78.6 472.7L78.5 472.6L77.4 471.5L77.3 471.4L76.6 470.2L76.3 469.0L76.2 468.4L76.0 467.8L75.9 466.6L76.2 465.7L76.3 465.4L76.5 464.2L77.0 463.0L77.4 462.5L78.1 461.8L78.6 461.3L79.4 460.6L79.8 460.3L81.0 459.8L82.2 459.5L82.5 459.4L83.4 459.1L84.6 459.1L85.8 459.0L87.0 458.7L88.2 458.7L89.4 458.8L90.6 459.1L91.6 459.4L91.8 459.5L93.0 459.8L94.2 460.0L95.4 460.5L95.5 460.6L96.6 461.6L96.8 461.8L97.7 463.0L97.8 463.2L98.2 464.2L98.4 465.4L98.7 466.6L98.7 467.8L98.7 469.0L98.7 470.2L98.6 471.4L98.6 472.6L99.0 473.6L99.1 473.8L99.7 475.0L100.1 476.2L100.2 476.6L100.5 477.4L101.0 478.6L101.4 479.6L101.5 479.8L102.0 481.0L102.6 482.1L102.6 482.2L103.3 483.4L103.8 484.2L104.0 484.6L104.3 485.8L103.8 486.2ZM85.6 472.6L85.8 472.6L87.0 472.2L88.2 471.7L88.8 471.4L89.4 470.9L90.5 470.2L90.6 470.0L91.7 469.0L91.8 469.0L93.0 468.1L93.4 467.8L94.2 466.8L94.3 466.6L94.2 465.7L94.1 465.4L93.1 464.2L93.0 464.1L91.8 463.0L91.8 463.0L90.6 462.2L89.4 462.1L88.2 462.0L87.0 461.9L85.8 462.1L84.6 462.2L83.4 462.7L82.8 463.0L82.2 463.4L81.5 464.2L81.0 464.7L80.6 465.4L80.1 466.6L80.0 467.8L80.2 469.0L81.0 470.2L81.0 470.2L82.2 471.4L82.2 471.4L83.4 472.2L84.3 472.6L84.6 472.9L85.6 472.6Z" fill="none" stroke="#8787c8" stroke-width="0.55"/><path d="M81.0 472.9L79.8 472.7L79.7 472.6L78.6 471.6L78.4 471.4L77.4 470.3L77.3 470.2L77.1 469.0L76.8 467.8L76.7 466.6L76.9 465.4L77.1 464.2L77.4 463.6L77.8 463.0L78.6 462.2L79.1 461.8L79.8 461.2L81.0 460.7L81.4 460.6L82.2 460.4L83.4 460.4L84.3 460.6L83.4 460.9L82.7 461.8L82.2 462.1L81.4 463.0L81.0 463.4L80.5 464.2L79.8 465.3L79.7 465.4L79.3 466.6L79.2 467.8L79.3 469.0L79.8 470.0L79.9 470.2L80.7 471.4L81.0 472.0L81.5 472.6L81.0 472.9ZM89.4 460.6L88.2 460.7L87.2 460.6L88.2 460.4L89.4 460.5L89.7 460.6L89.4 460.6ZM100.2 481.7L99.3 481.0L99.0 480.8L97.8 480.3L96.9 479.8L96.6 479.7L95.5 478.6L95.4 478.4L94.7 477.4L94.2 476.6L93.9 476.2L93.0 475.5L91.8 475.1L90.8 475.0L90.6 475.0L89.4 474.8L88.2 474.3L87.6 473.8L88.2 473.2L88.7 472.6L89.4 472.2L90.6 471.5L90.8 471.4L91.8 470.5L92.3 470.2L93.0 469.6L93.8 469.0L94.2 468.6L94.9 467.8L95.4 466.8L95.5 466.6L95.4 466.3L95.2 465.4L94.2 464.2L94.2 464.2L93.2 463.0L93.0 462.8L92.0 461.8L93.0 460.6L94.2 460.8L95.4 461.3L96.0 461.8L96.6 462.6L96.9 463.0L97.4 464.2L97.5 465.4L97.8 466.4L97.9 466.6L98.0 467.8L98.0 469.0L98.0 470.2L97.8 470.9L97.7 471.4L97.3 472.6L97.4 473.8L97.8 474.3L98.3 475.0L99.0 476.1L99.1 476.2L99.8 477.4L100.2 478.3L100.4 478.6L100.9 479.8L101.3 481.0L100.2 481.7ZM101.4 482.7L100.9 482.2L101.4 481.1L101.7 482.2L101.4 482.7Z" fill="none" stroke="#7575bc" stroke-width="0.55"/><path d="M95.4 464.2L94.2 463.1L94.1 463.0L93.6 461.8L94.2 461.6L94.8 461.8L95.4 462.3L96.0 463.0L95.4 464.2ZM79.8 463.7L78.8 463.0L79.8 462.4L80.1 463.0L79.8 463.7ZM78.6 466.5L77.7 465.4L77.9 464.2L78.6 463.1L79.5 464.2L78.9 465.4L78.6 466.5ZM77.4 466.8L77.4 466.6L77.4 466.3L77.9 466.6L77.4 466.8ZM100.2 480.1L99.0 480.1L98.4 479.8L97.8 479.5L96.6 478.7L96.5 478.6L95.4 477.4L95.4 477.3L94.6 476.2L94.2 475.8L93.2 475.0L93.0 474.9L91.8 474.5L90.6 474.2L89.5 473.8L90.2 472.6L90.6 472.4L91.7 471.4L91.8 471.3L93.0 470.5L93.4 470.2L94.2 469.5L94.9 469.0L95.4 468.4L96.3 467.8L96.6 467.4L96.8 467.8L97.2 469.0L97.4 470.2L97.0 471.4L96.6 472.2L96.4 472.6L96.4 473.8L96.6 474.2L97.3 475.0L97.8 475.5L98.4 476.2L99.0 477.1L99.2 477.4L99.8 478.6L100.2 479.6L100.3 479.8L100.2 480.1Z" fill="none" stroke="#6464b0" stroke-width="0.55"/><path d="M99.0 479.0L97.8 478.9L97.4 478.6L96.6 478.0L96.1 477.4L95.4 476.6L95.1 476.2L94.2 475.1L94.0 475.0L93.0 474.4L91.8 473.9L91.5 473.8L91.3 472.6L91.8 472.2L92.6 471.4L93.0 471.1L94.1 470.2L94.2 470.1L95.4 469.4L96.6 469.5L96.7 470.2L96.6 470.6L96.3 471.4L95.8 472.6L95.7 473.8L96.4 475.0L96.6 475.1L97.7 476.2L97.8 476.3L98.5 477.4L99.0 478.3L99.2 478.6L99.0 479.0Z" fill="none" stroke="#5353a4" stroke-width="0.55"/><path d="M94.2 474.5L93.0 474.0L92.6 473.8L92.2 472.6L93.0 471.8L93.5 471.4L94.2 470.9L95.4 470.2L95.6 471.4L95.4 472.0L95.2 472.6L95.0 473.8L94.2 474.5ZM96.6 477.1L96.2 476.2L96.6 476.0L96.8 476.2L96.6 477.1ZM97.8 477.7L97.0 477.4L97.8 477.2L97.9 477.4L97.8 477.7Z" fill="none" stroke="#414198" stroke-width="0.55"/><path d="M94.2 473.9L94.0 473.8L93.2 472.6L94.2 472.0L94.5 472.6L94.3 473.8L94.2 473.9Z" fill="none" stroke="#30308c" stroke-width="0.55"/></g>
<g opacity="0.90"><path d="M84.6 475.1L83.4 475.3L82.2 475.3L81.0 475.0L80.9 475.0L79.8 474.7L78.6 473.9L78.5 473.8L77.5 472.6L77.4 472.4L76.9 471.4L76.7 470.2L76.9 469.0L77.4 467.8L77.4 467.8L78.4 466.6L78.6 466.4L79.8 465.6L80.2 465.4L81.0 465.0L82.2 464.6L83.4 464.5L84.6 464.6L85.8 464.9L86.6 465.4L87.0 465.6L88.0 466.6L88.2 466.8L88.8 467.8L89.2 469.0L89.3 470.2L89.1 471.4L88.5 472.6L88.2 473.0L87.4 473.8L87.0 474.1L85.8 474.8L85.0 475.0L84.6 475.1Z" fill="none" stroke="#b8dc98" stroke-width="0.60"/><path d="M85.8 472.8L84.6 473.4L83.4 473.6L82.2 473.6L81.0 473.3L79.8 472.6L79.8 472.6L79.0 471.4L78.8 470.2L79.0 469.0L79.8 467.9L79.8 467.8L81.0 466.9L81.5 466.6L82.2 466.3L83.4 466.0L84.6 466.1L85.7 466.6L85.8 466.7L86.9 467.8L87.0 467.9L87.5 469.0L87.5 470.2L87.1 471.4L87.0 471.5L86.1 472.6L85.8 472.8Z" fill="none" stroke="#94be74" stroke-width="0.60"/><path d="M84.6 472.0L83.4 472.3L82.2 472.2L81.0 471.6L80.8 471.4L80.4 470.2L80.7 469.0L81.0 468.7L81.9 467.8L82.2 467.6L83.4 467.3L84.6 467.4L85.3 467.8L85.8 468.4L86.1 469.0L86.1 470.2L85.8 470.8L85.4 471.4L84.6 472.0Z" fill="none" stroke="#70a050" stroke-width="0.60"/></g>
<g opacity="0.90"><path d="M77.4 465.4L76.2 465.8L75.0 465.8L73.8 465.4L73.7 465.4L72.6 465.0L71.4 464.2L71.4 464.2L70.3 463.0L70.2 462.7L69.8 461.8L69.7 460.6L70.0 459.4L70.2 459.0L70.6 458.2L71.4 457.3L71.7 457.0L72.6 456.3L73.6 455.8L73.8 455.7L75.0 455.2L76.2 455.0L77.4 455.0L78.6 455.3L79.6 455.8L79.8 455.9L81.0 457.0L81.0 457.0L81.7 458.2L82.0 459.4L81.9 460.6L81.5 461.8L81.0 462.5L80.7 463.0L79.8 463.9L79.5 464.2L78.6 464.9L77.5 465.4L77.4 465.4Z" fill="none" stroke="#f0b8b8" stroke-width="0.60"/><path d="M76.2 464.5L75.0 464.4L74.2 464.2L73.8 464.1L72.6 463.4L72.1 463.0L71.4 461.8L71.4 461.7L71.3 460.6L71.4 460.1L71.6 459.4L72.4 458.2L72.6 458.1L73.8 457.2L74.2 457.0L75.0 456.6L76.2 456.4L77.4 456.5L78.6 456.9L78.7 457.0L79.8 458.0L80.0 458.2L80.4 459.4L80.4 460.6L79.9 461.8L79.8 461.9L78.9 463.0L78.6 463.3L77.4 464.1L77.0 464.2L76.2 464.5Z" fill="none" stroke="#eaa6a6" stroke-width="0.60"/><path d="M77.4 463.1L76.2 463.6L75.0 463.5L73.8 463.1L73.7 463.0L72.6 461.9L72.5 461.8L72.3 460.6L72.6 459.7L72.7 459.4L73.8 458.2L73.8 458.2L75.0 457.6L76.2 457.4L77.4 457.5L78.5 458.2L78.6 458.3L79.3 459.4L79.3 460.6L78.8 461.8L78.6 462.0L77.5 463.0L77.4 463.1Z" fill="none" stroke="#e49494" stroke-width="0.60"/><path d="M77.4 462.1L76.2 462.7L75.0 462.7L73.8 462.0L73.6 461.8L73.2 460.6L73.7 459.4L73.8 459.3L75.0 458.4L76.1 458.2L76.2 458.2L76.3 458.2L77.4 458.5L78.2 459.4L78.4 460.6L77.8 461.8L77.4 462.1Z" fill="none" stroke="#de8282" stroke-width="0.60"/><path d="M76.2 461.9L75.0 461.9L74.9 461.8L74.2 460.6L74.9 459.4L75.0 459.3L76.2 459.1L76.9 459.4L77.4 460.4L77.5 460.6L77.4 460.7L76.4 461.8L76.2 461.9Z" fill="none" stroke="#d87070" stroke-width="0.60"/></g>
<g opacity="0.90"><path d="M109.8 452.2L108.6 452.8L107.4 453.1L106.2 453.2L105.0 453.1L103.8 452.8L102.6 452.2L102.6 452.2L101.4 451.3L101.1 451.0L100.5 449.8L100.5 448.6L101.0 447.4L101.4 446.9L102.2 446.2L102.6 445.9L103.8 445.4L105.0 445.1L106.2 445.1L107.4 445.1L108.6 445.4L109.8 445.9L110.2 446.2L111.0 446.9L111.4 447.4L111.9 448.6L111.9 449.8L111.3 451.0L111.0 451.3L109.8 452.2L109.8 452.2Z" fill="none" stroke="#a8a8a8" stroke-width="0.60"/><path d="M108.6 451.5L107.4 452.0L106.2 452.1L105.0 452.0L103.8 451.5L103.0 451.0L102.6 450.6L102.1 449.8L102.0 448.6L102.6 447.6L102.8 447.4L103.8 446.7L105.0 446.3L105.5 446.2L106.2 446.1L106.9 446.2L107.4 446.3L108.6 446.7L109.6 447.4L109.8 447.6L110.4 448.6L110.3 449.8L109.8 450.6L109.4 451.0L108.6 451.5Z" fill="none" stroke="#707070" stroke-width="0.60"/><path d="M107.4 451.0L106.2 451.2L105.0 451.0L105.0 451.0L103.8 450.2L103.4 449.8L103.3 448.6L103.8 448.0L104.6 447.4L105.0 447.2L106.2 447.0L107.4 447.2L107.8 447.4L108.6 448.0L109.1 448.6L109.0 449.8L108.6 450.2L107.4 451.0L107.4 451.0Z" fill="none" stroke="#383838" stroke-width="0.60"/></g>
<g opacity="0.90"><path d="M117.0 463.3L115.8 463.4L114.6 463.2L113.9 463.0L113.4 462.9L112.2 462.4L111.3 461.8L111.0 461.6L110.0 460.6L109.8 460.2L109.3 459.4L108.9 458.2L108.9 457.0L109.5 455.8L109.8 455.5L111.0 454.9L112.2 454.8L113.4 454.9L114.6 455.3L115.4 455.8L115.8 456.0L117.0 456.8L117.3 457.0L118.2 458.0L118.3 458.2L119.0 459.4L119.2 460.6L119.0 461.8L118.2 462.7L117.6 463.0L117.0 463.3Z" fill="none" stroke="#c0e0a0" stroke-width="0.60"/><path d="M117.0 462.0L115.8 462.4L114.6 462.3L113.4 461.9L113.2 461.8L112.2 461.3L111.3 460.6L111.0 460.2L110.4 459.4L110.1 458.2L110.3 457.0L111.0 456.3L112.2 455.9L113.4 456.0L114.6 456.3L115.8 457.0L115.8 457.0L117.0 458.1L117.1 458.2L117.8 459.4L118.0 460.6L117.3 461.8L117.0 462.0Z" fill="none" stroke="#acd48c" stroke-width="0.60"/><path d="M115.8 461.5L114.6 461.5L113.4 461.2L112.4 460.6L112.2 460.4L111.3 459.4L111.0 458.3L111.0 458.2L111.0 458.1L111.7 457.0L112.2 456.7L113.4 456.7L114.3 457.0L114.6 457.1L115.8 457.9L116.1 458.2L116.9 459.4L116.9 460.6L115.8 461.5Z" fill="none" stroke="#98c878" stroke-width="0.60"/></g>
<g opacity="0.90"><path d="M124.2 470.4L123.0 471.2L121.8 471.4L120.6 471.3L119.4 470.8L118.8 470.2L118.2 469.6L117.8 469.0L117.2 467.8L117.1 466.6L117.1 465.4L117.2 464.2L117.7 463.0L118.2 462.1L118.4 461.8L119.4 460.9L120.1 460.6L120.6 460.4L121.8 460.3L122.8 460.6L123.0 460.6L124.2 461.3L124.7 461.8L125.4 462.7L125.6 463.0L126.1 464.2L126.3 465.4L126.2 466.6L125.9 467.8L125.4 468.7L125.3 469.0L124.4 470.2L124.2 470.4Z" fill="none" stroke="#90b878" stroke-width="0.60"/><path d="M121.8 470.4L120.7 470.2L120.6 470.2L119.4 469.5L118.9 469.0L118.2 467.8L118.2 467.6L117.9 466.6L117.9 465.4L118.2 464.4L118.2 464.2L118.8 463.0L119.4 462.3L120.1 461.8L120.6 461.5L121.8 461.4L123.0 461.8L123.1 461.8L124.2 462.6L124.5 463.0L125.1 464.2L125.3 465.4L125.2 466.6L124.9 467.8L124.2 469.0L124.2 469.0L123.0 470.0L122.4 470.2L121.8 470.4Z" fill="none" stroke="#80a669" stroke-width="0.60"/><path d="M123.0 469.2L121.8 469.7L120.6 469.5L119.9 469.0L119.4 468.6L118.9 467.8L118.5 466.6L118.5 465.4L118.9 464.2L119.4 463.4L119.7 463.0L120.6 462.3L121.8 462.1L123.0 462.5L123.6 463.0L124.2 463.8L124.5 464.2L124.8 465.4L124.7 466.6L124.2 467.8L124.2 467.8L123.2 469.0L123.0 469.2Z" fill="none" stroke="#6f9359" stroke-width="0.60"/><path d="M121.8 469.0L121.7 469.0L120.6 468.8L119.5 467.8L119.4 467.6L119.0 466.6L119.1 465.4L119.4 464.4L119.5 464.2L120.6 463.1L120.8 463.0L121.8 462.8L122.4 463.0L123.0 463.2L123.8 464.2L124.2 465.4L124.2 465.4L124.2 465.5L124.1 466.6L123.6 467.8L123.0 468.5L121.8 469.0L121.8 469.0Z" fill="none" stroke="#5f814a" stroke-width="0.60"/><path d="M121.8 468.4L120.6 468.2L120.2 467.8L119.6 466.6L119.6 465.4L120.1 464.2L120.6 463.7L121.8 463.4L123.0 463.9L123.3 464.2L123.7 465.4L123.6 466.6L123.0 467.8L123.0 467.8L121.8 468.4Z" fill="none" stroke="#4f6f3b" stroke-width="0.60"/><path d="M121.8 467.9L121.5 467.8L120.6 467.5L120.1 466.6L120.1 465.4L120.6 464.5L121.1 464.2L121.8 463.9L122.3 464.2L123.0 464.8L123.2 465.4L123.1 466.6L123.0 466.9L121.9 467.8L121.8 467.9Z" fill="none" stroke="#3e5c2b" stroke-width="0.60"/><path d="M121.8 467.1L120.7 466.6L120.7 465.4L121.8 464.7L122.5 465.4L122.4 466.6L121.8 467.1Z" fill="none" stroke="#2e4a1c" stroke-width="0.60"/></g>
<g opacity="0.90"><path d="M121.8 467.2L120.7 466.6L120.6 466.4L120.1 465.4L120.6 464.6L121.1 464.2L121.8 463.8L122.5 464.2L123.0 464.6L123.5 465.4L123.0 466.4L122.9 466.6L121.8 467.2Z" fill="none" stroke="#e08080" stroke-width="0.60"/><path d="M121.8 466.2L121.1 465.4L121.8 464.8L122.5 465.4L121.8 466.2Z" fill="none" stroke="#c04040" stroke-width="0.60"/></g>
<text x="204.8" y="51.5" font-size="9.6" fill="#222" textLength="82.6" lengthAdjust="spacingAndGlyphs" stroke="#222" stroke-width="0.12">Healthy individuals</text>
<line x1="204.8" y1="53.2" x2="287.4" y2="53.2" stroke="#7cc05a" stroke-width="1"/>
<text x="353.8" y="51.3" font-size="9.6" fill="#222" textLength="25" lengthAdjust="spacingAndGlyphs" stroke="#222" stroke-width="0.12">HSCT</text>
<line x1="353.8" y1="53.3" x2="378.8" y2="53.3" stroke="#4a78cc" stroke-width="1"/>
<text x="449.2" y="51.5" font-size="9.6" fill="#222" textLength="48.5" lengthAdjust="spacingAndGlyphs" stroke="#222" stroke-width="0.12">GVHD (Dx)</text>
<line x1="449.2" y1="53.4" x2="497.7" y2="53.4" stroke="#c03a3a" stroke-width="1"/>
<line x1="206.3" y1="60.4" x2="206.3" y2="140.3" stroke="#111" stroke-width="1.2"/>
<line x1="204.7" y1="138.56" x2="206.3" y2="138.56" stroke="#111" stroke-width="0.8"/>
<line x1="204.7" y1="135.13" x2="206.3" y2="135.13" stroke="#111" stroke-width="0.8"/>
<line x1="204.7" y1="128.27" x2="206.3" y2="128.27" stroke="#111" stroke-width="0.8"/>
<line x1="204.7" y1="124.84" x2="206.3" y2="124.84" stroke="#111" stroke-width="0.8"/>
<line x1="204.7" y1="121.41" x2="206.3" y2="121.41" stroke="#111" stroke-width="0.8"/>
<line x1="204.7" y1="114.55" x2="206.3" y2="114.55" stroke="#111" stroke-width="0.8"/>
<line x1="204.7" y1="111.12" x2="206.3" y2="111.12" stroke="#111" stroke-width="0.8"/>
<line x1="204.7" y1="107.69" x2="206.3" y2="107.69" stroke="#111" stroke-width="0.8"/>
<line x1="204.7" y1="100.83" x2="206.3" y2="100.83" stroke="#111" stroke-width="0.8"/>
<line x1="204.7" y1="97.4" x2="206.3" y2="97.4" stroke="#111" stroke-width="0.8"/>
<line x1="204.7" y1="93.97" x2="206.3" y2="93.97" stroke="#111" stroke-width="0.8"/>
<line x1="204.7" y1="87.11" x2="206.3" y2="87.11" stroke="#111" stroke-width="0.8"/>
<line x1="204.7" y1="83.68" x2="206.3" y2="83.68" stroke="#111" stroke-width="0.8"/>
<line x1="204.7" y1="80.25" x2="206.3" y2="80.25" stroke="#111" stroke-width="0.8"/>
<line x1="204.7" y1="73.39" x2="206.3" y2="73.39" stroke="#111" stroke-width="0.8"/>
<line x1="204.7" y1="69.96" x2="206.3" y2="69.96" stroke="#111" stroke-width="0.8"/>
<line x1="204.7" y1="66.53" x2="206.3" y2="66.53" stroke="#111" stroke-width="0.8"/>
<line x1="203.4" y1="131.7" x2="206.3" y2="131.7" stroke="#111" stroke-width="1"/>
<text x="200.9" y="134.19" font-size="8.3" text-anchor="end" fill="#222" stroke="#222" stroke-width="0.12">0</text>
<line x1="203.4" y1="117.98" x2="206.3" y2="117.98" stroke="#111" stroke-width="1"/>
<text x="200.9" y="120.47" font-size="8.3" text-anchor="end" fill="#222" stroke="#222" stroke-width="0.12">20</text>
<line x1="203.4" y1="104.26" x2="206.3" y2="104.26" stroke="#111" stroke-width="1"/>
<text x="200.9" y="106.75" font-size="8.3" text-anchor="end" fill="#222" stroke="#222" stroke-width="0.12">40</text>
<line x1="203.4" y1="90.54" x2="206.3" y2="90.54" stroke="#111" stroke-width="1"/>
<text x="200.9" y="93.03" font-size="8.3" text-anchor="end" fill="#222" stroke="#222" stroke-width="0.12">60</text>
<line x1="203.4" y1="76.82" x2="206.3" y2="76.82" stroke="#111" stroke-width="1"/>
<text x="200.9" y="79.31" font-size="8.3" text-anchor="end" fill="#222" stroke="#222" stroke-width="0.12">80</text>
<line x1="203.4" y1="63.1" x2="206.3" y2="63.1" stroke="#111" stroke-width="1"/>
<text x="200.9" y="65.59" font-size="8.3" text-anchor="end" fill="#222" stroke="#222" stroke-width="0.12">100</text>
<line x1="205.7" y1="139.7" x2="285.4" y2="139.7" stroke="#111" stroke-width="1.2"/>
<line x1="210.07" y1="139.7" x2="210.07" y2="141.3" stroke="#111" stroke-width="0.8"/>
<line x1="216.93" y1="139.7" x2="216.93" y2="141.3" stroke="#111" stroke-width="0.8"/>
<line x1="220.36" y1="139.7" x2="220.36" y2="141.3" stroke="#111" stroke-width="0.8"/>
<line x1="223.79" y1="139.7" x2="223.79" y2="141.3" stroke="#111" stroke-width="0.8"/>
<line x1="230.65" y1="139.7" x2="230.65" y2="141.3" stroke="#111" stroke-width="0.8"/>
<line x1="234.08" y1="139.7" x2="234.08" y2="141.3" stroke="#111" stroke-width="0.8"/>
<line x1="237.51" y1="139.7" x2="237.51" y2="141.3" stroke="#111" stroke-width="0.8"/>
<line x1="244.37" y1="139.7" x2="244.37" y2="141.3" stroke="#111" stroke-width="0.8"/>
<line x1="247.8" y1="139.7" x2="247.8" y2="141.3" stroke="#111" stroke-width="0.8"/>
<line x1="251.23" y1="139.7" x2="251.23" y2="141.3" stroke="#111" stroke-width="0.8"/>
<line x1="258.09" y1="139.7" x2="258.09" y2="141.3" stroke="#111" stroke-width="0.8"/>
<line x1="261.52" y1="139.7" x2="261.52" y2="141.3" stroke="#111" stroke-width="0.8"/>
<line x1="264.95" y1="139.7" x2="264.95" y2="141.3" stroke="#111" stroke-width="0.8"/>
<line x1="271.81" y1="139.7" x2="271.81" y2="141.3" stroke="#111" stroke-width="0.8"/>
<line x1="275.24" y1="139.7" x2="275.24" y2="141.3" stroke="#111" stroke-width="0.8"/>
<line x1="278.67" y1="139.7" x2="278.67" y2="141.3" stroke="#111" stroke-width="0.8"/>
<line x1="213.5" y1="139.7" x2="213.5" y2="142.6" stroke="#111" stroke-width="1"/>
<text x="213.5" y="153.19" font-size="8.3" text-anchor="middle" fill="#222" stroke="#222" stroke-width="0.12">0</text>
<line x1="227.22" y1="139.7" x2="227.22" y2="142.6" stroke="#111" stroke-width="1"/>
<text x="227.22" y="153.19" font-size="8.3" text-anchor="middle" fill="#222" stroke="#222" stroke-width="0.12">20</text>
<line x1="240.94" y1="139.7" x2="240.94" y2="142.6" stroke="#111" stroke-width="1"/>
<text x="240.94" y="153.19" font-size="8.3" text-anchor="middle" fill="#222" stroke="#222" stroke-width="0.12">40</text>
<line x1="254.66" y1="139.7" x2="254.66" y2="142.6" stroke="#111" stroke-width="1"/>
<text x="254.66" y="153.19" font-size="8.3" text-anchor="middle" fill="#222" stroke="#222" stroke-width="0.12">60</text>
<line x1="268.38" y1="139.7" x2="268.38" y2="142.6" stroke="#111" stroke-width="1"/>
<text x="268.38" y="153.19" font-size="8.3" text-anchor="middle" fill="#222" stroke="#222" stroke-width="0.12">80</text>
<line x1="282.1" y1="139.7" x2="282.1" y2="142.6" stroke="#111" stroke-width="1"/>
<text x="282.1" y="153.19" font-size="8.3" text-anchor="middle" fill="#222" stroke="#222" stroke-width="0.12">100</text>
<line x1="327.7" y1="61.8" x2="327.7" y2="140.4" stroke="#111" stroke-width="1.2"/>
<line x1="326.1" y1="128.93" x2="327.7" y2="128.93" stroke="#111" stroke-width="0.8"/>
<line x1="326.1" y1="123.56" x2="327.7" y2="123.56" stroke="#111" stroke-width="0.8"/>
<line x1="326.1" y1="118.19" x2="327.7" y2="118.19" stroke="#111" stroke-width="0.8"/>
<line x1="326.1" y1="112.82" x2="327.7" y2="112.82" stroke="#111" stroke-width="0.8"/>
<line x1="326.1" y1="102.08" x2="327.7" y2="102.08" stroke="#111" stroke-width="0.8"/>
<line x1="326.1" y1="96.71" x2="327.7" y2="96.71" stroke="#111" stroke-width="0.8"/>
<line x1="326.1" y1="91.34" x2="327.7" y2="91.34" stroke="#111" stroke-width="0.8"/>
<line x1="326.1" y1="85.97" x2="327.7" y2="85.97" stroke="#111" stroke-width="0.8"/>
<line x1="326.1" y1="75.23" x2="327.7" y2="75.23" stroke="#111" stroke-width="0.8"/>
<line x1="326.1" y1="69.86" x2="327.7" y2="69.86" stroke="#111" stroke-width="0.8"/>
<line x1="326.1" y1="64.49" x2="327.7" y2="64.49" stroke="#111" stroke-width="0.8"/>
<line x1="324.8" y1="134.3" x2="327.7" y2="134.3" stroke="#111" stroke-width="1"/>
<text x="321.4" y="136.79" font-size="8.3" text-anchor="end" fill="#222" stroke="#222" stroke-width="0.12">0</text>
<line x1="324.8" y1="107.45" x2="327.7" y2="107.45" stroke="#111" stroke-width="1"/>
<text x="321.4" y="109.94" font-size="8.3" text-anchor="end" fill="#222" stroke="#222" stroke-width="0.12">50</text>
<line x1="324.8" y1="80.6" x2="327.7" y2="80.6" stroke="#111" stroke-width="1"/>
<text x="321.4" y="83.09" font-size="8.3" text-anchor="end" fill="#222" stroke="#222" stroke-width="0.12">100</text>
<line x1="327.1" y1="139.8" x2="404.6" y2="139.8" stroke="#111" stroke-width="1.2"/>
<line x1="338.15" y1="139.8" x2="338.15" y2="141.4" stroke="#111" stroke-width="0.8"/>
<line x1="343.4" y1="139.8" x2="343.4" y2="141.4" stroke="#111" stroke-width="0.8"/>
<line x1="348.65" y1="139.8" x2="348.65" y2="141.4" stroke="#111" stroke-width="0.8"/>
<line x1="353.9" y1="139.8" x2="353.9" y2="141.4" stroke="#111" stroke-width="0.8"/>
<line x1="364.4" y1="139.8" x2="364.4" y2="141.4" stroke="#111" stroke-width="0.8"/>
<line x1="369.65" y1="139.8" x2="369.65" y2="141.4" stroke="#111" stroke-width="0.8"/>
<line x1="374.9" y1="139.8" x2="374.9" y2="141.4" stroke="#111" stroke-width="0.8"/>
<line x1="380.15" y1="139.8" x2="380.15" y2="141.4" stroke="#111" stroke-width="0.8"/>
<line x1="390.65" y1="139.8" x2="390.65" y2="141.4" stroke="#111" stroke-width="0.8"/>
<line x1="395.9" y1="139.8" x2="395.9" y2="141.4" stroke="#111" stroke-width="0.8"/>
<line x1="401.15" y1="139.8" x2="401.15" y2="141.4" stroke="#111" stroke-width="0.8"/>
<line x1="332.9" y1="139.8" x2="332.9" y2="142.7" stroke="#111" stroke-width="1"/>
<text x="332.9" y="153.19" font-size="8.3" text-anchor="middle" fill="#222" stroke="#222" stroke-width="0.12">0</text>
<line x1="359.15" y1="139.8" x2="359.15" y2="142.7" stroke="#111" stroke-width="1"/>
<text x="359.15" y="153.19" font-size="8.3" text-anchor="middle" fill="#222" stroke="#222" stroke-width="0.12">50</text>
<line x1="385.4" y1="139.8" x2="385.4" y2="142.7" stroke="#111" stroke-width="1"/>
<text x="385.4" y="153.19" font-size="8.3" text-anchor="middle" fill="#222" stroke="#222" stroke-width="0.12">100</text>
<line x1="434.2" y1="61.2" x2="434.2" y2="140.2" stroke="#111" stroke-width="1.2"/>
<line x1="432.6" y1="137.58" x2="434.2" y2="137.58" stroke="#111" stroke-width="0.8"/>
<line x1="432.6" y1="134.84" x2="434.2" y2="134.84" stroke="#111" stroke-width="0.8"/>
<line x1="432.6" y1="129.36" x2="434.2" y2="129.36" stroke="#111" stroke-width="0.8"/>
<line x1="432.6" y1="126.62" x2="434.2" y2="126.62" stroke="#111" stroke-width="0.8"/>
<line x1="432.6" y1="123.88" x2="434.2" y2="123.88" stroke="#111" stroke-width="0.8"/>
<line x1="432.6" y1="121.14" x2="434.2" y2="121.14" stroke="#111" stroke-width="0.8"/>
<line x1="432.6" y1="115.66" x2="434.2" y2="115.66" stroke="#111" stroke-width="0.8"/>
<line x1="432.6" y1="112.92" x2="434.2" y2="112.92" stroke="#111" stroke-width="0.8"/>
<line x1="432.6" y1="110.18" x2="434.2" y2="110.18" stroke="#111" stroke-width="0.8"/>
<line x1="432.6" y1="107.44" x2="434.2" y2="107.44" stroke="#111" stroke-width="0.8"/>
<line x1="432.6" y1="101.96" x2="434.2" y2="101.96" stroke="#111" stroke-width="0.8"/>
<line x1="432.6" y1="99.22" x2="434.2" y2="99.22" stroke="#111" stroke-width="0.8"/>
<line x1="432.6" y1="96.48" x2="434.2" y2="96.48" stroke="#111" stroke-width="0.8"/>
<line x1="432.6" y1="93.74" x2="434.2" y2="93.74" stroke="#111" stroke-width="0.8"/>
<line x1="432.6" y1="88.26" x2="434.2" y2="88.26" stroke="#111" stroke-width="0.8"/>
<line x1="432.6" y1="85.52" x2="434.2" y2="85.52" stroke="#111" stroke-width="0.8"/>
<line x1="432.6" y1="82.78" x2="434.2" y2="82.78" stroke="#111" stroke-width="0.8"/>
<line x1="432.6" y1="80.04" x2="434.2" y2="80.04" stroke="#111" stroke-width="0.8"/>
<line x1="432.6" y1="74.56" x2="434.2" y2="74.56" stroke="#111" stroke-width="0.8"/>
<line x1="432.6" y1="71.82" x2="434.2" y2="71.82" stroke="#111" stroke-width="0.8"/>
<line x1="432.6" y1="69.08" x2="434.2" y2="69.08" stroke="#111" stroke-width="0.8"/>
<line x1="432.6" y1="66.34" x2="434.2" y2="66.34" stroke="#111" stroke-width="0.8"/>
<line x1="431.3" y1="132.1" x2="434.2" y2="132.1" stroke="#111" stroke-width="1"/>
<text x="428.2" y="134.59" font-size="8.3" text-anchor="end" fill="#222" stroke="#222" stroke-width="0.12">0</text>
<line x1="431.3" y1="118.4" x2="434.2" y2="118.4" stroke="#111" stroke-width="1"/>
<text x="428.2" y="120.89" font-size="8.3" text-anchor="end" fill="#222" stroke="#222" stroke-width="0.12">10</text>
<line x1="431.3" y1="104.7" x2="434.2" y2="104.7" stroke="#111" stroke-width="1"/>
<text x="428.2" y="107.19" font-size="8.3" text-anchor="end" fill="#222" stroke="#222" stroke-width="0.12">20</text>
<line x1="431.3" y1="91" x2="434.2" y2="91" stroke="#111" stroke-width="1"/>
<text x="428.2" y="93.49" font-size="8.3" text-anchor="end" fill="#222" stroke="#222" stroke-width="0.12">30</text>
<line x1="431.3" y1="77.3" x2="434.2" y2="77.3" stroke="#111" stroke-width="1"/>
<text x="428.2" y="79.79" font-size="8.3" text-anchor="end" fill="#222" stroke="#222" stroke-width="0.12">40</text>
<line x1="431.3" y1="63.6" x2="434.2" y2="63.6" stroke="#111" stroke-width="1"/>
<text x="428.2" y="66.09" font-size="8.3" text-anchor="end" fill="#222" stroke="#222" stroke-width="0.12">50</text>
<line x1="433.6" y1="139.6" x2="512.8" y2="139.6" stroke="#111" stroke-width="1.2"/>
<line x1="435.78" y1="139.6" x2="435.78" y2="141.2" stroke="#111" stroke-width="0.8"/>
<line x1="439.44" y1="139.6" x2="439.44" y2="141.2" stroke="#111" stroke-width="0.8"/>
<line x1="446.76" y1="139.6" x2="446.76" y2="141.2" stroke="#111" stroke-width="0.8"/>
<line x1="450.42" y1="139.6" x2="450.42" y2="141.2" stroke="#111" stroke-width="0.8"/>
<line x1="454.08" y1="139.6" x2="454.08" y2="141.2" stroke="#111" stroke-width="0.8"/>
<line x1="457.74" y1="139.6" x2="457.74" y2="141.2" stroke="#111" stroke-width="0.8"/>
<line x1="465.06" y1="139.6" x2="465.06" y2="141.2" stroke="#111" stroke-width="0.8"/>
<line x1="468.72" y1="139.6" x2="468.72" y2="141.2" stroke="#111" stroke-width="0.8"/>
<line x1="472.38" y1="139.6" x2="472.38" y2="141.2" stroke="#111" stroke-width="0.8"/>
<line x1="476.04" y1="139.6" x2="476.04" y2="141.2" stroke="#111" stroke-width="0.8"/>
<line x1="483.36" y1="139.6" x2="483.36" y2="141.2" stroke="#111" stroke-width="0.8"/>
<line x1="487.02" y1="139.6" x2="487.02" y2="141.2" stroke="#111" stroke-width="0.8"/>
<line x1="490.68" y1="139.6" x2="490.68" y2="141.2" stroke="#111" stroke-width="0.8"/>
<line x1="494.34" y1="139.6" x2="494.34" y2="141.2" stroke="#111" stroke-width="0.8"/>
<line x1="501.66" y1="139.6" x2="501.66" y2="141.2" stroke="#111" stroke-width="0.8"/>
<line x1="505.32" y1="139.6" x2="505.32" y2="141.2" stroke="#111" stroke-width="0.8"/>
<line x1="508.98" y1="139.6" x2="508.98" y2="141.2" stroke="#111" stroke-width="0.8"/>
<line x1="512.64" y1="139.6" x2="512.64" y2="141.2" stroke="#111" stroke-width="0.8"/>
<line x1="443.1" y1="139.6" x2="443.1" y2="142.5" stroke="#111" stroke-width="1"/>
<text x="443.1" y="153.19" font-size="8.3" text-anchor="middle" fill="#222" stroke="#222" stroke-width="0.12">0</text>
<line x1="461.4" y1="139.6" x2="461.4" y2="142.5" stroke="#111" stroke-width="1"/>
<text x="461.4" y="153.19" font-size="8.3" text-anchor="middle" fill="#222" stroke="#222" stroke-width="0.12">10</text>
<line x1="479.7" y1="139.6" x2="479.7" y2="142.5" stroke="#111" stroke-width="1"/>
<text x="479.7" y="153.19" font-size="8.3" text-anchor="middle" fill="#222" stroke="#222" stroke-width="0.12">20</text>
<line x1="498" y1="139.6" x2="498" y2="142.5" stroke="#111" stroke-width="1"/>
<text x="498" y="153.19" font-size="8.3" text-anchor="middle" fill="#222" stroke="#222" stroke-width="0.12">30</text>
<text x="181.3" y="100.6" font-size="9.1" text-anchor="middle" fill="#222" textLength="21.3" lengthAdjust="spacingAndGlyphs" transform="rotate(-90 181.3 100.6)" stroke="#222" stroke-width="0.12">tSNE2</text>
<text x="245.4" y="166.4" font-size="9.1" text-anchor="middle" fill="#222" textLength="20.2" lengthAdjust="spacingAndGlyphs" stroke="#222" stroke-width="0.12">tSNE1</text>
<line x1="260.5" y1="163.3" x2="512.8" y2="163.3" stroke="#111" stroke-width="1"/>
<rect x="263.7" y="172.5" width="8" height="8" fill="#cf3a22"/>
<text x="275.2" y="179.3" font-size="7.6" fill="#222" textLength="21.2" lengthAdjust="spacingAndGlyphs" stroke="#222" stroke-width="0.12">HLA-II</text>
<rect x="317.6" y="172.5" width="8" height="8" fill="#2b2a86"/>
<text x="329.1" y="179.3" font-size="7.6" fill="#222" textLength="20" lengthAdjust="spacingAndGlyphs" stroke="#222" stroke-width="0.12">CD94</text>
<rect x="372.2" y="172.5" width="8" height="8" fill="#68ad48"/>
<text x="383.7" y="179.3" font-size="7.6" fill="#222" textLength="23.9" lengthAdjust="spacingAndGlyphs" stroke="#222" stroke-width="0.12">KLRG1</text>
<rect x="426.2" y="172.5" width="8" height="8" fill="#000000"/>
<text x="437.7" y="179.3" font-size="7.6" fill="#222" textLength="23.1" lengthAdjust="spacingAndGlyphs" stroke="#222" stroke-width="0.12">CD161</text>
<rect x="62.3" y="278.23" width="3.9" height="47.57" fill="#aad292"/>
<rect x="79.8" y="262.85" width="3.1" height="62.95" fill="#c88484"/>
<rect x="82.9" y="246.52" width="3.6" height="79.28" fill="#a8bfe6"/>
<line x1="50.5" y1="226.9" x2="50.5" y2="326.4" stroke="#111" stroke-width="1.2"/>
<line x1="46.9" y1="325.8" x2="50.5" y2="325.8" stroke="#111" stroke-width="1"/>
<text x="44.1" y="328.32" font-size="8.4" text-anchor="end" fill="#222" stroke="#222" stroke-width="0.12">0</text>
<line x1="46.9" y1="277.75" x2="50.5" y2="277.75" stroke="#111" stroke-width="1"/>
<text x="44.1" y="280.27" font-size="8.4" text-anchor="end" fill="#222" stroke="#222" stroke-width="0.12">50</text>
<line x1="46.9" y1="229.7" x2="50.5" y2="229.7" stroke="#111" stroke-width="1"/>
<text x="44.1" y="232.22" font-size="8.4" text-anchor="end" fill="#222" stroke="#222" stroke-width="0.12">100</text>
<line x1="49.9" y1="325.8" x2="172.7" y2="325.8" stroke="#111" stroke-width="1.2"/>
<line x1="50.5" y1="325.8" x2="50.5" y2="328.2" stroke="#111" stroke-width="1"/>
<text x="50.5" y="339.62" font-size="8.4" text-anchor="middle" fill="#222" stroke="#222" stroke-width="0.12">0</text>
<line x1="80.44" y1="325.8" x2="80.44" y2="328.2" stroke="#111" stroke-width="1"/>
<text x="80.44" y="339.62" font-size="8.4" text-anchor="middle" fill="#222" stroke="#222" stroke-width="0.12">20</text>
<line x1="110.38" y1="325.8" x2="110.38" y2="328.2" stroke="#111" stroke-width="1"/>
<text x="110.38" y="339.62" font-size="8.4" text-anchor="middle" fill="#222" stroke="#222" stroke-width="0.12">40</text>
<line x1="140.32" y1="325.8" x2="140.32" y2="328.2" stroke="#111" stroke-width="1"/>
<text x="140.32" y="339.62" font-size="8.4" text-anchor="middle" fill="#222" stroke="#222" stroke-width="0.12">60</text>
<line x1="170.26" y1="325.8" x2="170.26" y2="328.2" stroke="#111" stroke-width="1"/>
<text x="170.26" y="339.62" font-size="8.4" text-anchor="middle" fill="#222" stroke="#222" stroke-width="0.12">80</text>
<text x="25.3" y="276.9" font-size="9.8" text-anchor="middle" fill="#222" textLength="78.4" lengthAdjust="spacingAndGlyphs" transform="rotate(-90 25.3 276.9)" stroke="#222" stroke-width="0.12">Frequency KLRG1<tspan font-size="5.6" dy="-3.6">+</tspan><tspan dy="3.6"> (%)</tspan></text>
<text x="111.9" y="356.2" font-size="9.8" text-anchor="middle" fill="#222" textLength="73.8" lengthAdjust="spacingAndGlyphs" stroke="#222" stroke-width="0.12">Frequency CD94<tspan font-size="5.6" dy="-3.6">+</tspan><tspan dy="3.6"> (%)</tspan></text>
<circle cx="64.8" cy="233.5" r="1.35" fill="#4ea42c"/>
<circle cx="66" cy="253.8" r="1.35" fill="#4ea42c"/>
<circle cx="56.7" cy="262.1" r="1.35" fill="#4ea42c"/>
<circle cx="54.1" cy="280.6" r="1.35" fill="#4ea42c"/>
<circle cx="60.2" cy="294.5" r="1.35" fill="#4ea42c"/>
<circle cx="82.5" cy="281.9" r="1.35" fill="#4ea42c"/>
<circle cx="104.5" cy="277.1" r="1.35" fill="#4ea42c"/>
<circle cx="67.1" cy="233.5" r="1.35" fill="#2a64c0"/>
<circle cx="66.3" cy="238.8" r="1.35" fill="#2a64c0"/>
<circle cx="72.3" cy="238.2" r="1.35" fill="#2a64c0"/>
<circle cx="74.4" cy="245.2" r="1.35" fill="#2a64c0"/>
<circle cx="81.5" cy="248.3" r="1.35" fill="#2a64c0"/>
<circle cx="83.6" cy="244.8" r="1.35" fill="#2a64c0"/>
<circle cx="85.6" cy="246.8" r="1.35" fill="#2a64c0"/>
<circle cx="72.3" cy="255" r="1.35" fill="#2a64c0"/>
<circle cx="74.6" cy="256.3" r="1.35" fill="#2a64c0"/>
<circle cx="90.2" cy="231" r="1.35" fill="#2a64c0"/>
<circle cx="96.6" cy="263.5" r="1.35" fill="#2a64c0"/>
<circle cx="77.5" cy="278.4" r="1.35" fill="#2a64c0"/>
<circle cx="102.3" cy="239" r="1.35" fill="#2a64c0"/>
<circle cx="111.6" cy="237.9" r="1.35" fill="#2a64c0"/>
<circle cx="110" cy="256.9" r="1.35" fill="#2a64c0"/>
<circle cx="114" cy="257.3" r="1.35" fill="#2a64c0"/>
<circle cx="110.5" cy="262.9" r="1.35" fill="#2a64c0"/>
<circle cx="73.8" cy="233.8" r="1.35" fill="#8a0c0c"/>
<circle cx="73.2" cy="249.8" r="1.35" fill="#8a0c0c"/>
<circle cx="76.1" cy="253.7" r="1.35" fill="#8a0c0c"/>
<circle cx="62.2" cy="260" r="1.35" fill="#8a0c0c"/>
<circle cx="79" cy="260" r="1.35" fill="#8a0c0c"/>
<circle cx="65.6" cy="266.7" r="1.35" fill="#8a0c0c"/>
<circle cx="66.1" cy="269.6" r="1.35" fill="#8a0c0c"/>
<circle cx="76.7" cy="269.3" r="1.35" fill="#8a0c0c"/>
<circle cx="81.8" cy="269.8" r="1.35" fill="#8a0c0c"/>
<circle cx="89" cy="265.3" r="1.35" fill="#8a0c0c"/>
<circle cx="75.2" cy="289.4" r="1.35" fill="#8a0c0c"/>
<circle cx="96.1" cy="287.7" r="1.35" fill="#8a0c0c"/>
<circle cx="146.1" cy="243.5" r="1.35" fill="#8a0c0c"/>
<circle cx="101.3" cy="258.7" r="1.35" fill="#8a0c0c"/>
<circle cx="107" cy="258.9" r="1.35" fill="#8a0c0c"/>
<circle cx="106.4" cy="260.4" r="1.35" fill="#8a0c0c"/>
<circle cx="129.5" cy="263.8" r="1.35" fill="#8a0c0c"/>
<circle cx="159" cy="265.8" r="1.35" fill="#8a0c0c"/>
<line x1="79.5" y1="215.8" x2="86.5" y2="215.8" stroke="#111" stroke-width="1"/>
<line x1="79.5" y1="214.8" x2="79.5" y2="216.8" stroke="#111" stroke-width="0.8"/>
<line x1="86.5" y1="214.8" x2="86.5" y2="216.8" stroke="#111" stroke-width="0.8"/>
<text x="83.1" y="211.8" font-size="7.2" text-anchor="middle" fill="#222" stroke="#222" stroke-width="0.12">ns</text>
<line x1="62.3" y1="226.5" x2="86.4" y2="226.5" stroke="#111" stroke-width="1"/>
<line x1="62.3" y1="225.5" x2="62.3" y2="227.5" stroke="#111" stroke-width="0.8"/>
<line x1="86.4" y1="225.5" x2="86.4" y2="227.5" stroke="#111" stroke-width="0.8"/>
<line x1="62.3" y1="229.6" x2="83.6" y2="229.6" stroke="#111" stroke-width="1"/>
<line x1="62.3" y1="228.6" x2="62.3" y2="230.6" stroke="#111" stroke-width="0.8"/>
<line x1="83.6" y1="228.6" x2="83.6" y2="230.6" stroke="#111" stroke-width="0.8"/>
<text x="74.4" y="226.2" font-size="7.2" text-anchor="middle" fill="#222" stroke="#222" stroke-width="0.12">*</text>
<line x1="166.4" y1="246.5" x2="166.4" y2="278.3" stroke="#111" stroke-width="1"/>
<line x1="165.4" y1="246.5" x2="167.4" y2="246.5" stroke="#111" stroke-width="0.8"/>
<line x1="165.4" y1="278.3" x2="167.4" y2="278.3" stroke="#111" stroke-width="0.8"/>
<line x1="171.25" y1="246.5" x2="171.25" y2="262.1" stroke="#111" stroke-width="1"/>
<line x1="170.25" y1="246.5" x2="172.25" y2="246.5" stroke="#111" stroke-width="0.8"/>
<line x1="170.25" y1="262.1" x2="172.25" y2="262.1" stroke="#111" stroke-width="0.8"/>
<text x="176" y="255.6" font-size="7.5" fill="#222" textLength="9.2" lengthAdjust="spacingAndGlyphs" stroke="#222" stroke-width="0.12">***</text>
<text x="171.4" y="274.1" font-size="7.5" fill="#222" textLength="9.2" lengthAdjust="spacingAndGlyphs" stroke="#222" stroke-width="0.12">***</text>
<rect x="278" y="275.2" width="3.6" height="50.3" fill="#c88484"/>
<rect x="327" y="291.01" width="3.5" height="34.49" fill="#a8bfe6"/>
<line x1="232.4" y1="226.9" x2="232.4" y2="326.1" stroke="#111" stroke-width="1.2"/>
<line x1="228.8" y1="325.5" x2="232.4" y2="325.5" stroke="#111" stroke-width="1"/>
<text x="226" y="328.02" font-size="8.4" text-anchor="end" fill="#222" stroke="#222" stroke-width="0.12">0</text>
<line x1="228.8" y1="277.6" x2="232.4" y2="277.6" stroke="#111" stroke-width="1"/>
<text x="226" y="280.12" font-size="8.4" text-anchor="end" fill="#222" stroke="#222" stroke-width="0.12">50</text>
<line x1="228.8" y1="229.7" x2="232.4" y2="229.7" stroke="#111" stroke-width="1"/>
<text x="226" y="232.22" font-size="8.4" text-anchor="end" fill="#222" stroke="#222" stroke-width="0.12">100</text>
<line x1="231.8" y1="325.4" x2="354.4" y2="325.4" stroke="#111" stroke-width="1.2"/>
<line x1="232.5" y1="325.4" x2="232.5" y2="327.8" stroke="#111" stroke-width="1"/>
<text x="232.5" y="339.42" font-size="8.4" text-anchor="middle" fill="#222" stroke="#222" stroke-width="0.12">0</text>
<line x1="291.85" y1="325.4" x2="291.85" y2="327.8" stroke="#111" stroke-width="1"/>
<text x="291.85" y="339.42" font-size="8.4" text-anchor="middle" fill="#222" stroke="#222" stroke-width="0.12">50</text>
<line x1="351.2" y1="325.4" x2="351.2" y2="327.8" stroke="#111" stroke-width="1"/>
<text x="351.2" y="339.42" font-size="8.4" text-anchor="middle" fill="#222" stroke="#222" stroke-width="0.12">100</text>
<text x="207.3" y="275.7" font-size="9.8" text-anchor="middle" fill="#222" textLength="75.7" lengthAdjust="spacingAndGlyphs" transform="rotate(-90 207.3 275.7)" stroke="#222" stroke-width="0.12">Frequency HLA-II<tspan font-size="5.6" dy="-3.6">+</tspan><tspan dy="3.6"> (%)</tspan></text>
<text x="294" y="356.2" font-size="9.8" text-anchor="middle" fill="#222" textLength="78.5" lengthAdjust="spacingAndGlyphs" stroke="#222" stroke-width="0.12">Frequency CD161<tspan font-size="5.6" dy="-3.6">+</tspan><tspan dy="3.6"> (%)</tspan></text>
<circle cx="267.2" cy="324.6" r="1.35" fill="#4ea42c"/>
<circle cx="300" cy="324.6" r="1.35" fill="#4ea42c"/>
<circle cx="308" cy="324.6" r="1.35" fill="#4ea42c"/>
<circle cx="314.8" cy="324.6" r="1.35" fill="#4ea42c"/>
<circle cx="322.9" cy="324.6" r="1.35" fill="#4ea42c"/>
<circle cx="341.7" cy="324.6" r="1.35" fill="#4ea42c"/>
<circle cx="347.1" cy="324.6" r="1.35" fill="#4ea42c"/>
<circle cx="291.2" cy="273.1" r="1.35" fill="#2a64c0"/>
<circle cx="295.7" cy="289.5" r="1.35" fill="#2a64c0"/>
<circle cx="306.2" cy="296.6" r="1.35" fill="#2a64c0"/>
<circle cx="316.9" cy="287.4" r="1.35" fill="#2a64c0"/>
<circle cx="322.6" cy="256.2" r="1.35" fill="#2a64c0"/>
<circle cx="328.8" cy="254.9" r="1.35" fill="#2a64c0"/>
<circle cx="334.2" cy="257.4" r="1.35" fill="#2a64c0"/>
<circle cx="340" cy="278" r="1.35" fill="#2a64c0"/>
<circle cx="340.3" cy="296.5" r="1.35" fill="#2a64c0"/>
<circle cx="350.5" cy="297.2" r="1.35" fill="#2a64c0"/>
<circle cx="295.4" cy="304.2" r="1.35" fill="#2a64c0"/>
<circle cx="302.2" cy="303.7" r="1.35" fill="#2a64c0"/>
<circle cx="301.4" cy="305.6" r="1.35" fill="#2a64c0"/>
<circle cx="299.5" cy="309.1" r="1.35" fill="#2a64c0"/>
<circle cx="334.2" cy="301.5" r="1.35" fill="#2a64c0"/>
<circle cx="328.3" cy="314.2" r="1.35" fill="#2a64c0"/>
<circle cx="332.3" cy="314.5" r="1.35" fill="#2a64c0"/>
<circle cx="348.5" cy="311.5" r="1.35" fill="#2a64c0"/>
<circle cx="350.6" cy="311.5" r="1.35" fill="#2a64c0"/>
<circle cx="252.3" cy="235.1" r="1.35" fill="#8a0c0c"/>
<circle cx="259.2" cy="235.1" r="1.35" fill="#8a0c0c"/>
<circle cx="280" cy="253.1" r="1.35" fill="#8a0c0c"/>
<circle cx="257.4" cy="257.7" r="1.35" fill="#8a0c0c"/>
<circle cx="270" cy="262" r="1.35" fill="#8a0c0c"/>
<circle cx="294.6" cy="264.3" r="1.35" fill="#8a0c0c"/>
<circle cx="269.5" cy="271.5" r="1.35" fill="#8a0c0c"/>
<circle cx="276.5" cy="274.3" r="1.35" fill="#8a0c0c"/>
<circle cx="283.5" cy="278.5" r="1.35" fill="#8a0c0c"/>
<circle cx="284.9" cy="283.1" r="1.35" fill="#8a0c0c"/>
<circle cx="250.3" cy="283.5" r="1.35" fill="#8a0c0c"/>
<circle cx="279.5" cy="287.7" r="1.35" fill="#8a0c0c"/>
<circle cx="248.9" cy="293.8" r="1.35" fill="#8a0c0c"/>
<circle cx="313.8" cy="284.9" r="1.35" fill="#8a0c0c"/>
<circle cx="313.5" cy="300.2" r="1.35" fill="#8a0c0c"/>
<circle cx="344.6" cy="267.1" r="1.35" fill="#8a0c0c"/>
<circle cx="284.7" cy="303.4" r="1.35" fill="#8a0c0c"/>
<circle cx="291.9" cy="310.2" r="1.35" fill="#8a0c0c"/>
<line x1="277.4" y1="228.5" x2="330.8" y2="228.5" stroke="#111" stroke-width="1"/>
<line x1="277.4" y1="227.5" x2="277.4" y2="229.5" stroke="#111" stroke-width="0.8"/>
<line x1="330.8" y1="227.5" x2="330.8" y2="229.5" stroke="#111" stroke-width="0.8"/>
<text x="304.2" y="227.6" font-size="7.5" text-anchor="middle" fill="#222" textLength="13" lengthAdjust="spacingAndGlyphs" stroke="#222" stroke-width="0.12">****</text>
<line x1="359.7" y1="275.1" x2="359.7" y2="290.8" stroke="#111" stroke-width="1"/>
<line x1="358.7" y1="275.1" x2="360.7" y2="275.1" stroke="#111" stroke-width="0.8"/>
<line x1="358.7" y1="290.8" x2="360.7" y2="290.8" stroke="#111" stroke-width="0.8"/>
<text x="361.8" y="285.6" font-size="7.5" fill="#222" textLength="5.9" lengthAdjust="spacingAndGlyphs" stroke="#222" stroke-width="0.12">**</text>
<circle cx="376" cy="230.1" r="2.85" fill="#62a844"/>
<text x="382.3" y="232.2" font-size="7.3" fill="#262626" textLength="64.4" lengthAdjust="spacingAndGlyphs" stroke="#262626" stroke-width="0.12">Healthy individuals</text>
<line x1="382.3" y1="234" x2="446.7" y2="234" stroke="#86c468" stroke-width="0.9"/>
<circle cx="376" cy="241.7" r="2.85" fill="#4674c4"/>
<text x="382.3" y="243.8" font-size="7.3" fill="#262626" textLength="19.2" lengthAdjust="spacingAndGlyphs" stroke="#262626" stroke-width="0.12">HSCT</text>
<line x1="382.3" y1="245.6" x2="401.5" y2="245.6" stroke="#3d6fd0" stroke-width="0.9"/>
<circle cx="376" cy="253.2" r="2.85" fill="#8c1818"/>
<text x="382.3" y="255.3" font-size="7.3" fill="#262626" textLength="37.7" lengthAdjust="spacingAndGlyphs" stroke="#262626" stroke-width="0.12">GVHD (Dx)</text>
<line x1="382.3" y1="257.1" x2="420" y2="257.1" stroke="#a82424" stroke-width="0.9"/>
<text x="81.7" y="433.1" font-size="9.6" fill="#222" textLength="17.3" lengthAdjust="spacingAndGlyphs" stroke="#222" stroke-width="0.12">T1D</text>
<line x1="81.7" y1="435.1" x2="99" y2="435.1" stroke="#222" stroke-width="1"/>
<line x1="50.1" y1="439" x2="50.1" y2="516" stroke="#111" stroke-width="1.2"/>
<line x1="48.5" y1="510.82" x2="50.1" y2="510.82" stroke="#111" stroke-width="0.8"/>
<line x1="48.5" y1="501.57" x2="50.1" y2="501.57" stroke="#111" stroke-width="0.8"/>
<line x1="48.5" y1="496.95" x2="50.1" y2="496.95" stroke="#111" stroke-width="0.8"/>
<line x1="48.5" y1="492.32" x2="50.1" y2="492.32" stroke="#111" stroke-width="0.8"/>
<line x1="48.5" y1="483.07" x2="50.1" y2="483.07" stroke="#111" stroke-width="0.8"/>
<line x1="48.5" y1="478.45" x2="50.1" y2="478.45" stroke="#111" stroke-width="0.8"/>
<line x1="48.5" y1="473.82" x2="50.1" y2="473.82" stroke="#111" stroke-width="0.8"/>
<line x1="48.5" y1="464.57" x2="50.1" y2="464.57" stroke="#111" stroke-width="0.8"/>
<line x1="48.5" y1="459.95" x2="50.1" y2="459.95" stroke="#111" stroke-width="0.8"/>
<line x1="48.5" y1="455.32" x2="50.1" y2="455.32" stroke="#111" stroke-width="0.8"/>
<line x1="48.5" y1="446.07" x2="50.1" y2="446.07" stroke="#111" stroke-width="0.8"/>
<line x1="48.5" y1="441.45" x2="50.1" y2="441.45" stroke="#111" stroke-width="0.8"/>
<line x1="47.5" y1="506.2" x2="50.1" y2="506.2" stroke="#111" stroke-width="1"/>
<text x="44.2" y="509.42" font-size="8.4" text-anchor="end" fill="#222" stroke="#222" stroke-width="0.12">0</text>
<line x1="47.5" y1="487.7" x2="50.1" y2="487.7" stroke="#111" stroke-width="1"/>
<text x="44.2" y="490.92" font-size="8.4" text-anchor="end" fill="#222" stroke="#222" stroke-width="0.12">20</text>
<line x1="47.5" y1="469.2" x2="50.1" y2="469.2" stroke="#111" stroke-width="1"/>
<text x="44.2" y="472.42" font-size="8.4" text-anchor="end" fill="#222" stroke="#222" stroke-width="0.12">40</text>
<line x1="47.5" y1="450.7" x2="50.1" y2="450.7" stroke="#111" stroke-width="1"/>
<text x="44.2" y="453.92" font-size="8.4" text-anchor="end" fill="#222" stroke="#222" stroke-width="0.12">60</text>
<line x1="49.5" y1="515.4" x2="128.9" y2="515.4" stroke="#111" stroke-width="1.2"/>
<line x1="50.18" y1="515.4" x2="50.18" y2="517" stroke="#111" stroke-width="0.8"/>
<line x1="62.23" y1="515.4" x2="62.23" y2="517" stroke="#111" stroke-width="0.8"/>
<line x1="68.25" y1="515.4" x2="68.25" y2="517" stroke="#111" stroke-width="0.8"/>
<line x1="74.28" y1="515.4" x2="74.28" y2="517" stroke="#111" stroke-width="0.8"/>
<line x1="86.33" y1="515.4" x2="86.33" y2="517" stroke="#111" stroke-width="0.8"/>
<line x1="92.35" y1="515.4" x2="92.35" y2="517" stroke="#111" stroke-width="0.8"/>
<line x1="98.38" y1="515.4" x2="98.38" y2="517" stroke="#111" stroke-width="0.8"/>
<line x1="110.43" y1="515.4" x2="110.43" y2="517" stroke="#111" stroke-width="0.8"/>
<line x1="116.45" y1="515.4" x2="116.45" y2="517" stroke="#111" stroke-width="0.8"/>
<line x1="122.48" y1="515.4" x2="122.48" y2="517" stroke="#111" stroke-width="0.8"/>
<line x1="56.2" y1="515.4" x2="56.2" y2="518.3" stroke="#111" stroke-width="1"/>
<text x="56.2" y="528.95" font-size="8.2" text-anchor="middle" fill="#222" stroke="#222" stroke-width="0.12">0</text>
<line x1="80.3" y1="515.4" x2="80.3" y2="518.3" stroke="#111" stroke-width="1"/>
<text x="80.3" y="528.95" font-size="8.2" text-anchor="middle" fill="#222" stroke="#222" stroke-width="0.12">20</text>
<line x1="104.4" y1="515.4" x2="104.4" y2="518.3" stroke="#111" stroke-width="1"/>
<text x="104.4" y="528.95" font-size="8.2" text-anchor="middle" fill="#222" stroke="#222" stroke-width="0.12">40</text>
<line x1="128.5" y1="515.4" x2="128.5" y2="518.3" stroke="#111" stroke-width="1"/>
<text x="128.5" y="528.95" font-size="8.2" text-anchor="middle" fill="#222" stroke="#222" stroke-width="0.12">60</text>
<text x="89.7" y="542.4" font-size="9.1" text-anchor="middle" fill="#222" textLength="20.8" lengthAdjust="spacingAndGlyphs" stroke="#222" stroke-width="0.12">tSNE1</text>
<text x="29.6" y="477" font-size="9.1" text-anchor="middle" fill="#222" textLength="21.3" lengthAdjust="spacingAndGlyphs" transform="rotate(-90 29.6 477)" stroke="#222" stroke-width="0.12">tSNE2</text>
<rect x="140.7" y="444.8" width="8.1" height="7.5" fill="#cf3a22"/>
<text x="151.8" y="451.9" font-size="7.6" fill="#222" textLength="21" lengthAdjust="spacingAndGlyphs" stroke="#222" stroke-width="0.12">HLA-II</text>
<rect x="140.7" y="458.5" width="8.1" height="7.5" fill="#2b2a86"/>
<text x="151.8" y="465.6" font-size="7.6" fill="#222" textLength="19.1" lengthAdjust="spacingAndGlyphs" stroke="#222" stroke-width="0.12">CD94</text>
<rect x="140.7" y="472.3" width="8.1" height="7.5" fill="#68ad48"/>
<text x="151.8" y="479.4" font-size="7.6" fill="#222" textLength="22.5" lengthAdjust="spacingAndGlyphs" stroke="#222" stroke-width="0.12">KLRG1</text>
<rect x="140.7" y="485.9" width="8.1" height="7.5" fill="#000000"/>
<text x="151.8" y="493" font-size="7.6" fill="#222" textLength="22.9" lengthAdjust="spacingAndGlyphs" stroke="#222" stroke-width="0.12">CD161</text>
<circle cx="252.1" cy="388.5" r="2.9" fill="#62a844"/>
<text x="258.7" y="390.4" font-size="7.6" fill="#222" textLength="64" lengthAdjust="spacingAndGlyphs" stroke="#222" stroke-width="0.12">Healthy individuals</text>
<line x1="258.7" y1="392.3" x2="322.7" y2="392.3" stroke="#7cc05a" stroke-width="0.9"/>
<circle cx="331.5" cy="388.4" r="2.9" fill="#000"/>
<text x="338.2" y="390.4" font-size="7.6" fill="#222" textLength="14.1" lengthAdjust="spacingAndGlyphs" stroke="#222" stroke-width="0.12">T1D</text>
<line x1="338.2" y1="392" x2="352.3" y2="392" stroke="#333" stroke-width="0.9"/>
<line x1="230.6" y1="398.5" x2="230.6" y2="516.5" stroke="#111" stroke-width="1.2"/>
<line x1="230" y1="515.9" x2="372.4" y2="515.9" stroke="#111" stroke-width="1.2"/>
<line x1="301.5" y1="515.9" x2="301.5" y2="518.4" stroke="#111" stroke-width="0.9"/>
<line x1="372.4" y1="515.9" x2="372.4" y2="518.4" stroke="#111" stroke-width="0.9"/>
<text x="230.6" y="529.1" font-size="8.6" text-anchor="middle" fill="#222" stroke="#222" stroke-width="0.12">0</text>
<text x="301.5" y="529.1" font-size="8.6" text-anchor="middle" fill="#222" stroke="#222" stroke-width="0.12">50</text>
<text x="372.4" y="529.1" font-size="8.6" text-anchor="middle" fill="#222" stroke="#222" stroke-width="0.12">100</text>
<text x="301.8" y="542" font-size="9.8" text-anchor="middle" fill="#222" textLength="48.2" lengthAdjust="spacingAndGlyphs" stroke="#222" stroke-width="0.12">Frequency (%)</text>
<line x1="372.1" y1="398.3" x2="372.1" y2="515.5" stroke="#111" stroke-width="1.1"/>
<line x1="389.3" y1="398.3" x2="389.3" y2="515.5" stroke="#111" stroke-width="1.1"/>
<line x1="227.4" y1="409.4" x2="230.6" y2="409.4" stroke="#111" stroke-width="0.9"/>
<text x="224.4" y="412.2" font-size="8.4" text-anchor="end" fill="#222" textLength="22.4" lengthAdjust="spacingAndGlyphs" stroke="#222" stroke-width="0.12">HLA-II</text>
<text x="380.9" y="411.8" font-size="8.6" text-anchor="middle" fill="#222" textLength="10.5" lengthAdjust="spacingAndGlyphs" stroke="#222" stroke-width="0.12">***</text>
<line x1="227.4" y1="425.3" x2="230.6" y2="425.3" stroke="#111" stroke-width="0.9"/>
<text x="224.4" y="428.1" font-size="8.4" text-anchor="end" fill="#222" textLength="23.9" lengthAdjust="spacingAndGlyphs" stroke="#222" stroke-width="0.12">KLRG1</text>
<text x="380.9" y="427.9" font-size="8.1" text-anchor="middle" fill="#222" textLength="8.6" lengthAdjust="spacingAndGlyphs" stroke="#222" stroke-width="0.12">ns</text>
<line x1="227.4" y1="441.3" x2="230.6" y2="441.3" stroke="#111" stroke-width="0.9"/>
<text x="224.4" y="444.1" font-size="8.4" text-anchor="end" fill="#222" textLength="24.8" lengthAdjust="spacingAndGlyphs" stroke="#222" stroke-width="0.12">CD161</text>
<text x="380.9" y="443.7" font-size="8.6" text-anchor="middle" fill="#222" textLength="3.5" lengthAdjust="spacingAndGlyphs" stroke="#222" stroke-width="0.12">*</text>
<line x1="227.4" y1="457.2" x2="230.6" y2="457.2" stroke="#111" stroke-width="0.9"/>
<text x="224.4" y="460" font-size="8.4" text-anchor="end" fill="#222" textLength="20.7" lengthAdjust="spacingAndGlyphs" stroke="#222" stroke-width="0.12">CD94</text>
<text x="380.9" y="459.6" font-size="8.6" text-anchor="middle" fill="#222" textLength="7" lengthAdjust="spacingAndGlyphs" stroke="#222" stroke-width="0.12">**</text>
<line x1="227.4" y1="473.2" x2="230.6" y2="473.2" stroke="#111" stroke-width="0.9"/>
<text x="224.4" y="476" font-size="8.4" text-anchor="end" fill="#222" textLength="12.5" lengthAdjust="spacingAndGlyphs" stroke="#222" stroke-width="0.12">DN</text>
<text x="380.9" y="475.8" font-size="8.1" text-anchor="middle" fill="#222" textLength="8.6" lengthAdjust="spacingAndGlyphs" stroke="#222" stroke-width="0.12">ns</text>
<line x1="227.4" y1="489.1" x2="230.6" y2="489.1" stroke="#111" stroke-width="0.9"/>
<text x="224.4" y="491.9" font-size="8.4" text-anchor="end" fill="#222" textLength="16.7" lengthAdjust="spacingAndGlyphs" stroke="#222" stroke-width="0.12">CD8</text>
<text x="380.9" y="491.7" font-size="8.1" text-anchor="middle" fill="#222" textLength="8.6" lengthAdjust="spacingAndGlyphs" stroke="#222" stroke-width="0.12">ns</text>
<line x1="227.4" y1="505" x2="230.6" y2="505" stroke="#111" stroke-width="0.9"/>
<text x="224.4" y="507.8" font-size="8.4" text-anchor="end" fill="#222" textLength="16.8" lengthAdjust="spacingAndGlyphs" stroke="#222" stroke-width="0.12">CD4</text>
<text x="380.9" y="507.6" font-size="8.1" text-anchor="middle" fill="#222" textLength="8.6" lengthAdjust="spacingAndGlyphs" stroke="#222" stroke-width="0.12">ns</text>
<circle cx="230.6" cy="409.4" r="2.5" fill="#62ae3e"/>
<line x1="257.5" y1="409.4" x2="282" y2="409.4" stroke="#000" stroke-width="1"/>
<line x1="257.5" y1="408.1" x2="257.5" y2="410.7" stroke="#000" stroke-width="0.8"/>
<line x1="282" y1="408.1" x2="282" y2="410.7" stroke="#000" stroke-width="0.8"/>
<circle cx="270" cy="409.4" r="2.6" fill="#000"/>
<line x1="302.7" y1="425.3" x2="326.3" y2="425.3" stroke="#62ae3e" stroke-width="1"/>
<line x1="302.7" y1="424" x2="302.7" y2="426.6" stroke="#62ae3e" stroke-width="0.8"/>
<line x1="326.3" y1="424" x2="326.3" y2="426.6" stroke="#62ae3e" stroke-width="0.8"/>
<circle cx="315.2" cy="425.3" r="2.5" fill="#62ae3e"/>
<line x1="297.5" y1="425.3" x2="327.3" y2="425.3" stroke="#000" stroke-width="1"/>
<line x1="297.5" y1="424" x2="297.5" y2="426.6" stroke="#000" stroke-width="0.8"/>
<line x1="327.3" y1="424" x2="327.3" y2="426.6" stroke="#000" stroke-width="0.8"/>
<circle cx="312.3" cy="425.3" r="2.6" fill="#000"/>
<line x1="319.6" y1="441.3" x2="341.3" y2="441.3" stroke="#62ae3e" stroke-width="1"/>
<line x1="319.6" y1="440" x2="319.6" y2="442.6" stroke="#62ae3e" stroke-width="0.8"/>
<line x1="341.3" y1="440" x2="341.3" y2="442.6" stroke="#62ae3e" stroke-width="0.8"/>
<circle cx="330.6" cy="441.3" r="2.5" fill="#62ae3e"/>
<line x1="280.2" y1="441.3" x2="301.3" y2="441.3" stroke="#000" stroke-width="1"/>
<line x1="280.2" y1="440" x2="280.2" y2="442.6" stroke="#000" stroke-width="0.8"/>
<line x1="301.3" y1="440" x2="301.3" y2="442.6" stroke="#000" stroke-width="0.8"/>
<circle cx="290.8" cy="441.3" r="2.6" fill="#000"/>
<line x1="240.2" y1="457.2" x2="250.8" y2="457.2" stroke="#62ae3e" stroke-width="1"/>
<line x1="240.2" y1="455.9" x2="240.2" y2="458.5" stroke="#62ae3e" stroke-width="0.8"/>
<line x1="250.8" y1="455.9" x2="250.8" y2="458.5" stroke="#62ae3e" stroke-width="0.8"/>
<circle cx="245.4" cy="457.2" r="2.5" fill="#62ae3e"/>
<line x1="262.8" y1="457.2" x2="282.8" y2="457.2" stroke="#000" stroke-width="1"/>
<line x1="262.8" y1="455.9" x2="262.8" y2="458.5" stroke="#000" stroke-width="0.8"/>
<line x1="282.8" y1="455.9" x2="282.8" y2="458.5" stroke="#000" stroke-width="0.8"/>
<circle cx="272.9" cy="457.2" r="2.6" fill="#000"/>
<line x1="289.2" y1="473.2" x2="306.2" y2="473.2" stroke="#62ae3e" stroke-width="1"/>
<line x1="289.2" y1="471.9" x2="289.2" y2="474.5" stroke="#62ae3e" stroke-width="0.8"/>
<line x1="306.2" y1="471.9" x2="306.2" y2="474.5" stroke="#62ae3e" stroke-width="0.8"/>
<circle cx="297.9" cy="473.2" r="2.5" fill="#62ae3e"/>
<line x1="272.5" y1="473.2" x2="295.5" y2="473.2" stroke="#000" stroke-width="1"/>
<line x1="272.5" y1="471.9" x2="272.5" y2="474.5" stroke="#000" stroke-width="0.8"/>
<line x1="295.5" y1="471.9" x2="295.5" y2="474.5" stroke="#000" stroke-width="0.8"/>
<circle cx="284" cy="473.2" r="2.6" fill="#000"/>
<line x1="244.6" y1="489.1" x2="252.7" y2="489.1" stroke="#62ae3e" stroke-width="1"/>
<line x1="244.6" y1="487.8" x2="244.6" y2="490.4" stroke="#62ae3e" stroke-width="0.8"/>
<line x1="252.7" y1="487.8" x2="252.7" y2="490.4" stroke="#62ae3e" stroke-width="0.8"/>
<circle cx="248.8" cy="489.1" r="2.5" fill="#62ae3e"/>
<line x1="256.2" y1="489.1" x2="261.9" y2="489.1" stroke="#000" stroke-width="1"/>
<line x1="256.2" y1="487.8" x2="256.2" y2="490.4" stroke="#000" stroke-width="0.8"/>
<line x1="261.9" y1="487.8" x2="261.9" y2="490.4" stroke="#000" stroke-width="0.8"/>
<circle cx="258.8" cy="489.1" r="2.6" fill="#000"/>
<line x1="275.4" y1="505" x2="294.6" y2="505" stroke="#62ae3e" stroke-width="1"/>
<line x1="275.4" y1="503.7" x2="275.4" y2="506.3" stroke="#62ae3e" stroke-width="0.8"/>
<line x1="294.6" y1="503.7" x2="294.6" y2="506.3" stroke="#62ae3e" stroke-width="0.8"/>
<circle cx="285" cy="505" r="2.5" fill="#62ae3e"/>
<line x1="288.8" y1="505" x2="309.6" y2="505" stroke="#000" stroke-width="1"/>
<line x1="288.8" y1="503.7" x2="288.8" y2="506.3" stroke="#000" stroke-width="0.8"/>
<line x1="309.6" y1="503.7" x2="309.6" y2="506.3" stroke="#000" stroke-width="0.8"/>
<circle cx="299.4" cy="505" r="2.6" fill="#000"/>
</svg>
</body></html>
